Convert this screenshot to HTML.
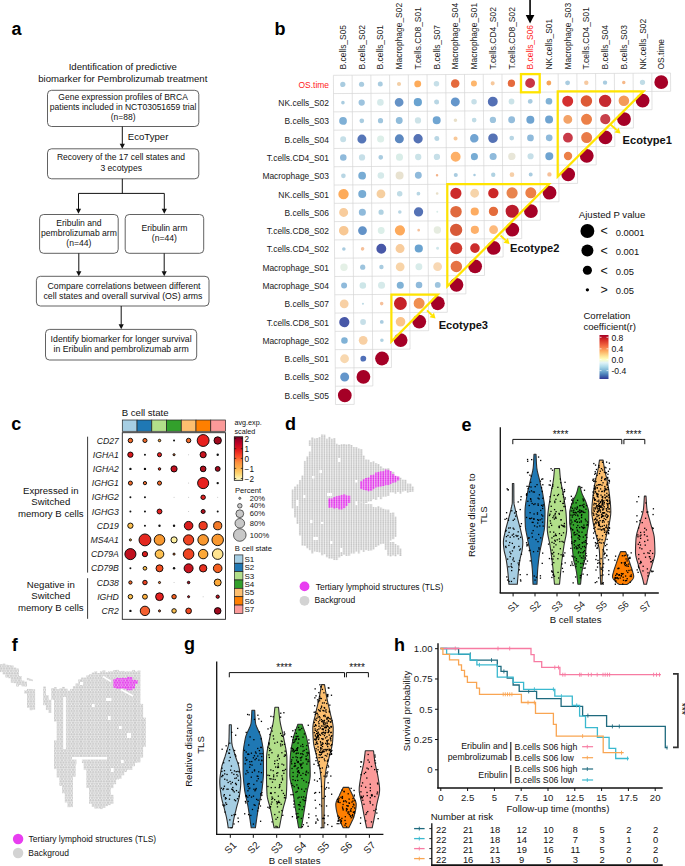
<!DOCTYPE html><html><head><meta charset="utf-8"><style>html,body{margin:0;padding:0;background:#fff;}svg{display:block;}</style></head><body><svg width="685" height="866" viewBox="0 0 685 866" style="font-family:'Liberation Sans',sans-serif"><rect width="685" height="866" fill="#fff"/><text x="11.50" y="34.50" font-size="18" text-anchor="start" font-weight="bold" font-style="normal" fill="#000" >a</text>
<text x="274.50" y="34.80" font-size="18" text-anchor="start" font-weight="bold" font-style="normal" fill="#000" >b</text>
<text x="11.30" y="429.80" font-size="18" text-anchor="start" font-weight="bold" font-style="normal" fill="#000" >c</text>
<text x="285.00" y="430.20" font-size="18" text-anchor="start" font-weight="bold" font-style="normal" fill="#000" >d</text>
<text x="461.60" y="430.70" font-size="18" text-anchor="start" font-weight="bold" font-style="normal" fill="#000" >e</text>
<text x="11.70" y="650.70" font-size="18" text-anchor="start" font-weight="bold" font-style="normal" fill="#000" >f</text>
<text x="183.90" y="650.00" font-size="18" text-anchor="start" font-weight="bold" font-style="normal" fill="#000" >g</text>
<text x="394.00" y="650.80" font-size="18" text-anchor="start" font-weight="bold" font-style="normal" fill="#000" >h</text>
<text x="122.80" y="70.40" font-size="9.6" text-anchor="middle" font-weight="normal" font-style="normal" fill="#111" >Identification of predictive</text>
<text x="122.80" y="81.50" font-size="9.6" text-anchor="middle" font-weight="normal" font-style="normal" fill="#111" >biomarker for Pembrolizumab treatment</text>
<rect x="47.50" y="90.30" width="151.30" height="36.20" rx="4" ry="4" fill="none" stroke="#3a3a3a" stroke-width="0.8"/>
<text x="123.10" y="100.20" font-size="8.5" text-anchor="middle" font-weight="normal" font-style="normal" fill="#111" >Gene expression profiles of BRCA</text>
<text x="123.10" y="109.90" font-size="8.5" text-anchor="middle" font-weight="normal" font-style="normal" fill="#111" >patients included in NCT03051659 trial</text>
<text x="123.10" y="120.00" font-size="8.5" text-anchor="middle" font-weight="normal" font-style="normal" fill="#111" >(n=88)</text>
<line x1="122.3" y1="126.5" x2="122.3" y2="144.3" stroke="#111" stroke-width="1"/>
<path d="M119.7,143.8 L124.89999999999999,143.8 L122.3,148.8 Z" fill="#111"/>
<text x="127.80" y="140.00" font-size="9.6" text-anchor="start" font-weight="normal" font-style="normal" fill="#111" >EcoTyper</text>
<rect x="47.50" y="148.80" width="151.30" height="30.00" rx="4" ry="4" fill="none" stroke="#3a3a3a" stroke-width="0.8"/>
<text x="121.00" y="160.40" font-size="8.5" text-anchor="middle" font-weight="normal" font-style="normal" fill="#111" >Recovery of the 17 cell states and</text>
<text x="121.20" y="171.00" font-size="8.6" text-anchor="middle" font-weight="normal" font-style="normal" fill="#111" >3 ecotypes</text>
<polyline points="122.3,178.8 122.3,193.4" fill="none" stroke="#111" stroke-width="1"/>
<polyline points="78.5,193.4 164.3,193.4" fill="none" stroke="#111" stroke-width="1"/>
<line x1="78.5" y1="193.4" x2="78.5" y2="209.3" stroke="#111" stroke-width="1"/>
<path d="M75.9,208.8 L81.1,208.8 L78.5,213.8 Z" fill="#111"/>
<line x1="164.3" y1="193.4" x2="164.3" y2="209.3" stroke="#111" stroke-width="1"/>
<path d="M161.70000000000002,208.8 L166.9,208.8 L164.3,213.8 Z" fill="#111"/>
<rect x="39.60" y="214.50" width="78.60" height="38.80" rx="4" ry="4" fill="none" stroke="#3a3a3a" stroke-width="0.8"/>
<text x="78.90" y="226.00" font-size="8.6" text-anchor="middle" font-weight="normal" font-style="normal" fill="#111" >Eribulin and</text>
<text x="78.90" y="236.40" font-size="8.6" text-anchor="middle" font-weight="normal" font-style="normal" fill="#111" >pembrolizumab arm</text>
<text x="78.90" y="246.20" font-size="8.6" text-anchor="middle" font-weight="normal" font-style="normal" fill="#111" >(n=44)</text>
<rect x="125.20" y="214.50" width="78.50" height="38.80" rx="4" ry="4" fill="none" stroke="#3a3a3a" stroke-width="0.8"/>
<text x="164.40" y="230.50" font-size="8.6" text-anchor="middle" font-weight="normal" font-style="normal" fill="#111" >Eribulin arm</text>
<text x="164.40" y="240.80" font-size="8.6" text-anchor="middle" font-weight="normal" font-style="normal" fill="#111" >(n=44)</text>
<line x1="78.8" y1="253.3" x2="78.8" y2="271.7" stroke="#111" stroke-width="1"/>
<path d="M76.2,271.2 L81.39999999999999,271.2 L78.8,276.2 Z" fill="#111"/>
<line x1="164.2" y1="253.3" x2="164.2" y2="271.7" stroke="#111" stroke-width="1"/>
<path d="M161.6,271.2 L166.79999999999998,271.2 L164.2,276.2 Z" fill="#111"/>
<rect x="36.40" y="276.30" width="172.60" height="29.70" rx="4" ry="4" fill="none" stroke="#3a3a3a" stroke-width="0.8"/>
<text x="124.00" y="288.50" font-size="8.75" text-anchor="middle" font-weight="normal" font-style="normal" fill="#111" >Compare correlations between different</text>
<text x="123.00" y="298.60" font-size="8.75" text-anchor="middle" font-weight="normal" font-style="normal" fill="#111" >cell states and overall survival (OS) arms</text>
<line x1="121.2" y1="306" x2="121.2" y2="324.8" stroke="#111" stroke-width="1"/>
<path d="M118.60000000000001,324.3 L123.8,324.3 L121.2,329.3 Z" fill="#111"/>
<rect x="45.50" y="329.40" width="151.20" height="30.60" rx="4" ry="4" fill="none" stroke="#3a3a3a" stroke-width="0.8"/>
<text x="121.10" y="342.00" font-size="8.75" text-anchor="middle" font-weight="normal" font-style="normal" fill="#111" >Identify biomarker for longer survival</text>
<text x="121.10" y="352.20" font-size="8.75" text-anchor="middle" font-weight="normal" font-style="normal" fill="#111" >in Eribulin and pembrolizumab arm</text>
<g transform="matrix(1,-0.006834,0.006342,1,-0.4776,2.2784)">
<line x1="333.40" y1="75.30" x2="670.54" y2="75.30" stroke="#d6d6d6" stroke-width="0.7"/>
<line x1="333.40" y1="93.59" x2="670.54" y2="93.59" stroke="#d6d6d6" stroke-width="0.7"/>
<line x1="333.40" y1="111.88" x2="651.81" y2="111.88" stroke="#d6d6d6" stroke-width="0.7"/>
<line x1="333.40" y1="130.17" x2="633.08" y2="130.17" stroke="#d6d6d6" stroke-width="0.7"/>
<line x1="333.40" y1="148.46" x2="614.35" y2="148.46" stroke="#d6d6d6" stroke-width="0.7"/>
<line x1="333.40" y1="166.75" x2="595.62" y2="166.75" stroke="#d6d6d6" stroke-width="0.7"/>
<line x1="333.40" y1="185.04" x2="576.89" y2="185.04" stroke="#d6d6d6" stroke-width="0.7"/>
<line x1="333.40" y1="203.33" x2="558.16" y2="203.33" stroke="#d6d6d6" stroke-width="0.7"/>
<line x1="333.40" y1="221.62" x2="539.43" y2="221.62" stroke="#d6d6d6" stroke-width="0.7"/>
<line x1="333.40" y1="239.91" x2="520.70" y2="239.91" stroke="#d6d6d6" stroke-width="0.7"/>
<line x1="333.40" y1="258.20" x2="501.97" y2="258.20" stroke="#d6d6d6" stroke-width="0.7"/>
<line x1="333.40" y1="276.49" x2="483.24" y2="276.49" stroke="#d6d6d6" stroke-width="0.7"/>
<line x1="333.40" y1="294.78" x2="464.51" y2="294.78" stroke="#d6d6d6" stroke-width="0.7"/>
<line x1="333.40" y1="313.07" x2="445.78" y2="313.07" stroke="#d6d6d6" stroke-width="0.7"/>
<line x1="333.40" y1="331.36" x2="427.05" y2="331.36" stroke="#d6d6d6" stroke-width="0.7"/>
<line x1="333.40" y1="349.65" x2="408.32" y2="349.65" stroke="#d6d6d6" stroke-width="0.7"/>
<line x1="333.40" y1="367.94" x2="389.59" y2="367.94" stroke="#d6d6d6" stroke-width="0.7"/>
<line x1="333.40" y1="386.23" x2="370.86" y2="386.23" stroke="#d6d6d6" stroke-width="0.7"/>
<line x1="333.40" y1="404.52" x2="352.13" y2="404.52" stroke="#d6d6d6" stroke-width="0.7"/>
<line x1="333.40" y1="75.30" x2="333.40" y2="404.52" stroke="#d6d6d6" stroke-width="0.7"/>
<line x1="352.13" y1="75.30" x2="352.13" y2="404.52" stroke="#d6d6d6" stroke-width="0.7"/>
<line x1="370.86" y1="75.30" x2="370.86" y2="386.23" stroke="#d6d6d6" stroke-width="0.7"/>
<line x1="389.59" y1="75.30" x2="389.59" y2="367.94" stroke="#d6d6d6" stroke-width="0.7"/>
<line x1="408.32" y1="75.30" x2="408.32" y2="349.65" stroke="#d6d6d6" stroke-width="0.7"/>
<line x1="427.05" y1="75.30" x2="427.05" y2="331.36" stroke="#d6d6d6" stroke-width="0.7"/>
<line x1="445.78" y1="75.30" x2="445.78" y2="313.07" stroke="#d6d6d6" stroke-width="0.7"/>
<line x1="464.51" y1="75.30" x2="464.51" y2="294.78" stroke="#d6d6d6" stroke-width="0.7"/>
<line x1="483.24" y1="75.30" x2="483.24" y2="276.49" stroke="#d6d6d6" stroke-width="0.7"/>
<line x1="501.97" y1="75.30" x2="501.97" y2="258.20" stroke="#d6d6d6" stroke-width="0.7"/>
<line x1="520.70" y1="75.30" x2="520.70" y2="239.91" stroke="#d6d6d6" stroke-width="0.7"/>
<line x1="539.43" y1="75.30" x2="539.43" y2="221.62" stroke="#d6d6d6" stroke-width="0.7"/>
<line x1="558.16" y1="75.30" x2="558.16" y2="203.33" stroke="#d6d6d6" stroke-width="0.7"/>
<line x1="576.89" y1="75.30" x2="576.89" y2="185.04" stroke="#d6d6d6" stroke-width="0.7"/>
<line x1="595.62" y1="75.30" x2="595.62" y2="166.75" stroke="#d6d6d6" stroke-width="0.7"/>
<line x1="614.35" y1="75.30" x2="614.35" y2="148.46" stroke="#d6d6d6" stroke-width="0.7"/>
<line x1="633.08" y1="75.30" x2="633.08" y2="130.17" stroke="#d6d6d6" stroke-width="0.7"/>
<line x1="651.81" y1="75.30" x2="651.81" y2="111.88" stroke="#d6d6d6" stroke-width="0.7"/>
<line x1="670.54" y1="75.30" x2="670.54" y2="93.59" stroke="#d6d6d6" stroke-width="0.7"/>
<circle cx="342.76" cy="84.44" r="2.60" fill="#a9cce0"/>
<circle cx="361.50" cy="84.44" r="2.60" fill="#a9cce0"/>
<circle cx="380.22" cy="84.44" r="2.50" fill="#a9cce0"/>
<circle cx="398.95" cy="84.44" r="2.05" fill="#f3cfa6"/>
<circle cx="417.68" cy="84.44" r="3.45" fill="#fdab5a"/>
<circle cx="436.41" cy="84.44" r="2.75" fill="#c6dfe8"/>
<circle cx="455.14" cy="84.44" r="4.25" fill="#e56a3c"/>
<circle cx="473.88" cy="84.44" r="3.00" fill="#fdb66d"/>
<circle cx="492.61" cy="84.44" r="2.05" fill="#f6c89c"/>
<circle cx="511.33" cy="84.44" r="3.70" fill="#e56a3c"/>
<circle cx="530.06" cy="84.44" r="4.90" fill="#c93545"/>
<circle cx="548.79" cy="84.44" r="2.45" fill="#f6a55c"/>
<circle cx="567.52" cy="84.44" r="2.45" fill="#a9cce0"/>
<circle cx="586.25" cy="84.44" r="2.20" fill="#f6c9a0"/>
<circle cx="604.98" cy="84.44" r="2.20" fill="#a9cce0"/>
<circle cx="623.71" cy="84.44" r="1.75" fill="#f6b888"/>
<circle cx="642.44" cy="84.44" r="2.65" fill="#c0dce6"/>
<circle cx="661.17" cy="84.44" r="6.90" fill="#a50026"/>
<circle cx="342.76" cy="102.73" r="1.80" fill="#a9cce0"/>
<circle cx="361.50" cy="102.73" r="3.15" fill="#9dc3de"/>
<circle cx="380.22" cy="102.73" r="3.30" fill="#d6eaea"/>
<circle cx="398.95" cy="102.73" r="4.40" fill="#6592c6"/>
<circle cx="417.68" cy="102.73" r="4.10" fill="#6aa3d0"/>
<circle cx="436.41" cy="102.73" r="2.50" fill="#b8d6e4"/>
<circle cx="455.14" cy="102.73" r="4.50" fill="#6496cb"/>
<circle cx="473.88" cy="102.73" r="2.75" fill="#c6dfe8"/>
<circle cx="492.61" cy="102.73" r="4.95" fill="#5470b5"/>
<circle cx="511.33" cy="102.73" r="2.90" fill="#cbe3e8"/>
<circle cx="530.06" cy="102.73" r="2.45" fill="#a9cce0"/>
<circle cx="548.79" cy="102.73" r="3.35" fill="#80b2d6"/>
<circle cx="567.52" cy="102.73" r="5.50" fill="#d42f2f"/>
<circle cx="586.25" cy="102.73" r="5.75" fill="#dd5a36"/>
<circle cx="604.98" cy="102.73" r="6.20" fill="#c62a30"/>
<circle cx="623.71" cy="102.73" r="5.30" fill="#f39a5a"/>
<circle cx="642.44" cy="102.73" r="6.90" fill="#a50026"/>
<circle cx="342.76" cy="121.02" r="3.85" fill="#7fb0d6"/>
<circle cx="361.50" cy="121.02" r="2.35" fill="#a9cce0"/>
<circle cx="380.22" cy="121.02" r="2.60" fill="#a0c6de"/>
<circle cx="398.95" cy="121.02" r="3.45" fill="#90bcdb"/>
<circle cx="417.68" cy="121.02" r="3.15" fill="#cde3e8"/>
<circle cx="436.41" cy="121.02" r="4.00" fill="#70a5d2"/>
<circle cx="455.14" cy="121.02" r="1.80" fill="#e8dfc8"/>
<circle cx="473.88" cy="121.02" r="2.35" fill="#c0dce6"/>
<circle cx="492.61" cy="121.02" r="3.15" fill="#9dc4de"/>
<circle cx="511.33" cy="121.02" r="3.45" fill="#94bddc"/>
<circle cx="530.06" cy="121.02" r="4.00" fill="#6fa4d1"/>
<circle cx="548.79" cy="121.02" r="4.00" fill="#6fa4d1"/>
<circle cx="567.52" cy="121.02" r="4.45" fill="#f3a368"/>
<circle cx="586.25" cy="121.02" r="5.50" fill="#ec8048"/>
<circle cx="604.98" cy="121.02" r="5.10" fill="#c8404a"/>
<circle cx="623.71" cy="121.02" r="6.90" fill="#a50026"/>
<circle cx="342.76" cy="139.31" r="3.00" fill="#c5dfe8"/>
<circle cx="361.50" cy="139.31" r="4.50" fill="#5676b8"/>
<circle cx="380.22" cy="139.31" r="3.55" fill="#ddefe9"/>
<circle cx="398.95" cy="139.31" r="4.50" fill="#5c88c0"/>
<circle cx="417.68" cy="139.31" r="4.65" fill="#5572b5"/>
<circle cx="436.41" cy="139.31" r="2.50" fill="#b8d6e4"/>
<circle cx="455.14" cy="139.31" r="2.05" fill="#f8c898"/>
<circle cx="473.88" cy="139.31" r="4.25" fill="#72a4d2"/>
<circle cx="492.61" cy="139.31" r="4.80" fill="#5572b5"/>
<circle cx="511.33" cy="139.31" r="2.35" fill="#b8d6e4"/>
<circle cx="530.06" cy="139.31" r="3.35" fill="#8fbadb"/>
<circle cx="548.79" cy="139.31" r="3.35" fill="#8fbadb"/>
<circle cx="567.52" cy="139.31" r="4.90" fill="#c83a48"/>
<circle cx="586.25" cy="139.31" r="5.50" fill="#e97a48"/>
<circle cx="604.98" cy="139.31" r="6.90" fill="#a50026"/>
<circle cx="342.76" cy="157.60" r="3.30" fill="#8fbadb"/>
<circle cx="361.50" cy="157.60" r="3.15" fill="#c6dfe8"/>
<circle cx="380.22" cy="157.60" r="2.35" fill="#a9cce0"/>
<circle cx="398.95" cy="157.60" r="3.55" fill="#d9ede8"/>
<circle cx="417.68" cy="157.60" r="3.15" fill="#cbe3e8"/>
<circle cx="436.41" cy="157.60" r="3.15" fill="#c6dfe8"/>
<circle cx="455.14" cy="157.60" r="4.95" fill="#fdb068"/>
<circle cx="473.88" cy="157.60" r="3.55" fill="#78acd4"/>
<circle cx="492.61" cy="157.60" r="3.55" fill="#8fbadb"/>
<circle cx="511.33" cy="157.60" r="3.70" fill="#e8e6d8"/>
<circle cx="530.06" cy="157.60" r="3.10" fill="#c6dfe8"/>
<circle cx="548.79" cy="157.60" r="4.00" fill="#6fa4d1"/>
<circle cx="567.52" cy="157.60" r="4.20" fill="#ec8048"/>
<circle cx="586.25" cy="157.60" r="6.90" fill="#a50026"/>
<circle cx="342.76" cy="175.89" r="2.35" fill="#b8d6e4"/>
<circle cx="361.50" cy="175.89" r="3.85" fill="#78acd4"/>
<circle cx="380.22" cy="175.89" r="3.30" fill="#d6eaea"/>
<circle cx="398.95" cy="175.89" r="4.00" fill="#e8e2d0"/>
<circle cx="417.68" cy="175.89" r="3.45" fill="#8fbadb"/>
<circle cx="436.41" cy="175.89" r="1.25" fill="#f3b38a"/>
<circle cx="455.14" cy="175.89" r="2.05" fill="#a9cce0"/>
<circle cx="473.88" cy="175.89" r="1.25" fill="#a9cce0"/>
<circle cx="492.61" cy="175.89" r="2.20" fill="#b0d2e2"/>
<circle cx="511.33" cy="175.89" r="2.35" fill="#f6cfa8"/>
<circle cx="530.06" cy="175.89" r="2.00" fill="#a9cce0"/>
<circle cx="548.79" cy="175.89" r="2.20" fill="#f6c09a"/>
<circle cx="567.52" cy="175.89" r="6.90" fill="#a50026"/>
<circle cx="342.76" cy="194.19" r="5.20" fill="#fdab5a"/>
<circle cx="361.50" cy="194.19" r="4.00" fill="#78acd4"/>
<circle cx="380.22" cy="194.19" r="4.40" fill="#f6cfa0"/>
<circle cx="398.95" cy="194.19" r="2.75" fill="#c0dce6"/>
<circle cx="417.68" cy="194.19" r="1.90" fill="#b8d6e4"/>
<circle cx="436.41" cy="194.19" r="1.35" fill="#e8dfc8"/>
<circle cx="455.14" cy="194.19" r="5.60" fill="#cc2a2a"/>
<circle cx="473.88" cy="194.19" r="4.40" fill="#f6d4aa"/>
<circle cx="492.61" cy="194.19" r="5.20" fill="#cc2828"/>
<circle cx="511.33" cy="194.19" r="5.60" fill="#e8844e"/>
<circle cx="530.06" cy="194.19" r="5.50" fill="#ec8048"/>
<circle cx="548.79" cy="194.19" r="6.90" fill="#a50026"/>
<circle cx="342.76" cy="212.47" r="4.50" fill="#f8cc9c"/>
<circle cx="361.50" cy="212.47" r="3.55" fill="#8fbadb"/>
<circle cx="380.22" cy="212.47" r="2.60" fill="#b0d2e2"/>
<circle cx="398.95" cy="212.47" r="1.80" fill="#b8d6e4"/>
<circle cx="417.68" cy="212.47" r="4.65" fill="#5572b5"/>
<circle cx="436.41" cy="212.47" r="0.95" fill="#d8ece8"/>
<circle cx="455.14" cy="212.47" r="5.75" fill="#e06a3e"/>
<circle cx="473.88" cy="212.47" r="4.10" fill="#fdac62"/>
<circle cx="492.61" cy="212.47" r="4.65" fill="#e46c3c"/>
<circle cx="511.33" cy="212.47" r="6.60" fill="#bb1b2c"/>
<circle cx="530.06" cy="212.47" r="6.90" fill="#a50026"/>
<circle cx="342.76" cy="230.76" r="4.80" fill="#f8c894"/>
<circle cx="361.50" cy="230.76" r="4.40" fill="#6393c8"/>
<circle cx="380.22" cy="230.76" r="3.45" fill="#dcefe9"/>
<circle cx="398.95" cy="230.76" r="5.10" fill="#fdaa5c"/>
<circle cx="417.68" cy="230.76" r="1.35" fill="#f6c09a"/>
<circle cx="436.41" cy="230.76" r="3.70" fill="#e6ece0"/>
<circle cx="455.14" cy="230.76" r="6.15" fill="#d85a38"/>
<circle cx="473.88" cy="230.76" r="4.10" fill="#fdb06a"/>
<circle cx="492.61" cy="230.76" r="4.40" fill="#fdba7c"/>
<circle cx="511.33" cy="230.76" r="6.90" fill="#a50026"/>
<circle cx="342.76" cy="249.06" r="1.80" fill="#a9cce0"/>
<circle cx="361.50" cy="249.06" r="1.80" fill="#f6c09a"/>
<circle cx="380.22" cy="249.06" r="4.95" fill="#4858a8"/>
<circle cx="398.95" cy="249.06" r="4.50" fill="#f8cc9c"/>
<circle cx="417.68" cy="249.06" r="4.10" fill="#6aa3d0"/>
<circle cx="436.41" cy="249.06" r="1.50" fill="#cfe6ea"/>
<circle cx="455.14" cy="249.06" r="6.00" fill="#d03a2e"/>
<circle cx="473.88" cy="249.06" r="4.80" fill="#cc2c2c"/>
<circle cx="492.61" cy="249.06" r="6.90" fill="#a50026"/>
<circle cx="342.76" cy="267.34" r="3.70" fill="#e4f0e6"/>
<circle cx="361.50" cy="267.34" r="2.60" fill="#9dc4de"/>
<circle cx="380.22" cy="267.34" r="2.20" fill="#a9cce0"/>
<circle cx="398.95" cy="267.34" r="4.40" fill="#f8d4a8"/>
<circle cx="417.68" cy="267.34" r="3.45" fill="#d8ecea"/>
<circle cx="436.41" cy="267.34" r="4.40" fill="#f8d8b4"/>
<circle cx="455.14" cy="267.34" r="5.75" fill="#e67245"/>
<circle cx="473.88" cy="267.34" r="6.90" fill="#a50026"/>
<circle cx="342.76" cy="285.63" r="3.00" fill="#8fbadb"/>
<circle cx="361.50" cy="285.63" r="3.30" fill="#cde6e8"/>
<circle cx="380.22" cy="285.63" r="3.55" fill="#d6eaea"/>
<circle cx="398.95" cy="285.63" r="3.55" fill="#80b2d6"/>
<circle cx="417.68" cy="285.63" r="3.30" fill="#8fbadb"/>
<circle cx="436.41" cy="285.63" r="2.90" fill="#9dc4de"/>
<circle cx="455.14" cy="285.63" r="6.90" fill="#a50026"/>
<circle cx="342.76" cy="303.93" r="4.40" fill="#f8d0a4"/>
<circle cx="361.50" cy="303.93" r="1.10" fill="#c0dce6"/>
<circle cx="380.22" cy="303.93" r="1.80" fill="#f6c09a"/>
<circle cx="398.95" cy="303.93" r="6.45" fill="#c62228"/>
<circle cx="417.68" cy="303.93" r="5.50" fill="#f08f50"/>
<circle cx="436.41" cy="303.93" r="6.90" fill="#a50026"/>
<circle cx="342.76" cy="322.21" r="5.10" fill="#4858a8"/>
<circle cx="361.50" cy="322.21" r="2.90" fill="#c6dfe8"/>
<circle cx="380.22" cy="322.21" r="1.90" fill="#a9cce0"/>
<circle cx="398.95" cy="322.21" r="4.80" fill="#fbc48a"/>
<circle cx="417.68" cy="322.21" r="6.90" fill="#a50026"/>
<circle cx="342.76" cy="340.50" r="3.30" fill="#80b2d6"/>
<circle cx="361.50" cy="340.50" r="4.40" fill="#f8d0a4"/>
<circle cx="380.22" cy="340.50" r="1.80" fill="#b0d2e2"/>
<circle cx="398.95" cy="340.50" r="6.90" fill="#a50026"/>
<circle cx="342.76" cy="358.80" r="4.40" fill="#f8d8b0"/>
<circle cx="361.50" cy="358.80" r="2.90" fill="#5070b8"/>
<circle cx="380.22" cy="358.80" r="6.90" fill="#a50026"/>
<circle cx="342.76" cy="377.08" r="4.50" fill="#6496cb"/>
<circle cx="361.50" cy="377.08" r="6.90" fill="#a50026"/>
<circle cx="342.76" cy="395.38" r="6.90" fill="#a50026"/>
</g>
<text x="329.00" y="87.84" font-size="8.45" text-anchor="end" font-weight="normal" font-style="normal" fill="#ff1a1a" >OS.time</text>
<text x="329.00" y="106.14" font-size="8.45" text-anchor="end" font-weight="normal" font-style="normal" fill="#1a1a1a" >NK.cells_S02</text>
<text x="329.00" y="124.42" font-size="8.45" text-anchor="end" font-weight="normal" font-style="normal" fill="#1a1a1a" >B.cells_S03</text>
<text x="329.00" y="142.72" font-size="8.45" text-anchor="end" font-weight="normal" font-style="normal" fill="#1a1a1a" >B.cells_S04</text>
<text x="329.00" y="161.00" font-size="8.45" text-anchor="end" font-weight="normal" font-style="normal" fill="#1a1a1a" >T.cells.CD4_S01</text>
<text x="329.00" y="179.29" font-size="8.45" text-anchor="end" font-weight="normal" font-style="normal" fill="#1a1a1a" >Macrophage_S03</text>
<text x="329.00" y="197.59" font-size="8.45" text-anchor="end" font-weight="normal" font-style="normal" fill="#1a1a1a" >NK.cells_S01</text>
<text x="329.00" y="215.87" font-size="8.45" text-anchor="end" font-weight="normal" font-style="normal" fill="#1a1a1a" >B.cells_S06</text>
<text x="329.00" y="234.16" font-size="8.45" text-anchor="end" font-weight="normal" font-style="normal" fill="#1a1a1a" >T.cells.CD8_S02</text>
<text x="329.00" y="252.46" font-size="8.45" text-anchor="end" font-weight="normal" font-style="normal" fill="#1a1a1a" >T.cells.CD4_S02</text>
<text x="329.00" y="270.74" font-size="8.45" text-anchor="end" font-weight="normal" font-style="normal" fill="#1a1a1a" >Macrophage_S01</text>
<text x="329.00" y="289.03" font-size="8.45" text-anchor="end" font-weight="normal" font-style="normal" fill="#1a1a1a" >Macrophage_S04</text>
<text x="329.00" y="307.32" font-size="8.45" text-anchor="end" font-weight="normal" font-style="normal" fill="#1a1a1a" >B.cells_S07</text>
<text x="329.00" y="325.61" font-size="8.45" text-anchor="end" font-weight="normal" font-style="normal" fill="#1a1a1a" >T.cells.CD8_S01</text>
<text x="329.00" y="343.90" font-size="8.45" text-anchor="end" font-weight="normal" font-style="normal" fill="#1a1a1a" >Macrophage_S02</text>
<text x="329.00" y="362.19" font-size="8.45" text-anchor="end" font-weight="normal" font-style="normal" fill="#1a1a1a" >B.cells_S01</text>
<text x="329.00" y="380.48" font-size="8.45" text-anchor="end" font-weight="normal" font-style="normal" fill="#1a1a1a" >B.cells_S02</text>
<text x="329.00" y="398.77" font-size="8.45" text-anchor="end" font-weight="normal" font-style="normal" fill="#1a1a1a" >B.cells_S05</text>
<text x="0.00" y="0.00" font-size="8.45" text-anchor="start" font-weight="normal" font-style="normal" fill="#1a1a1a" transform="translate(345.96,69.5) rotate(-90)">B.cells_S05</text>
<text x="0.00" y="0.00" font-size="8.45" text-anchor="start" font-weight="normal" font-style="normal" fill="#1a1a1a" transform="translate(364.69,69.5) rotate(-90)">B.cells_S02</text>
<text x="0.00" y="0.00" font-size="8.45" text-anchor="start" font-weight="normal" font-style="normal" fill="#1a1a1a" transform="translate(383.42,69.5) rotate(-90)">B.cells_S01</text>
<text x="0.00" y="0.00" font-size="8.45" text-anchor="start" font-weight="normal" font-style="normal" fill="#1a1a1a" transform="translate(402.15,69.5) rotate(-90)">Macrophage_S02</text>
<text x="0.00" y="0.00" font-size="8.45" text-anchor="start" font-weight="normal" font-style="normal" fill="#1a1a1a" transform="translate(420.88,69.5) rotate(-90)">T.cells.CD8_S01</text>
<text x="0.00" y="0.00" font-size="8.45" text-anchor="start" font-weight="normal" font-style="normal" fill="#1a1a1a" transform="translate(439.61,69.5) rotate(-90)">B.cells_S07</text>
<text x="0.00" y="0.00" font-size="8.45" text-anchor="start" font-weight="normal" font-style="normal" fill="#1a1a1a" transform="translate(458.34,69.5) rotate(-90)">Macrophage_S04</text>
<text x="0.00" y="0.00" font-size="8.45" text-anchor="start" font-weight="normal" font-style="normal" fill="#1a1a1a" transform="translate(477.07,69.5) rotate(-90)">Macrophage_S01</text>
<text x="0.00" y="0.00" font-size="8.45" text-anchor="start" font-weight="normal" font-style="normal" fill="#1a1a1a" transform="translate(495.81,69.5) rotate(-90)">T.cells.CD4_S02</text>
<text x="0.00" y="0.00" font-size="8.45" text-anchor="start" font-weight="normal" font-style="normal" fill="#1a1a1a" transform="translate(514.53,69.5) rotate(-90)">T.cells.CD8_S02</text>
<text x="0.00" y="0.00" font-size="8.45" text-anchor="start" font-weight="normal" font-style="normal" fill="#ff1a1a" transform="translate(533.26,69.5) rotate(-90)">B.cells_S06</text>
<text x="0.00" y="0.00" font-size="8.45" text-anchor="start" font-weight="normal" font-style="normal" fill="#1a1a1a" transform="translate(552.00,69.5) rotate(-90)">NK.cells_S01</text>
<text x="0.00" y="0.00" font-size="8.45" text-anchor="start" font-weight="normal" font-style="normal" fill="#1a1a1a" transform="translate(570.73,69.5) rotate(-90)">Macrophage_S03</text>
<text x="0.00" y="0.00" font-size="8.45" text-anchor="start" font-weight="normal" font-style="normal" fill="#1a1a1a" transform="translate(589.46,69.5) rotate(-90)">T.cells.CD4_S01</text>
<text x="0.00" y="0.00" font-size="8.45" text-anchor="start" font-weight="normal" font-style="normal" fill="#1a1a1a" transform="translate(608.18,69.5) rotate(-90)">B.cells_S04</text>
<text x="0.00" y="0.00" font-size="8.45" text-anchor="start" font-weight="normal" font-style="normal" fill="#1a1a1a" transform="translate(626.91,69.5) rotate(-90)">B.cells_S03</text>
<text x="0.00" y="0.00" font-size="8.45" text-anchor="start" font-weight="normal" font-style="normal" fill="#1a1a1a" transform="translate(645.64,69.5) rotate(-90)">NK.cells_S02</text>
<text x="0.00" y="0.00" font-size="8.45" text-anchor="start" font-weight="normal" font-style="normal" fill="#1a1a1a" transform="translate(664.38,69.5) rotate(-90)">OS.time</text>
<line x1="530.06" y1="0" x2="530.06" y2="18" stroke="#000" stroke-width="1.6"/>
<path d="M525.76,15 L534.36,15 L530.06,23.5 Z" fill="#000"/>
<rect x="521.0" y="74.1" width="18.7" height="18.2" fill="none" stroke="#ffe400" stroke-width="2.3"/>
<path d="M557.7,176.6 L557.7,91.3 L643.5,91.3 Z" fill="none" stroke="#ffe400" stroke-width="2.2" stroke-linejoin="miter"/>
<path d="M447.3,286.3 L447.3,184.2 L549.0,184.2 Z" fill="none" stroke="#ffe400" stroke-width="2.2" stroke-linejoin="miter"/>
<path d="M391.4,341.5 L391.4,294.6 L437.8,294.6 Z" fill="none" stroke="#ffe400" stroke-width="2.2" stroke-linejoin="miter"/>
<line x1="610.5" y1="124.5" x2="616.63" y2="130.02" stroke="#ffe400" stroke-width="1.8"/>
<path d="M614.49,132.40 L618.78,127.64 L620.5,133.5 Z" fill="#ffe400"/>
<line x1="500.5" y1="235.5" x2="505.72" y2="240.43" stroke="#ffe400" stroke-width="1.8"/>
<path d="M503.52,242.76 L507.92,238.10 L509.5,244 Z" fill="#ffe400"/>
<line x1="427" y1="310.4" x2="431.76" y2="314.99" stroke="#ffe400" stroke-width="1.8"/>
<path d="M429.54,317.29 L433.98,312.69 L435.5,318.6 Z" fill="#ffe400"/>
<text x="622.60" y="144.10" font-size="11.1" text-anchor="start" font-weight="bold" font-style="normal" fill="#111" >Ecotype1</text>
<text x="510.00" y="252.20" font-size="11.1" text-anchor="start" font-weight="bold" font-style="normal" fill="#111" >Ecotype2</text>
<text x="438.70" y="328.80" font-size="11.1" text-anchor="start" font-weight="bold" font-style="normal" fill="#111" >Ecotype3</text>
<text x="578.80" y="217.90" font-size="9.6" text-anchor="start" font-weight="normal" font-style="normal" fill="#111" >Ajusted P value</text>
<circle cx="587.4" cy="231.00" r="6.95" fill="#000"/>
<text x="600.50" y="235.30" font-size="12.5" text-anchor="start" font-weight="normal" font-style="normal" fill="#111" >&lt;</text>
<text x="615.70" y="235.60" font-size="9.4" text-anchor="start" font-weight="normal" font-style="normal" fill="#111" >0.0001</text>
<circle cx="587.4" cy="250.60" r="6.00" fill="#000"/>
<text x="600.50" y="254.90" font-size="12.5" text-anchor="start" font-weight="normal" font-style="normal" fill="#111" >&lt;</text>
<text x="615.70" y="255.20" font-size="9.4" text-anchor="start" font-weight="normal" font-style="normal" fill="#111" >0.001</text>
<circle cx="587.4" cy="270.20" r="4.55" fill="#000"/>
<text x="600.50" y="274.50" font-size="12.5" text-anchor="start" font-weight="normal" font-style="normal" fill="#111" >&lt;</text>
<text x="615.70" y="274.80" font-size="9.4" text-anchor="start" font-weight="normal" font-style="normal" fill="#111" >0.05</text>
<circle cx="587.4" cy="289.80" r="1.65" fill="#000"/>
<text x="600.50" y="294.10" font-size="12.5" text-anchor="start" font-weight="normal" font-style="normal" fill="#111" >&gt;</text>
<text x="615.70" y="294.40" font-size="9.4" text-anchor="start" font-weight="normal" font-style="normal" fill="#111" >0.05</text>
<text x="583.40" y="318.70" font-size="9.6" text-anchor="start" font-weight="normal" font-style="normal" fill="#111" >Correlation</text>
<text x="583.40" y="329.90" font-size="9.6" text-anchor="start" font-weight="normal" font-style="normal" fill="#111" >coefficient(r)</text>
<defs><linearGradient id="rdylbu" x1="0" y1="0" x2="0" y2="1"><stop offset="0" stop-color="#a50026"/><stop offset="0.12" stop-color="#d73027"/><stop offset="0.25" stop-color="#f46d43"/><stop offset="0.37" stop-color="#fdae61"/><stop offset="0.47" stop-color="#fee090"/><stop offset="0.55" stop-color="#ffffbf"/><stop offset="0.63" stop-color="#e0f3f8"/><stop offset="0.72" stop-color="#abd9e9"/><stop offset="0.82" stop-color="#74add1"/><stop offset="0.91" stop-color="#4575b4"/><stop offset="1" stop-color="#313695"/></linearGradient></defs>
<rect x="599.5" y="335" width="9" height="44" fill="url(#rdylbu)"/>
<line x1="599.5" y1="337.3" x2="601.5" y2="337.3" stroke="#fff" stroke-width="0.7"/>
<line x1="606.5" y1="337.3" x2="608.5" y2="337.3" stroke="#fff" stroke-width="0.7"/>
<text x="611.40" y="340.50" font-size="8.6" text-anchor="start" font-weight="normal" font-style="normal" fill="#111" >0.8</text>
<line x1="599.5" y1="348.8" x2="601.5" y2="348.8" stroke="#fff" stroke-width="0.7"/>
<line x1="606.5" y1="348.8" x2="608.5" y2="348.8" stroke="#fff" stroke-width="0.7"/>
<text x="611.40" y="352.00" font-size="8.6" text-anchor="start" font-weight="normal" font-style="normal" fill="#111" >0.4</text>
<line x1="599.5" y1="359.6" x2="601.5" y2="359.6" stroke="#fff" stroke-width="0.7"/>
<line x1="606.5" y1="359.6" x2="608.5" y2="359.6" stroke="#fff" stroke-width="0.7"/>
<text x="611.40" y="362.80" font-size="8.6" text-anchor="start" font-weight="normal" font-style="normal" fill="#111" >0.0</text>
<line x1="599.5" y1="370.6" x2="601.5" y2="370.6" stroke="#fff" stroke-width="0.7"/>
<line x1="606.5" y1="370.6" x2="608.5" y2="370.6" stroke="#fff" stroke-width="0.7"/>
<text x="611.40" y="373.80" font-size="8.6" text-anchor="start" font-weight="normal" font-style="normal" fill="#111" >-0.4</text>
<text x="121.70" y="416.30" font-size="9.6" text-anchor="start" font-weight="normal" font-style="normal" fill="#111" >B cell state</text>
<rect x="122.30" y="420" width="14.74" height="11.3" fill="#a6cee3" stroke="#222" stroke-width="0.7"/>
<rect x="137.04" y="420" width="14.74" height="11.3" fill="#1f78b4" stroke="#222" stroke-width="0.7"/>
<rect x="151.79" y="420" width="14.74" height="11.3" fill="#b2df8a" stroke="#222" stroke-width="0.7"/>
<rect x="166.53" y="420" width="14.74" height="11.3" fill="#33a02c" stroke="#222" stroke-width="0.7"/>
<rect x="181.27" y="420" width="14.74" height="11.3" fill="#fdbf6f" stroke="#222" stroke-width="0.7"/>
<rect x="196.01" y="420" width="14.74" height="11.3" fill="#ff7f00" stroke="#222" stroke-width="0.7"/>
<rect x="210.76" y="420" width="14.74" height="11.3" fill="#fb9a99" stroke="#222" stroke-width="0.7"/>
<rect x="122.3" y="432.7" width="103.2" height="186.6" fill="none" stroke="#222" stroke-width="0.9"/>
<text x="118.90" y="443.60" font-size="8.7" text-anchor="end" font-weight="normal" font-style="italic" fill="#1a1a1a" >CD27</text>
<circle cx="130.40" cy="440.50" r="2.25" fill="#f06a2a" stroke="#000" stroke-width="0.9"/>
<circle cx="144.95" cy="440.50" r="2.05" fill="#f06a2a" stroke="#000" stroke-width="0.9"/>
<circle cx="159.50" cy="440.50" r="1.25" fill="#f6a030" stroke="#000" stroke-width="0.9"/>
<circle cx="174.05" cy="440.50" r="1.00" fill="#111"/>
<circle cx="188.60" cy="440.50" r="2.25" fill="#f06a2a" stroke="#000" stroke-width="0.9"/>
<circle cx="203.15" cy="440.50" r="5.95" fill="#e8201e" stroke="#000" stroke-width="0.9"/>
<circle cx="217.70" cy="440.50" r="3.70" fill="#a00a1e" stroke="#000" stroke-width="0.9"/>
<text x="118.90" y="457.80" font-size="8.7" text-anchor="end" font-weight="normal" font-style="italic" fill="#1a1a1a" >IGHA1</text>
<circle cx="130.40" cy="454.70" r="2.65" fill="#d8181c" stroke="#000" stroke-width="0.9"/>
<circle cx="144.95" cy="454.70" r="1.00" fill="#111"/>
<circle cx="159.50" cy="454.70" r="2.05" fill="#e42020" stroke="#000" stroke-width="0.9"/>
<circle cx="174.05" cy="454.70" r="1.05" fill="#d86a30" stroke="#000" stroke-width="0.9"/>
<circle cx="188.60" cy="454.70" r="0.5" fill="#bbb"/>
<circle cx="203.15" cy="454.70" r="3.10" fill="#c81420" stroke="#000" stroke-width="0.9"/>
<circle cx="217.70" cy="454.70" r="1.20" fill="#111"/>
<text x="118.90" y="472.00" font-size="8.7" text-anchor="end" font-weight="normal" font-style="italic" fill="#1a1a1a" >IGHA2</text>
<circle cx="130.40" cy="468.90" r="1.20" fill="#111"/>
<circle cx="144.95" cy="468.90" r="1.20" fill="#111"/>
<circle cx="159.50" cy="468.90" r="1.25" fill="#e83a20" stroke="#000" stroke-width="0.9"/>
<circle cx="174.05" cy="468.90" r="3.10" fill="#c0101e" stroke="#000" stroke-width="0.9"/>
<circle cx="203.15" cy="468.90" r="2.85" fill="#b0101e" stroke="#000" stroke-width="0.9"/>
<circle cx="217.70" cy="468.90" r="2.45" fill="#a00a1e" stroke="#000" stroke-width="0.9"/>
<text x="118.90" y="486.20" font-size="8.7" text-anchor="end" font-weight="normal" font-style="italic" fill="#1a1a1a" >IGHG1</text>
<circle cx="130.40" cy="483.10" r="2.05" fill="#f06a2a" stroke="#000" stroke-width="0.9"/>
<circle cx="144.95" cy="483.10" r="1.65" fill="#f06a2a" stroke="#000" stroke-width="0.9"/>
<circle cx="159.50" cy="483.10" r="2.05" fill="#f06a2a" stroke="#000" stroke-width="0.9"/>
<circle cx="188.60" cy="483.10" r="0.5" fill="#bbb"/>
<circle cx="203.15" cy="483.10" r="5.55" fill="#e8201e" stroke="#000" stroke-width="0.9"/>
<circle cx="217.70" cy="483.10" r="1.20" fill="#111"/>
<text x="118.90" y="500.40" font-size="8.7" text-anchor="end" font-weight="normal" font-style="italic" fill="#1a1a1a" >IGHG2</text>
<circle cx="130.40" cy="497.30" r="1.00" fill="#111"/>
<circle cx="144.95" cy="497.30" r="1.00" fill="#111"/>
<circle cx="174.05" cy="497.30" r="0.5" fill="#bbb"/>
<circle cx="188.60" cy="497.30" r="0.5" fill="#bbb"/>
<circle cx="203.15" cy="497.30" r="2.25" fill="#e02020" stroke="#000" stroke-width="0.9"/>
<circle cx="217.70" cy="497.30" r="0.5" fill="#bbb"/>
<text x="118.90" y="514.60" font-size="8.7" text-anchor="end" font-weight="normal" font-style="italic" fill="#1a1a1a" >IGHG3</text>
<circle cx="130.40" cy="511.50" r="1.00" fill="#111"/>
<circle cx="144.95" cy="511.50" r="1.00" fill="#111"/>
<circle cx="159.50" cy="511.50" r="2.45" fill="#e42020" stroke="#000" stroke-width="0.9"/>
<circle cx="188.60" cy="511.50" r="0.5" fill="#bbb"/>
<circle cx="203.15" cy="511.50" r="2.05" fill="#b0101e" stroke="#000" stroke-width="0.9"/>
<circle cx="217.70" cy="511.50" r="1.00" fill="#111"/>
<text x="118.90" y="528.80" font-size="8.7" text-anchor="end" font-weight="normal" font-style="italic" fill="#1a1a1a" >CD19</text>
<circle cx="130.40" cy="525.70" r="2.65" fill="#fdc050" stroke="#000" stroke-width="0.9"/>
<circle cx="144.95" cy="525.70" r="1.00" fill="#111"/>
<circle cx="159.50" cy="525.70" r="1.20" fill="#111"/>
<circle cx="174.05" cy="525.70" r="1.20" fill="#111"/>
<circle cx="188.60" cy="525.70" r="4.30" fill="#d81c1c" stroke="#000" stroke-width="0.9"/>
<circle cx="203.15" cy="525.70" r="4.10" fill="#ec3a20" stroke="#000" stroke-width="0.9"/>
<circle cx="217.70" cy="525.70" r="4.10" fill="#f47a28" stroke="#000" stroke-width="0.9"/>
<text x="118.90" y="543.00" font-size="8.7" text-anchor="end" font-weight="normal" font-style="italic" fill="#1a1a1a" >MS4A1</text>
<circle cx="130.40" cy="539.90" r="1.05" fill="#f6b040" stroke="#000" stroke-width="0.9"/>
<circle cx="144.95" cy="539.90" r="5.95" fill="#e42820" stroke="#000" stroke-width="0.9"/>
<circle cx="159.50" cy="539.90" r="5.30" fill="#f89830" stroke="#000" stroke-width="0.9"/>
<circle cx="174.05" cy="539.90" r="3.10" fill="#fef0a0" stroke="#000" stroke-width="0.9"/>
<circle cx="188.60" cy="539.90" r="5.10" fill="#ee4422" stroke="#000" stroke-width="0.9"/>
<circle cx="203.15" cy="539.90" r="5.30" fill="#f89830" stroke="#000" stroke-width="0.9"/>
<circle cx="217.70" cy="539.90" r="5.75" fill="#f89830" stroke="#000" stroke-width="0.9"/>
<text x="118.90" y="557.20" font-size="8.7" text-anchor="end" font-weight="normal" font-style="italic" fill="#1a1a1a" >CD79A</text>
<circle cx="130.40" cy="554.10" r="5.55" fill="#c0101e" stroke="#000" stroke-width="0.9"/>
<circle cx="144.95" cy="554.10" r="2.65" fill="#d81c1c" stroke="#000" stroke-width="0.9"/>
<circle cx="159.50" cy="554.10" r="4.30" fill="#fdc050" stroke="#000" stroke-width="0.9"/>
<circle cx="174.05" cy="554.10" r="1.05" fill="#f07020" stroke="#000" stroke-width="0.9"/>
<circle cx="188.60" cy="554.10" r="5.30" fill="#ee4422" stroke="#000" stroke-width="0.9"/>
<circle cx="203.15" cy="554.10" r="4.70" fill="#fca838" stroke="#000" stroke-width="0.9"/>
<circle cx="217.70" cy="554.10" r="5.30" fill="#fee490" stroke="#000" stroke-width="0.9"/>
<text x="118.90" y="571.40" font-size="8.7" text-anchor="end" font-weight="normal" font-style="italic" fill="#1a1a1a" >CD79B</text>
<circle cx="130.40" cy="568.30" r="1.00" fill="#111"/>
<circle cx="144.95" cy="568.30" r="1.85" fill="#fdc050" stroke="#000" stroke-width="0.9"/>
<circle cx="159.50" cy="568.30" r="3.50" fill="#f45020" stroke="#000" stroke-width="0.9"/>
<circle cx="174.05" cy="568.30" r="1.20" fill="#111"/>
<circle cx="188.60" cy="568.30" r="4.50" fill="#c81420" stroke="#000" stroke-width="0.9"/>
<circle cx="203.15" cy="568.30" r="3.70" fill="#e83020" stroke="#000" stroke-width="0.9"/>
<circle cx="217.70" cy="568.30" r="4.30" fill="#f46020" stroke="#000" stroke-width="0.9"/>
<text x="118.90" y="585.60" font-size="8.7" text-anchor="end" font-weight="normal" font-style="italic" fill="#1a1a1a" >CD38</text>
<circle cx="130.40" cy="582.50" r="1.65" fill="#f06a2a" stroke="#000" stroke-width="0.9"/>
<circle cx="144.95" cy="582.50" r="2.25" fill="#e84020" stroke="#000" stroke-width="0.9"/>
<circle cx="159.50" cy="582.50" r="1.05" fill="#f07020" stroke="#000" stroke-width="0.9"/>
<circle cx="174.05" cy="582.50" r="0.5" fill="#bbb"/>
<circle cx="188.60" cy="582.50" r="1.25" fill="#a80a1e" stroke="#000" stroke-width="0.9"/>
<circle cx="217.70" cy="582.50" r="3.50" fill="#fca838" stroke="#000" stroke-width="0.9"/>
<text x="118.90" y="599.80" font-size="8.7" text-anchor="end" font-weight="normal" font-style="italic" fill="#1a1a1a" >IGHD</text>
<circle cx="130.40" cy="596.70" r="2.25" fill="#fdc050" stroke="#000" stroke-width="0.9"/>
<circle cx="144.95" cy="596.70" r="2.45" fill="#fdb040" stroke="#000" stroke-width="0.9"/>
<circle cx="159.50" cy="596.70" r="3.90" fill="#e42020" stroke="#000" stroke-width="0.9"/>
<circle cx="174.05" cy="596.70" r="2.25" fill="#f46020" stroke="#000" stroke-width="0.9"/>
<circle cx="188.60" cy="596.70" r="1.05" fill="#c81420" stroke="#000" stroke-width="0.9"/>
<circle cx="203.15" cy="596.70" r="0.5" fill="#bbb"/>
<circle cx="217.70" cy="596.70" r="1.65" fill="#c81420" stroke="#000" stroke-width="0.9"/>
<text x="118.90" y="614.00" font-size="8.7" text-anchor="end" font-weight="normal" font-style="italic" fill="#1a1a1a" >CR2</text>
<circle cx="130.40" cy="610.90" r="1.20" fill="#111"/>
<circle cx="144.95" cy="610.90" r="4.70" fill="#f46030" stroke="#000" stroke-width="0.9"/>
<circle cx="159.50" cy="610.90" r="1.05" fill="#f06a2a" stroke="#000" stroke-width="0.9"/>
<circle cx="174.05" cy="610.90" r="2.25" fill="#fdc050" stroke="#000" stroke-width="0.9"/>
<circle cx="188.60" cy="610.90" r="2.85" fill="#f04a22" stroke="#000" stroke-width="0.9"/>
<circle cx="217.70" cy="610.90" r="3.30" fill="#a00a1e" stroke="#000" stroke-width="0.9"/>
<line x1="87.6" y1="436.7" x2="87.6" y2="572.6" stroke="#222" stroke-width="0.9"/>
<line x1="87.6" y1="578.2" x2="87.6" y2="618.8" stroke="#222" stroke-width="0.9"/>
<text x="50.80" y="493.80" font-size="9.6" text-anchor="middle" font-weight="normal" font-style="normal" fill="#111" >Expressed in</text>
<text x="50.80" y="505.30" font-size="9.6" text-anchor="middle" font-weight="normal" font-style="normal" fill="#111" >Switched</text>
<text x="50.80" y="516.70" font-size="9.6" text-anchor="middle" font-weight="normal" font-style="normal" fill="#111" >memory B cells</text>
<text x="50.80" y="587.80" font-size="9.6" text-anchor="middle" font-weight="normal" font-style="normal" fill="#111" >Negative in</text>
<text x="50.80" y="599.30" font-size="9.6" text-anchor="middle" font-weight="normal" font-style="normal" fill="#111" >Switched</text>
<text x="50.80" y="610.70" font-size="9.6" text-anchor="middle" font-weight="normal" font-style="normal" fill="#111" >memory B cells</text>
<text x="234.50" y="424.60" font-size="7.2" text-anchor="start" font-weight="normal" font-style="normal" fill="#111" >avg.exp.</text>
<text x="234.50" y="433.50" font-size="7.2" text-anchor="start" font-weight="normal" font-style="normal" fill="#111" >scaled</text>
<defs><linearGradient id="ylorrd" x1="0" y1="0" x2="0" y2="1"><stop offset="0" stop-color="#800026"/><stop offset="0.15" stop-color="#bd0026"/><stop offset="0.3" stop-color="#e31a1c"/><stop offset="0.45" stop-color="#fc4e2a"/><stop offset="0.58" stop-color="#fd8d3c"/><stop offset="0.72" stop-color="#feb24c"/><stop offset="0.86" stop-color="#fed976"/><stop offset="1" stop-color="#ffffcc"/></linearGradient></defs>
<rect x="234.3" y="436.8" width="8.4" height="43.5" fill="url(#ylorrd)" stroke="#111" stroke-width="0.8"/>
<line x1="234.3" y1="438.6" x2="236.2" y2="438.6" stroke="#111" stroke-width="0.7"/>
<line x1="240.8" y1="438.6" x2="242.7" y2="438.6" stroke="#111" stroke-width="0.7"/>
<text x="244.60" y="441.80" font-size="8.2" text-anchor="start" font-weight="normal" font-style="normal" fill="#111" >2</text>
<line x1="234.3" y1="448.7" x2="236.2" y2="448.7" stroke="#111" stroke-width="0.7"/>
<line x1="240.8" y1="448.7" x2="242.7" y2="448.7" stroke="#111" stroke-width="0.7"/>
<text x="244.60" y="451.90" font-size="8.2" text-anchor="start" font-weight="normal" font-style="normal" fill="#111" >1</text>
<line x1="234.3" y1="458.4" x2="236.2" y2="458.4" stroke="#111" stroke-width="0.7"/>
<line x1="240.8" y1="458.4" x2="242.7" y2="458.4" stroke="#111" stroke-width="0.7"/>
<text x="244.60" y="461.60" font-size="8.2" text-anchor="start" font-weight="normal" font-style="normal" fill="#111" >0</text>
<line x1="234.3" y1="468.4" x2="236.2" y2="468.4" stroke="#111" stroke-width="0.7"/>
<line x1="240.8" y1="468.4" x2="242.7" y2="468.4" stroke="#111" stroke-width="0.7"/>
<text x="244.60" y="471.60" font-size="8.2" text-anchor="start" font-weight="normal" font-style="normal" fill="#111" >−1</text>
<line x1="234.3" y1="478.5" x2="236.2" y2="478.5" stroke="#111" stroke-width="0.7"/>
<line x1="240.8" y1="478.5" x2="242.7" y2="478.5" stroke="#111" stroke-width="0.7"/>
<text x="244.60" y="481.70" font-size="8.2" text-anchor="start" font-weight="normal" font-style="normal" fill="#111" >−2</text>
<text x="234.90" y="493.10" font-size="7.6" text-anchor="start" font-weight="normal" font-style="normal" fill="#111" >Percent</text>
<circle cx="239.8" cy="498.3" r="1.05" fill="#c8c8c8" stroke="#222" stroke-width="0.7"/>
<text x="249.80" y="500.60" font-size="7.6" text-anchor="start" font-weight="normal" font-style="normal" fill="#111" >20%</text>
<circle cx="239.8" cy="505.8" r="2.25" fill="#c8c8c8" stroke="#222" stroke-width="0.7"/>
<text x="249.80" y="508.20" font-size="7.6" text-anchor="start" font-weight="normal" font-style="normal" fill="#111" >40%</text>
<circle cx="239.8" cy="513.7" r="3.90" fill="#c8c8c8" stroke="#222" stroke-width="0.7"/>
<text x="249.80" y="516.00" font-size="7.6" text-anchor="start" font-weight="normal" font-style="normal" fill="#111" >60%</text>
<circle cx="239.8" cy="523.3" r="4.80" fill="#c8c8c8" stroke="#222" stroke-width="0.7"/>
<text x="249.80" y="526.00" font-size="7.6" text-anchor="start" font-weight="normal" font-style="normal" fill="#111" >80%</text>
<circle cx="239.8" cy="535.0" r="6.30" fill="#c8c8c8" stroke="#222" stroke-width="0.7"/>
<text x="249.80" y="537.90" font-size="7.6" text-anchor="start" font-weight="normal" font-style="normal" fill="#111" >100%</text>
<text x="234.80" y="550.80" font-size="7.6" text-anchor="start" font-weight="normal" font-style="normal" fill="#111" >B cell state</text>
<rect x="234.4" y="554.90" width="8.5" height="8.36" fill="#a6cee3" stroke="#222" stroke-width="0.7"/>
<text x="244.50" y="561.90" font-size="8.0" text-anchor="start" font-weight="normal" font-style="normal" fill="#111" >S1</text>
<rect x="234.4" y="563.26" width="8.5" height="8.36" fill="#1f78b4" stroke="#222" stroke-width="0.7"/>
<text x="244.50" y="570.26" font-size="8.0" text-anchor="start" font-weight="normal" font-style="normal" fill="#111" >S2</text>
<rect x="234.4" y="571.62" width="8.5" height="8.36" fill="#b2df8a" stroke="#222" stroke-width="0.7"/>
<text x="244.50" y="578.62" font-size="8.0" text-anchor="start" font-weight="normal" font-style="normal" fill="#111" >S3</text>
<rect x="234.4" y="579.98" width="8.5" height="8.36" fill="#33a02c" stroke="#222" stroke-width="0.7"/>
<text x="244.50" y="586.98" font-size="8.0" text-anchor="start" font-weight="normal" font-style="normal" fill="#111" >S4</text>
<rect x="234.4" y="588.34" width="8.5" height="8.36" fill="#fdbf6f" stroke="#222" stroke-width="0.7"/>
<text x="244.50" y="595.34" font-size="8.0" text-anchor="start" font-weight="normal" font-style="normal" fill="#111" >S5</text>
<rect x="234.4" y="596.70" width="8.5" height="8.36" fill="#ff7f00" stroke="#222" stroke-width="0.7"/>
<text x="244.50" y="603.70" font-size="8.0" text-anchor="start" font-weight="normal" font-style="normal" fill="#111" >S6</text>
<rect x="234.4" y="605.06" width="8.5" height="8.36" fill="#fb9a99" stroke="#222" stroke-width="0.7"/>
<text x="244.50" y="612.06" font-size="8.0" text-anchor="start" font-weight="normal" font-style="normal" fill="#111" >S7</text>
<defs><pattern id="pd" x="0" y="0" width="2.45" height="2.2" patternUnits="userSpaceOnUse"><rect x="0" y="0" width="2.45" height="2.2" fill="#f8f8f8"/><rect x="0.25" y="0" width="1.6" height="2.2" fill="#d6d6d6"/><circle cx="1.05" cy="1.1" r="0.8" fill="#c4c4c4"/></pattern><pattern id="pdm" x="0" y="0" width="2.45" height="2.2" patternUnits="userSpaceOnUse"><rect x="0" y="0" width="2.45" height="2.2" fill="#f8d0fa"/><rect x="0.25" y="0" width="1.6" height="2.2" fill="#ea58f0"/><circle cx="1.05" cy="1.1" r="0.8" fill="#dd2ee6"/></pattern><pattern id="pf" x="0" y="0" width="2.7" height="4.7" patternUnits="userSpaceOnUse"><rect x="0" y="0" width="2.7" height="4.7" fill="#f2f2f2"/><circle cx="1.35" cy="1.17" r="1.1" fill="#c9c9c9"/><circle cx="0" cy="3.52" r="1.1" fill="#c9c9c9"/><circle cx="2.7" cy="3.52" r="1.1" fill="#c9c9c9"/></pattern><pattern id="pfm" x="0" y="0" width="2.7" height="4.7" patternUnits="userSpaceOnUse"><rect x="0" y="0" width="2.7" height="4.7" fill="#f4b8f8"/><circle cx="1.35" cy="1.17" r="1.1" fill="#e436ec"/><circle cx="0" cy="3.52" r="1.1" fill="#e436ec"/><circle cx="2.7" cy="3.52" r="1.1" fill="#e436ec"/></pattern></defs>
<g fill="url(#pd)"><rect x="291.55" y="489.49" width="2.45" height="18.88"/><rect x="294.00" y="486.54" width="2.45" height="30.97"/><rect x="296.45" y="484.37" width="2.45" height="39.58"/><rect x="298.90" y="480.09" width="2.45" height="55.40"/><rect x="301.35" y="475.52" width="2.45" height="70.06"/><rect x="303.80" y="460.88" width="2.45" height="84.98"/><rect x="306.25" y="456.50" width="2.45" height="91.79"/><rect x="308.70" y="440.24" width="2.45" height="5.60"/><rect x="308.70" y="451.54" width="2.45" height="98.65"/><rect x="311.15" y="437.39" width="2.45" height="116.04"/><rect x="313.60" y="438.45" width="2.45" height="113.06"/><rect x="316.05" y="438.05" width="2.45" height="113.89"/><rect x="318.50" y="436.98" width="2.45" height="115.43"/><rect x="320.95" y="434.51" width="2.45" height="120.78"/><rect x="323.40" y="434.67" width="2.45" height="119.52"/><rect x="325.85" y="438.64" width="2.45" height="118.65"/><rect x="328.30" y="436.93" width="2.45" height="121.65"/><rect x="330.75" y="438.73" width="2.45" height="119.94"/><rect x="333.20" y="438.16" width="2.45" height="121.86"/><rect x="335.65" y="443.71" width="2.45" height="116.38"/><rect x="338.10" y="444.86" width="2.45" height="112.60"/><rect x="340.55" y="444.16" width="2.45" height="111.88"/><rect x="343.00" y="443.97" width="2.45" height="110.74"/><rect x="345.45" y="444.46" width="2.45" height="111.47"/><rect x="347.90" y="444.01" width="2.45" height="111.66"/><rect x="350.35" y="445.08" width="2.45" height="108.41"/><rect x="352.80" y="447.12" width="2.45" height="55.92"/><rect x="352.80" y="503.01" width="2.45" height="50.53"/><rect x="355.25" y="447.25" width="2.45" height="53.93"/><rect x="355.25" y="505.12" width="2.45" height="46.45"/><rect x="357.70" y="448.40" width="2.45" height="55.30"/><rect x="357.70" y="502.06" width="2.45" height="51.46"/><rect x="360.15" y="449.17" width="2.45" height="53.18"/><rect x="360.15" y="502.53" width="2.45" height="47.62"/><rect x="362.60" y="455.58" width="2.45" height="47.48"/><rect x="362.60" y="503.13" width="2.45" height="48.79"/><rect x="365.05" y="459.47" width="2.45" height="43.54"/><rect x="365.05" y="504.10" width="2.45" height="46.03"/><rect x="367.50" y="459.68" width="2.45" height="41.80"/><rect x="367.50" y="503.85" width="2.45" height="47.05"/><rect x="369.95" y="462.05" width="2.45" height="39.20"/><rect x="369.95" y="504.12" width="2.45" height="46.41"/><rect x="372.40" y="461.29" width="2.45" height="37.80"/><rect x="372.40" y="506.95" width="2.45" height="42.48"/><rect x="374.85" y="463.09" width="2.45" height="37.37"/><rect x="374.85" y="507.24" width="2.45" height="39.76"/><rect x="377.30" y="464.01" width="2.45" height="33.05"/><rect x="377.30" y="506.25" width="2.45" height="39.23"/><rect x="379.75" y="466.21" width="2.45" height="32.98"/><rect x="379.75" y="507.52" width="2.45" height="36.64"/><rect x="382.20" y="468.16" width="2.45" height="28.55"/><rect x="382.20" y="508.80" width="2.45" height="34.96"/><rect x="384.65" y="468.40" width="2.45" height="28.24"/><rect x="384.65" y="509.46" width="2.45" height="40.39"/><rect x="387.10" y="468.18" width="2.45" height="27.75"/><rect x="387.10" y="509.60" width="2.45" height="45.97"/><rect x="389.55" y="472.68" width="2.45" height="19.73"/><rect x="389.55" y="512.84" width="2.45" height="27.70"/><rect x="389.55" y="542.02" width="2.45" height="14.50"/><rect x="392.00" y="471.84" width="2.45" height="20.55"/><rect x="392.00" y="512.48" width="2.45" height="26.73"/><rect x="392.00" y="541.94" width="2.45" height="13.51"/><rect x="394.45" y="476.70" width="2.45" height="17.03"/><rect x="394.45" y="516.62" width="2.45" height="20.33"/><rect x="394.45" y="544.06" width="2.45" height="12.27"/><rect x="396.90" y="477.03" width="2.45" height="14.90"/><rect x="396.90" y="545.29" width="2.45" height="9.18"/><rect x="399.35" y="477.71" width="2.45" height="15.96"/><rect x="399.35" y="548.57" width="2.45" height="7.43"/><rect x="401.80" y="479.60" width="2.45" height="11.99"/><rect x="404.25" y="479.79" width="2.45" height="11.09"/><rect x="406.70" y="483.50" width="2.45" height="9.27"/><rect x="409.15" y="483.66" width="2.45" height="8.36"/><rect x="411.60" y="486.48" width="2.45" height="5.24"/></g>
<rect x="312" y="476" width="2.45" height="2.5" fill="#fff"/>
<rect x="319.5" y="470" width="2.45" height="3" fill="#fff"/>
<rect x="327" y="493" width="4.9" height="3" fill="#fff"/>
<rect x="303" y="495" width="2.45" height="3" fill="#fff"/>
<rect x="310" y="520" width="2.45" height="3" fill="#fff"/>
<rect x="321" y="522" width="2.45" height="2" fill="#fff"/>
<rect x="355" y="480" width="2.45" height="2.5" fill="#fff"/>
<rect x="330" y="541" width="2.45" height="3" fill="#fff"/>
<rect x="313" y="537" width="4.9" height="3" fill="#fff"/>
<rect x="338" y="458" width="2.45" height="4" fill="#fff"/>
<rect x="296" y="500" width="2.45" height="6" fill="#fff"/>
<rect x="372" y="500" width="7" height="2" fill="#fff"/>
<rect x="340" y="548" width="2.45" height="4" fill="#fff"/>
<g fill="url(#pdm)"><rect x="360.15" y="481.23" width="2.45" height="7.69"/><rect x="362.60" y="479.13" width="2.45" height="10.68"/><rect x="365.05" y="477.96" width="2.45" height="12.41"/><rect x="367.50" y="477.44" width="2.45" height="13.84"/><rect x="369.95" y="474.99" width="2.45" height="15.80"/><rect x="372.40" y="474.70" width="2.45" height="14.36"/><rect x="374.85" y="472.42" width="2.45" height="15.07"/><rect x="377.30" y="471.90" width="2.45" height="14.84"/><rect x="379.75" y="471.33" width="2.45" height="15.21"/><rect x="382.20" y="471.19" width="2.45" height="14.80"/><rect x="384.65" y="469.60" width="2.45" height="15.59"/><rect x="387.10" y="469.88" width="2.45" height="15.18"/><rect x="389.55" y="471.10" width="2.45" height="12.99"/><rect x="392.00" y="474.14" width="2.45" height="8.64"/><rect x="394.45" y="475.85" width="2.45" height="6.46"/><rect x="396.90" y="476.44" width="2.45" height="4.02"/></g>
<g fill="url(#pdm)"><rect x="328.30" y="498.43" width="2.45" height="9.34"/><rect x="330.75" y="498.47" width="2.45" height="9.08"/><rect x="333.20" y="496.98" width="2.45" height="11.56"/><rect x="335.65" y="496.06" width="2.45" height="11.88"/><rect x="338.10" y="495.66" width="2.45" height="13.60"/><rect x="340.55" y="494.93" width="2.45" height="14.51"/><rect x="343.00" y="494.35" width="2.45" height="13.80"/><rect x="345.45" y="495.37" width="2.45" height="10.67"/><rect x="347.90" y="495.66" width="2.45" height="7.26"/></g>
<circle cx="304.5" cy="586.4" r="4.9" fill="#e83ef0"/>
<circle cx="304.5" cy="600.8" r="4.9" fill="#d3d3d3"/>
<text x="315.70" y="589.90" font-size="8.5" text-anchor="start" font-weight="normal" font-style="normal" fill="#111" >Tertiary lymphoid structures (TLS)</text>
<text x="314.50" y="602.70" font-size="8.5" text-anchor="start" font-weight="normal" font-style="normal" fill="#111" >Backgroud</text>
<g fill="url(#pf)"><rect x="51.30" y="688.00" width="2.70" height="11.77"/><rect x="54.00" y="687.16" width="2.70" height="34.39"/><rect x="54.00" y="740.32" width="2.70" height="28.79"/><rect x="56.70" y="689.14" width="2.70" height="88.37"/><rect x="59.40" y="688.24" width="2.70" height="97.66"/><rect x="62.10" y="686.91" width="2.70" height="106.38"/><rect x="64.80" y="688.63" width="2.70" height="113.85"/><rect x="67.50" y="690.69" width="2.70" height="116.52"/><rect x="70.20" y="688.92" width="2.70" height="118.17"/><rect x="72.90" y="686.12" width="2.70" height="90.59"/><rect x="75.60" y="683.34" width="2.70" height="80.98"/><rect x="78.30" y="679.30" width="2.70" height="84.94"/><rect x="81.00" y="677.56" width="2.70" height="85.49"/><rect x="83.70" y="677.55" width="2.70" height="92.13"/><rect x="86.40" y="675.40" width="2.70" height="112.63"/><rect x="89.10" y="673.99" width="2.70" height="129.85"/><rect x="91.80" y="672.53" width="2.70" height="134.37"/><rect x="94.50" y="671.32" width="2.70" height="137.29"/><rect x="97.20" y="673.09" width="2.70" height="135.36"/><rect x="99.90" y="671.28" width="2.70" height="137.79"/><rect x="102.60" y="670.36" width="2.70" height="137.54"/><rect x="105.30" y="672.16" width="2.70" height="133.93"/><rect x="108.00" y="671.35" width="2.70" height="133.76"/><rect x="110.70" y="671.30" width="2.70" height="116.82"/><rect x="110.70" y="794.83" width="2.70" height="8.99"/><rect x="113.40" y="670.02" width="2.70" height="114.19"/><rect x="116.10" y="669.85" width="2.70" height="109.68"/><rect x="118.80" y="671.09" width="2.70" height="107.60"/><rect x="121.50" y="670.89" width="2.70" height="104.44"/><rect x="124.20" y="671.46" width="2.70" height="100.58"/><rect x="126.90" y="671.31" width="2.70" height="98.44"/><rect x="129.60" y="671.38" width="2.70" height="98.41"/><rect x="132.30" y="669.94" width="2.70" height="96.30"/><rect x="135.00" y="671.38" width="2.70" height="91.31"/><rect x="137.70" y="670.50" width="2.70" height="91.89"/><rect x="140.40" y="703.89" width="2.70" height="53.72"/><rect x="143.10" y="717.63" width="2.70" height="29.14"/></g>
<g fill="url(#pf)"><rect x="0.00" y="664.12" width="2.70" height="7.97"/><rect x="2.70" y="663.61" width="2.70" height="10.84"/><rect x="5.40" y="664.75" width="2.70" height="12.78"/><rect x="8.10" y="665.01" width="2.70" height="13.21"/><rect x="10.80" y="665.40" width="2.70" height="17.34"/><rect x="13.50" y="667.52" width="2.70" height="15.65"/><rect x="16.20" y="668.55" width="2.70" height="18.02"/><rect x="18.90" y="675.99" width="2.70" height="9.05"/><rect x="21.60" y="680.58" width="2.70" height="5.78"/><rect x="24.30" y="681.63" width="2.70" height="4.93"/></g>
<g fill="url(#pf)"><rect x="24.30" y="690.35" width="2.70" height="3.19"/><rect x="27.00" y="688.93" width="2.70" height="18.91"/><rect x="29.70" y="688.97" width="2.70" height="21.27"/><rect x="32.40" y="689.27" width="2.70" height="20.46"/></g>
<g fill="url(#pf)"><rect x="43.20" y="686.50" width="2.70" height="18.69"/><rect x="45.90" y="695.24" width="2.70" height="14.80"/><rect x="48.60" y="699.82" width="2.70" height="13.19"/></g>
<polygon points="26.9,677.8 32.7,679.5 32.7,681.3 26.9,680" fill="url(#pf)"/>
<rect x="63.2" y="697" width="2.7" height="52" fill="#fff"/>
<rect x="72" y="757" width="35" height="2.5" fill="#fff"/>
<rect x="76.5" y="757" width="5.4" height="52" fill="#fff"/>
<rect x="92" y="704" width="2.7" height="3" fill="#fff"/>
<rect x="106" y="698" width="5.4" height="3" fill="#fff"/>
<rect x="108" y="716" width="2.7" height="4" fill="#fff"/>
<rect x="119" y="726" width="2.7" height="3" fill="#fff"/>
<rect x="127" y="733" width="4" height="5" fill="#fff"/>
<rect x="121" y="760" width="2.7" height="3" fill="#fff"/>
<rect x="111" y="768" width="2.7" height="4" fill="#fff"/>
<rect x="80" y="682" width="3" height="3" fill="#fff"/>
<path d="M103,676.5 L111,681.5" stroke="#fff" stroke-width="1.6"/>
<path d="M121,689.5 L133,696" stroke="#fff" stroke-width="1.6"/>
<g fill="url(#pfm)"><rect x="113.40" y="679.07" width="2.70" height="8.67"/><rect x="116.10" y="677.84" width="2.70" height="10.96"/><rect x="118.80" y="678.08" width="2.70" height="10.72"/><rect x="121.50" y="677.77" width="2.70" height="10.71"/><rect x="124.20" y="678.05" width="2.70" height="11.07"/><rect x="126.90" y="676.78" width="2.70" height="13.48"/><rect x="129.60" y="676.98" width="2.70" height="13.24"/><rect x="132.30" y="679.78" width="2.70" height="8.89"/><rect x="135.00" y="680.22" width="2.70" height="3.58"/></g>
<circle cx="18.1" cy="839" r="5.2" fill="#e83ef0"/>
<circle cx="18.1" cy="853" r="5.2" fill="#d3d3d3"/>
<text x="28.60" y="841.90" font-size="8.5" text-anchor="start" font-weight="normal" font-style="normal" fill="#111" >Tertiary lymphoid structures (TLS)</text>
<text x="28.30" y="855.90" font-size="8.5" text-anchor="start" font-weight="normal" font-style="normal" fill="#111" >Backgroud</text>
<path d="M513.80,483.50 L513.81,484.76 L513.81,486.02 L513.82,487.28 L513.82,488.54 L513.82,489.80 L513.83,491.06 L513.83,492.32 L513.84,493.58 L513.84,494.84 L513.85,496.10 L513.86,497.36 L513.87,498.62 L513.88,499.88 L513.89,501.14 L513.91,502.40 L514.03,503.66 L514.25,504.92 L514.52,506.18 L514.82,507.44 L515.10,508.70 L515.37,509.96 L515.67,511.22 L515.98,512.48 L516.31,513.74 L516.65,515.00 L516.99,516.26 L517.34,517.52 L517.68,518.78 L518.01,520.04 L518.33,521.30 L518.67,522.56 L519.02,523.82 L519.36,525.08 L519.70,526.34 L520.04,527.60 L520.36,528.86 L520.67,530.12 L520.95,531.38 L521.21,532.64 L521.49,533.90 L521.77,535.16 L522.05,536.42 L522.31,537.68 L522.53,538.94 L522.69,540.20 L522.78,541.46 L522.80,542.72 L522.75,543.98 L522.67,545.24 L522.55,546.50 L522.42,547.76 L522.29,549.02 L522.10,550.28 L521.85,551.54 L521.56,552.80 L521.24,554.06 L520.91,555.32 L520.59,556.58 L520.30,557.84 L520.07,559.10 L519.86,560.36 L519.66,561.62 L519.47,562.88 L519.29,564.14 L519.12,565.40 L518.96,566.66 L518.80,567.92 L518.66,569.18 L518.52,570.44 L518.39,571.70 L518.26,572.96 L518.14,574.22 L518.03,575.48 L517.93,576.74 L517.82,578.00 L517.72,579.26 L517.62,580.52 L517.51,581.78 L517.41,583.04 L517.30,584.30 L508.90,584.30 L508.79,583.04 L508.69,581.78 L508.58,580.52 L508.48,579.26 L508.38,578.00 L508.27,576.74 L508.17,575.48 L508.06,574.22 L507.94,572.96 L507.81,571.70 L507.68,570.44 L507.54,569.18 L507.40,567.92 L507.24,566.66 L507.08,565.40 L506.91,564.14 L506.73,562.88 L506.54,561.62 L506.34,560.36 L506.13,559.10 L505.90,557.84 L505.61,556.58 L505.29,555.32 L504.96,554.06 L504.64,552.80 L504.35,551.54 L504.10,550.28 L503.91,549.02 L503.78,547.76 L503.65,546.50 L503.53,545.24 L503.45,543.98 L503.40,542.72 L503.42,541.46 L503.51,540.20 L503.67,538.94 L503.89,537.68 L504.15,536.42 L504.43,535.16 L504.71,533.90 L504.99,532.64 L505.25,531.38 L505.53,530.12 L505.84,528.86 L506.16,527.60 L506.50,526.34 L506.84,525.08 L507.18,523.82 L507.53,522.56 L507.87,521.30 L508.19,520.04 L508.52,518.78 L508.86,517.52 L509.21,516.26 L509.55,515.00 L509.89,513.74 L510.22,512.48 L510.53,511.22 L510.83,509.96 L511.10,508.70 L511.38,507.44 L511.68,506.18 L511.95,504.92 L512.17,503.66 L512.29,502.40 L512.31,501.14 L512.32,499.88 L512.33,498.62 L512.34,497.36 L512.35,496.10 L512.36,494.84 L512.36,493.58 L512.37,492.32 L512.37,491.06 L512.38,489.80 L512.38,488.54 L512.38,487.28 L512.39,486.02 L512.39,484.76 L512.40,483.50 Z" fill="#a6cee3" stroke="#2e2e2e" stroke-width="1.1" stroke-linejoin="round"/>
<g fill="#000"><rect x="515.02" y="515.49" width="1.3" height="1.3"/><rect x="512.58" y="519.71" width="1.3" height="1.3"/><rect x="513.76" y="546.10" width="1.3" height="1.3"/><rect x="505.95" y="512.04" width="1.3" height="1.3"/><rect x="513.26" y="547.25" width="1.3" height="1.3"/><rect x="507.45" y="489.18" width="1.3" height="1.3"/><rect x="509.29" y="551.43" width="1.3" height="1.3"/><rect x="509.05" y="541.87" width="1.3" height="1.3"/><rect x="516.35" y="535.79" width="1.3" height="1.3"/><rect x="512.26" y="559.17" width="1.3" height="1.3"/><rect x="518.83" y="559.92" width="1.3" height="1.3"/><rect x="511.71" y="542.76" width="1.3" height="1.3"/><rect x="504.98" y="530.64" width="1.3" height="1.3"/><rect x="520.83" y="553.56" width="1.3" height="1.3"/><rect x="510.51" y="565.70" width="1.3" height="1.3"/><rect x="511.80" y="550.25" width="1.3" height="1.3"/><rect x="517.88" y="538.23" width="1.3" height="1.3"/><rect x="511.01" y="569.94" width="1.3" height="1.3"/><rect x="506.95" y="579.39" width="1.3" height="1.3"/><rect x="508.42" y="531.73" width="1.3" height="1.3"/><rect x="515.45" y="534.81" width="1.3" height="1.3"/><rect x="510.73" y="563.28" width="1.3" height="1.3"/><rect x="507.50" y="489.12" width="1.3" height="1.3"/><rect x="506.52" y="488.15" width="1.3" height="1.3"/><rect x="508.24" y="544.75" width="1.3" height="1.3"/><rect x="506.04" y="517.87" width="1.3" height="1.3"/><rect x="505.41" y="529.82" width="1.3" height="1.3"/><rect x="520.12" y="499.12" width="1.3" height="1.3"/><rect x="513.18" y="536.10" width="1.3" height="1.3"/><rect x="510.18" y="553.03" width="1.3" height="1.3"/><rect x="509.55" y="536.54" width="1.3" height="1.3"/><rect x="512.75" y="557.43" width="1.3" height="1.3"/><rect x="504.42" y="518.69" width="1.3" height="1.3"/><rect x="515.72" y="511.02" width="1.3" height="1.3"/><rect x="519.88" y="579.27" width="1.3" height="1.3"/><rect x="507.81" y="519.61" width="1.3" height="1.3"/><rect x="518.24" y="545.76" width="1.3" height="1.3"/><rect x="517.54" y="531.18" width="1.3" height="1.3"/><rect x="506.98" y="558.46" width="1.3" height="1.3"/><rect x="517.56" y="562.39" width="1.3" height="1.3"/><rect x="510.77" y="580.79" width="1.3" height="1.3"/><rect x="518.00" y="564.15" width="1.3" height="1.3"/><rect x="520.46" y="496.05" width="1.3" height="1.3"/><rect x="519.82" y="548.34" width="1.3" height="1.3"/><rect x="508.23" y="566.13" width="1.3" height="1.3"/><rect x="513.92" y="512.38" width="1.3" height="1.3"/><rect x="513.87" y="518.51" width="1.3" height="1.3"/><rect x="519.55" y="574.00" width="1.3" height="1.3"/><rect x="512.85" y="533.42" width="1.3" height="1.3"/><rect x="517.54" y="501.31" width="1.3" height="1.3"/><rect x="509.49" y="555.95" width="1.3" height="1.3"/><rect x="517.28" y="535.10" width="1.3" height="1.3"/><rect x="513.50" y="560.69" width="1.3" height="1.3"/><rect x="512.54" y="527.53" width="1.3" height="1.3"/><rect x="511.64" y="534.48" width="1.3" height="1.3"/><rect x="519.96" y="536.61" width="1.3" height="1.3"/><rect x="513.46" y="577.82" width="1.3" height="1.3"/><rect x="508.04" y="527.42" width="1.3" height="1.3"/><rect x="518.96" y="549.40" width="1.3" height="1.3"/><rect x="520.14" y="580.38" width="1.3" height="1.3"/><rect x="520.78" y="522.99" width="1.3" height="1.3"/><rect x="511.29" y="566.76" width="1.3" height="1.3"/><rect x="507.28" y="534.82" width="1.3" height="1.3"/><rect x="509.59" y="527.25" width="1.3" height="1.3"/><rect x="505.04" y="545.74" width="1.3" height="1.3"/><rect x="508.46" y="580.80" width="1.3" height="1.3"/><rect x="511.13" y="510.11" width="1.3" height="1.3"/><rect x="519.58" y="508.92" width="1.3" height="1.3"/><rect x="505.47" y="540.37" width="1.3" height="1.3"/><rect x="519.90" y="525.72" width="1.3" height="1.3"/><rect x="505.37" y="546.80" width="1.3" height="1.3"/><rect x="518.62" y="569.16" width="1.3" height="1.3"/><rect x="513.35" y="528.59" width="1.3" height="1.3"/><rect x="506.15" y="576.26" width="1.3" height="1.3"/><rect x="505.81" y="535.96" width="1.3" height="1.3"/></g>
<path d="M536.00,454.20 L536.08,455.83 L536.16,457.45 L536.23,459.08 L536.31,460.70 L536.39,462.33 L536.49,463.96 L536.60,465.58 L536.74,467.21 L536.94,468.84 L537.22,470.46 L537.56,472.09 L537.94,473.71 L538.35,475.34 L538.77,476.97 L539.20,478.59 L539.61,480.22 L539.99,481.85 L540.36,483.47 L540.75,485.10 L541.15,486.72 L541.55,488.35 L541.93,489.98 L542.30,491.60 L542.63,493.23 L542.93,494.86 L543.19,496.48 L543.46,498.11 L543.73,499.73 L543.99,501.36 L544.23,502.99 L544.46,504.61 L544.66,506.24 L544.81,507.87 L544.93,509.49 L544.99,511.12 L545.00,512.75 L544.99,514.37 L544.97,516.00 L544.94,517.62 L544.90,519.25 L544.86,520.88 L544.81,522.50 L544.75,524.13 L544.68,525.75 L544.56,527.38 L544.36,529.01 L544.10,530.63 L543.80,532.26 L543.48,533.89 L543.14,535.51 L542.81,537.14 L542.51,538.76 L542.20,540.39 L541.88,542.02 L541.53,543.64 L541.18,545.27 L540.82,546.90 L540.47,548.52 L540.14,550.15 L539.82,551.77 L539.53,553.40 L539.28,555.03 L539.06,556.65 L538.85,558.28 L538.65,559.91 L538.46,561.53 L538.28,563.16 L538.10,564.78 L537.95,566.41 L537.80,568.04 L537.67,569.66 L537.56,571.29 L537.47,572.92 L537.38,574.54 L537.31,576.17 L537.24,577.79 L537.18,579.42 L537.13,581.05 L537.06,582.67 L537.00,584.30 L533.00,584.30 L532.94,582.67 L532.87,581.05 L532.82,579.42 L532.76,577.79 L532.69,576.17 L532.62,574.54 L532.53,572.92 L532.44,571.29 L532.33,569.66 L532.20,568.04 L532.05,566.41 L531.90,564.78 L531.72,563.16 L531.54,561.53 L531.35,559.91 L531.15,558.28 L530.94,556.65 L530.72,555.03 L530.47,553.40 L530.18,551.77 L529.86,550.15 L529.53,548.52 L529.18,546.90 L528.82,545.27 L528.47,543.64 L528.12,542.02 L527.80,540.39 L527.49,538.76 L527.19,537.14 L526.86,535.51 L526.52,533.89 L526.20,532.26 L525.90,530.63 L525.64,529.01 L525.44,527.38 L525.32,525.75 L525.25,524.13 L525.19,522.50 L525.14,520.88 L525.10,519.25 L525.06,517.62 L525.03,516.00 L525.01,514.37 L525.00,512.75 L525.01,511.12 L525.07,509.49 L525.19,507.87 L525.34,506.24 L525.54,504.61 L525.77,502.99 L526.01,501.36 L526.27,499.73 L526.54,498.11 L526.81,496.48 L527.07,494.86 L527.37,493.23 L527.70,491.60 L528.07,489.98 L528.45,488.35 L528.85,486.72 L529.25,485.10 L529.64,483.47 L530.01,481.85 L530.39,480.22 L530.80,478.59 L531.23,476.97 L531.65,475.34 L532.06,473.71 L532.44,472.09 L532.78,470.46 L533.06,468.84 L533.26,467.21 L533.40,465.58 L533.51,463.96 L533.61,462.33 L533.69,460.70 L533.77,459.08 L533.84,457.45 L533.92,455.83 L534.00,454.20 Z" fill="#1f78b4" stroke="#2e2e2e" stroke-width="1.1" stroke-linejoin="round"/>
<g fill="#000"><rect x="529.28" y="474.55" width="1.3" height="1.3"/><rect x="538.76" y="494.14" width="1.3" height="1.3"/><rect x="528.87" y="491.27" width="1.3" height="1.3"/><rect x="530.11" y="498.69" width="1.3" height="1.3"/><rect x="533.92" y="525.24" width="1.3" height="1.3"/><rect x="539.77" y="575.15" width="1.3" height="1.3"/><rect x="540.04" y="509.78" width="1.3" height="1.3"/><rect x="537.54" y="504.69" width="1.3" height="1.3"/><rect x="531.76" y="536.29" width="1.3" height="1.3"/><rect x="527.05" y="460.63" width="1.3" height="1.3"/><rect x="528.63" y="549.94" width="1.3" height="1.3"/><rect x="530.83" y="490.23" width="1.3" height="1.3"/><rect x="533.43" y="513.32" width="1.3" height="1.3"/><rect x="525.87" y="493.82" width="1.3" height="1.3"/><rect x="534.40" y="503.20" width="1.3" height="1.3"/><rect x="531.02" y="458.97" width="1.3" height="1.3"/><rect x="537.03" y="522.40" width="1.3" height="1.3"/><rect x="542.59" y="504.23" width="1.3" height="1.3"/><rect x="540.05" y="537.23" width="1.3" height="1.3"/><rect x="539.53" y="519.17" width="1.3" height="1.3"/><rect x="526.38" y="543.75" width="1.3" height="1.3"/><rect x="536.50" y="526.21" width="1.3" height="1.3"/><rect x="525.91" y="542.10" width="1.3" height="1.3"/><rect x="537.06" y="518.99" width="1.3" height="1.3"/><rect x="530.36" y="486.36" width="1.3" height="1.3"/><rect x="538.43" y="548.44" width="1.3" height="1.3"/><rect x="537.47" y="503.32" width="1.3" height="1.3"/><rect x="528.36" y="537.17" width="1.3" height="1.3"/><rect x="526.06" y="493.15" width="1.3" height="1.3"/><rect x="537.34" y="540.98" width="1.3" height="1.3"/><rect x="533.75" y="491.39" width="1.3" height="1.3"/><rect x="541.04" y="514.22" width="1.3" height="1.3"/><rect x="533.65" y="575.36" width="1.3" height="1.3"/><rect x="529.42" y="512.02" width="1.3" height="1.3"/><rect x="535.74" y="576.57" width="1.3" height="1.3"/><rect x="539.79" y="577.50" width="1.3" height="1.3"/><rect x="537.81" y="519.74" width="1.3" height="1.3"/><rect x="525.91" y="516.80" width="1.3" height="1.3"/><rect x="530.98" y="517.52" width="1.3" height="1.3"/><rect x="541.60" y="562.72" width="1.3" height="1.3"/><rect x="532.53" y="491.26" width="1.3" height="1.3"/><rect x="530.53" y="500.48" width="1.3" height="1.3"/><rect x="540.04" y="459.83" width="1.3" height="1.3"/><rect x="534.54" y="485.99" width="1.3" height="1.3"/><rect x="542.10" y="478.25" width="1.3" height="1.3"/><rect x="538.30" y="547.17" width="1.3" height="1.3"/><rect x="536.81" y="512.21" width="1.3" height="1.3"/><rect x="541.61" y="490.79" width="1.3" height="1.3"/><rect x="538.41" y="498.26" width="1.3" height="1.3"/><rect x="535.32" y="538.89" width="1.3" height="1.3"/><rect x="528.60" y="504.86" width="1.3" height="1.3"/><rect x="541.26" y="518.22" width="1.3" height="1.3"/><rect x="527.39" y="471.71" width="1.3" height="1.3"/><rect x="529.92" y="498.04" width="1.3" height="1.3"/><rect x="540.93" y="487.16" width="1.3" height="1.3"/><rect x="532.89" y="551.08" width="1.3" height="1.3"/><rect x="531.60" y="521.74" width="1.3" height="1.3"/><rect x="534.41" y="579.45" width="1.3" height="1.3"/><rect x="530.07" y="481.65" width="1.3" height="1.3"/><rect x="542.07" y="505.56" width="1.3" height="1.3"/><rect x="537.91" y="456.39" width="1.3" height="1.3"/><rect x="532.51" y="529.94" width="1.3" height="1.3"/><rect x="528.47" y="485.88" width="1.3" height="1.3"/><rect x="541.86" y="521.51" width="1.3" height="1.3"/><rect x="539.15" y="525.30" width="1.3" height="1.3"/><rect x="528.03" y="537.53" width="1.3" height="1.3"/><rect x="527.05" y="544.44" width="1.3" height="1.3"/><rect x="532.45" y="521.78" width="1.3" height="1.3"/><rect x="536.81" y="513.49" width="1.3" height="1.3"/><rect x="542.18" y="484.09" width="1.3" height="1.3"/><rect x="526.22" y="545.23" width="1.3" height="1.3"/><rect x="532.99" y="518.38" width="1.3" height="1.3"/><rect x="526.43" y="573.91" width="1.3" height="1.3"/><rect x="537.45" y="497.53" width="1.3" height="1.3"/><rect x="529.34" y="549.71" width="1.3" height="1.3"/><rect x="529.61" y="560.23" width="1.3" height="1.3"/><rect x="542.03" y="552.49" width="1.3" height="1.3"/><rect x="529.65" y="518.05" width="1.3" height="1.3"/><rect x="541.98" y="507.81" width="1.3" height="1.3"/><rect x="526.87" y="472.01" width="1.3" height="1.3"/><rect x="540.87" y="504.72" width="1.3" height="1.3"/><rect x="537.15" y="550.64" width="1.3" height="1.3"/><rect x="531.49" y="502.81" width="1.3" height="1.3"/><rect x="530.61" y="475.57" width="1.3" height="1.3"/><rect x="539.82" y="480.53" width="1.3" height="1.3"/><rect x="541.10" y="478.66" width="1.3" height="1.3"/><rect x="526.91" y="458.84" width="1.3" height="1.3"/><rect x="542.13" y="497.66" width="1.3" height="1.3"/><rect x="538.03" y="533.82" width="1.3" height="1.3"/><rect x="525.91" y="494.72" width="1.3" height="1.3"/><rect x="542.07" y="515.37" width="1.3" height="1.3"/><rect x="533.16" y="503.84" width="1.3" height="1.3"/><rect x="528.96" y="517.75" width="1.3" height="1.3"/><rect x="531.28" y="532.55" width="1.3" height="1.3"/><rect x="527.19" y="500.63" width="1.3" height="1.3"/><rect x="526.43" y="485.72" width="1.3" height="1.3"/><rect x="542.51" y="525.44" width="1.3" height="1.3"/><rect x="527.49" y="488.01" width="1.3" height="1.3"/><rect x="533.45" y="518.40" width="1.3" height="1.3"/><rect x="536.40" y="484.02" width="1.3" height="1.3"/></g>
<path d="M559.50,468.50 L559.63,469.95 L559.74,471.39 L559.86,472.84 L559.98,474.29 L560.11,475.74 L560.26,477.19 L560.42,478.63 L560.60,480.08 L560.82,481.53 L561.07,482.98 L561.33,484.42 L561.61,485.87 L561.90,487.32 L562.19,488.76 L562.48,490.21 L562.76,491.66 L563.03,493.11 L563.28,494.56 L563.51,496.00 L563.75,497.45 L563.99,498.90 L564.23,500.34 L564.47,501.79 L564.71,503.24 L564.95,504.69 L565.17,506.13 L565.39,507.58 L565.58,509.03 L565.76,510.48 L565.92,511.92 L566.06,513.37 L566.16,514.82 L566.25,516.27 L566.33,517.72 L566.41,519.16 L566.48,520.61 L566.54,522.06 L566.60,523.50 L566.64,524.95 L566.68,526.40 L566.70,527.85 L566.70,529.29 L566.63,530.74 L566.49,532.19 L566.30,533.64 L566.06,535.08 L565.78,536.53 L565.49,537.98 L565.18,539.43 L564.87,540.88 L564.56,542.32 L564.29,543.77 L564.04,545.22 L563.83,546.66 L563.61,548.11 L563.40,549.56 L563.19,551.01 L562.99,552.45 L562.78,553.90 L562.58,555.35 L562.39,556.80 L562.20,558.25 L562.01,559.69 L561.84,561.14 L561.67,562.59 L561.50,564.03 L561.34,565.48 L561.19,566.93 L561.04,568.38 L560.89,569.82 L560.75,571.27 L560.61,572.72 L560.47,574.17 L560.33,575.62 L560.20,577.06 L560.06,578.51 L559.92,579.96 L559.78,581.40 L559.64,582.85 L559.50,584.30 L554.50,584.30 L554.36,582.85 L554.22,581.40 L554.08,579.96 L553.94,578.51 L553.80,577.06 L553.67,575.62 L553.53,574.17 L553.39,572.72 L553.25,571.27 L553.11,569.82 L552.96,568.38 L552.81,566.93 L552.66,565.48 L552.50,564.03 L552.33,562.59 L552.16,561.14 L551.99,559.69 L551.80,558.25 L551.61,556.80 L551.42,555.35 L551.22,553.90 L551.01,552.45 L550.81,551.01 L550.60,549.56 L550.39,548.11 L550.17,546.66 L549.96,545.22 L549.71,543.77 L549.44,542.32 L549.13,540.88 L548.82,539.43 L548.51,537.98 L548.22,536.53 L547.94,535.08 L547.70,533.64 L547.51,532.19 L547.37,530.74 L547.30,529.29 L547.30,527.85 L547.32,526.40 L547.36,524.95 L547.40,523.50 L547.46,522.06 L547.52,520.61 L547.59,519.16 L547.67,517.72 L547.75,516.27 L547.84,514.82 L547.94,513.37 L548.08,511.92 L548.24,510.48 L548.42,509.03 L548.61,507.58 L548.83,506.13 L549.05,504.69 L549.29,503.24 L549.53,501.79 L549.77,500.34 L550.01,498.90 L550.25,497.45 L550.49,496.00 L550.72,494.56 L550.97,493.11 L551.24,491.66 L551.52,490.21 L551.81,488.76 L552.10,487.32 L552.39,485.87 L552.67,484.42 L552.93,482.98 L553.18,481.53 L553.40,480.08 L553.58,478.63 L553.74,477.19 L553.89,475.74 L554.02,474.29 L554.14,472.84 L554.26,471.39 L554.37,469.95 L554.50,468.50 Z" fill="#b2df8a" stroke="#2e2e2e" stroke-width="1.1" stroke-linejoin="round"/>
<g fill="#000"><rect x="554.19" y="501.87" width="1.3" height="1.3"/><rect x="552.06" y="553.32" width="1.3" height="1.3"/><rect x="562.88" y="496.26" width="1.3" height="1.3"/><rect x="554.58" y="534.81" width="1.3" height="1.3"/><rect x="552.84" y="573.73" width="1.3" height="1.3"/><rect x="564.39" y="481.66" width="1.3" height="1.3"/><rect x="555.48" y="510.96" width="1.3" height="1.3"/><rect x="557.98" y="577.36" width="1.3" height="1.3"/><rect x="554.12" y="539.64" width="1.3" height="1.3"/><rect x="552.18" y="484.22" width="1.3" height="1.3"/><rect x="551.31" y="537.26" width="1.3" height="1.3"/><rect x="553.16" y="546.40" width="1.3" height="1.3"/><rect x="549.57" y="531.31" width="1.3" height="1.3"/><rect x="558.72" y="513.63" width="1.3" height="1.3"/><rect x="559.67" y="478.41" width="1.3" height="1.3"/><rect x="553.08" y="515.30" width="1.3" height="1.3"/><rect x="554.93" y="533.45" width="1.3" height="1.3"/><rect x="560.23" y="509.98" width="1.3" height="1.3"/><rect x="563.18" y="491.43" width="1.3" height="1.3"/><rect x="554.76" y="516.92" width="1.3" height="1.3"/><rect x="557.23" y="486.67" width="1.3" height="1.3"/><rect x="550.33" y="510.79" width="1.3" height="1.3"/><rect x="563.58" y="500.66" width="1.3" height="1.3"/><rect x="563.88" y="490.70" width="1.3" height="1.3"/><rect x="558.40" y="512.77" width="1.3" height="1.3"/><rect x="561.21" y="563.33" width="1.3" height="1.3"/><rect x="562.24" y="493.57" width="1.3" height="1.3"/><rect x="551.56" y="563.87" width="1.3" height="1.3"/><rect x="554.37" y="514.14" width="1.3" height="1.3"/><rect x="560.17" y="482.10" width="1.3" height="1.3"/><rect x="557.41" y="571.76" width="1.3" height="1.3"/><rect x="562.10" y="555.56" width="1.3" height="1.3"/><rect x="553.06" y="531.55" width="1.3" height="1.3"/><rect x="555.09" y="516.49" width="1.3" height="1.3"/><rect x="555.30" y="544.14" width="1.3" height="1.3"/><rect x="560.83" y="524.53" width="1.3" height="1.3"/><rect x="550.90" y="558.17" width="1.3" height="1.3"/><rect x="550.03" y="522.65" width="1.3" height="1.3"/><rect x="555.36" y="517.71" width="1.3" height="1.3"/><rect x="558.67" y="526.93" width="1.3" height="1.3"/><rect x="548.77" y="557.90" width="1.3" height="1.3"/><rect x="564.01" y="526.20" width="1.3" height="1.3"/><rect x="564.54" y="562.23" width="1.3" height="1.3"/><rect x="563.42" y="524.81" width="1.3" height="1.3"/><rect x="553.82" y="575.61" width="1.3" height="1.3"/><rect x="563.09" y="555.42" width="1.3" height="1.3"/><rect x="552.32" y="574.38" width="1.3" height="1.3"/><rect x="548.48" y="526.45" width="1.3" height="1.3"/><rect x="563.77" y="488.94" width="1.3" height="1.3"/><rect x="562.69" y="541.54" width="1.3" height="1.3"/><rect x="562.85" y="532.14" width="1.3" height="1.3"/><rect x="561.41" y="540.78" width="1.3" height="1.3"/><rect x="560.85" y="534.71" width="1.3" height="1.3"/><rect x="560.49" y="519.07" width="1.3" height="1.3"/><rect x="564.58" y="497.22" width="1.3" height="1.3"/><rect x="553.17" y="535.69" width="1.3" height="1.3"/><rect x="550.39" y="468.06" width="1.3" height="1.3"/><rect x="556.57" y="539.19" width="1.3" height="1.3"/><rect x="551.71" y="571.55" width="1.3" height="1.3"/><rect x="547.89" y="543.48" width="1.3" height="1.3"/><rect x="553.92" y="508.95" width="1.3" height="1.3"/><rect x="557.86" y="493.82" width="1.3" height="1.3"/><rect x="563.77" y="522.84" width="1.3" height="1.3"/><rect x="549.48" y="496.06" width="1.3" height="1.3"/><rect x="552.34" y="558.42" width="1.3" height="1.3"/><rect x="558.83" y="532.97" width="1.3" height="1.3"/><rect x="560.32" y="519.24" width="1.3" height="1.3"/><rect x="548.84" y="514.86" width="1.3" height="1.3"/><rect x="557.22" y="558.04" width="1.3" height="1.3"/><rect x="551.24" y="576.81" width="1.3" height="1.3"/><rect x="558.76" y="538.27" width="1.3" height="1.3"/><rect x="553.11" y="562.04" width="1.3" height="1.3"/><rect x="562.97" y="502.62" width="1.3" height="1.3"/><rect x="560.46" y="554.14" width="1.3" height="1.3"/><rect x="549.64" y="520.25" width="1.3" height="1.3"/><rect x="553.55" y="494.75" width="1.3" height="1.3"/><rect x="555.26" y="498.65" width="1.3" height="1.3"/><rect x="564.26" y="498.57" width="1.3" height="1.3"/><rect x="551.86" y="469.61" width="1.3" height="1.3"/><rect x="562.81" y="554.25" width="1.3" height="1.3"/><rect x="563.28" y="505.90" width="1.3" height="1.3"/><rect x="559.16" y="540.88" width="1.3" height="1.3"/><rect x="553.08" y="551.76" width="1.3" height="1.3"/><rect x="549.66" y="484.59" width="1.3" height="1.3"/><rect x="548.56" y="484.28" width="1.3" height="1.3"/><rect x="559.70" y="548.06" width="1.3" height="1.3"/><rect x="557.89" y="553.17" width="1.3" height="1.3"/><rect x="561.78" y="509.93" width="1.3" height="1.3"/><rect x="562.60" y="571.06" width="1.3" height="1.3"/><rect x="549.75" y="480.25" width="1.3" height="1.3"/><rect x="549.51" y="501.13" width="1.3" height="1.3"/><rect x="553.28" y="555.55" width="1.3" height="1.3"/><rect x="552.21" y="516.92" width="1.3" height="1.3"/><rect x="554.11" y="500.57" width="1.3" height="1.3"/><rect x="558.36" y="526.18" width="1.3" height="1.3"/><rect x="553.75" y="518.39" width="1.3" height="1.3"/><rect x="551.53" y="549.45" width="1.3" height="1.3"/><rect x="561.79" y="567.70" width="1.3" height="1.3"/><rect x="551.28" y="487.58" width="1.3" height="1.3"/><rect x="550.99" y="524.76" width="1.3" height="1.3"/><rect x="561.99" y="525.12" width="1.3" height="1.3"/><rect x="559.74" y="500.71" width="1.3" height="1.3"/><rect x="558.67" y="525.55" width="1.3" height="1.3"/><rect x="554.67" y="540.56" width="1.3" height="1.3"/><rect x="549.31" y="513.54" width="1.3" height="1.3"/><rect x="551.35" y="570.73" width="1.3" height="1.3"/><rect x="562.88" y="525.89" width="1.3" height="1.3"/><rect x="556.89" y="494.90" width="1.3" height="1.3"/><rect x="553.40" y="542.69" width="1.3" height="1.3"/><rect x="561.00" y="487.48" width="1.3" height="1.3"/><rect x="555.70" y="534.92" width="1.3" height="1.3"/><rect x="551.11" y="570.35" width="1.3" height="1.3"/><rect x="562.19" y="502.76" width="1.3" height="1.3"/><rect x="552.06" y="485.75" width="1.3" height="1.3"/><rect x="550.59" y="505.67" width="1.3" height="1.3"/><rect x="564.43" y="505.84" width="1.3" height="1.3"/><rect x="564.21" y="552.24" width="1.3" height="1.3"/><rect x="551.19" y="552.77" width="1.3" height="1.3"/><rect x="551.36" y="541.73" width="1.3" height="1.3"/><rect x="554.63" y="512.82" width="1.3" height="1.3"/></g>
<path d="M580.00,486.40 L580.32,487.62 L580.63,488.85 L580.94,490.07 L581.27,491.29 L581.64,492.52 L582.08,493.74 L582.59,494.97 L583.17,496.19 L583.77,497.41 L584.38,498.64 L584.97,499.86 L585.52,501.08 L586.00,502.31 L586.40,503.53 L586.81,504.76 L587.23,505.98 L587.62,507.20 L587.99,508.43 L588.29,509.65 L588.53,510.88 L588.67,512.10 L588.70,513.32 L588.70,514.55 L588.70,515.77 L588.70,516.99 L588.70,518.22 L588.70,519.44 L588.70,520.66 L588.70,521.89 L588.66,523.11 L588.55,524.34 L588.39,525.56 L588.19,526.78 L587.97,528.01 L587.74,529.23 L587.51,530.45 L587.31,531.68 L587.15,532.90 L587.03,534.13 L586.93,535.35 L586.84,536.57 L586.76,537.80 L586.68,539.02 L586.60,540.25 L586.53,541.47 L586.45,542.69 L586.37,543.92 L586.28,545.14 L586.18,546.36 L586.08,547.59 L585.97,548.81 L585.86,550.03 L585.75,551.26 L585.64,552.48 L585.52,553.71 L585.38,554.93 L585.24,556.15 L585.09,557.38 L584.93,558.60 L584.74,559.82 L584.49,561.05 L584.22,562.27 L583.91,563.50 L583.59,564.72 L583.26,565.94 L582.94,567.17 L582.63,568.39 L582.35,569.62 L582.11,570.84 L581.91,572.06 L581.74,573.29 L581.58,574.51 L581.43,575.73 L581.29,576.96 L581.16,578.18 L581.03,579.40 L580.90,580.63 L580.77,581.85 L580.64,583.08 L580.50,584.30 L577.90,584.30 L577.76,583.08 L577.63,581.85 L577.50,580.63 L577.37,579.40 L577.24,578.18 L577.11,576.96 L576.97,575.73 L576.82,574.51 L576.66,573.29 L576.49,572.06 L576.29,570.84 L576.05,569.62 L575.77,568.39 L575.46,567.17 L575.14,565.94 L574.81,564.72 L574.49,563.50 L574.18,562.27 L573.91,561.05 L573.66,559.82 L573.47,558.60 L573.31,557.38 L573.16,556.15 L573.02,554.93 L572.88,553.71 L572.76,552.48 L572.65,551.26 L572.54,550.03 L572.43,548.81 L572.32,547.59 L572.22,546.36 L572.12,545.14 L572.03,543.92 L571.95,542.69 L571.87,541.47 L571.80,540.25 L571.72,539.02 L571.64,537.80 L571.56,536.57 L571.47,535.35 L571.37,534.13 L571.25,532.90 L571.09,531.68 L570.89,530.45 L570.66,529.23 L570.43,528.01 L570.21,526.78 L570.01,525.56 L569.85,524.34 L569.74,523.11 L569.70,521.89 L569.70,520.66 L569.70,519.44 L569.70,518.22 L569.70,516.99 L569.70,515.77 L569.70,514.55 L569.70,513.32 L569.73,512.10 L569.87,510.88 L570.11,509.65 L570.41,508.43 L570.78,507.20 L571.17,505.98 L571.59,504.76 L572.00,503.53 L572.40,502.31 L572.88,501.08 L573.43,499.86 L574.02,498.64 L574.63,497.41 L575.23,496.19 L575.81,494.97 L576.32,493.74 L576.76,492.52 L577.13,491.29 L577.46,490.07 L577.77,488.85 L578.08,487.62 L578.40,486.40 Z" fill="#33a02c" stroke="#2e2e2e" stroke-width="1.1" stroke-linejoin="round"/>
<g fill="#000"><rect x="577.93" y="534.75" width="1.3" height="1.3"/><rect x="576.93" y="499.63" width="1.3" height="1.3"/><rect x="582.78" y="527.85" width="1.3" height="1.3"/><rect x="582.33" y="526.98" width="1.3" height="1.3"/><rect x="577.77" y="552.28" width="1.3" height="1.3"/><rect x="571.71" y="516.39" width="1.3" height="1.3"/><rect x="582.17" y="526.83" width="1.3" height="1.3"/><rect x="577.25" y="547.39" width="1.3" height="1.3"/><rect x="577.01" y="530.31" width="1.3" height="1.3"/><rect x="583.28" y="503.67" width="1.3" height="1.3"/><rect x="586.62" y="523.80" width="1.3" height="1.3"/><rect x="578.76" y="538.72" width="1.3" height="1.3"/><rect x="586.17" y="536.82" width="1.3" height="1.3"/><rect x="576.72" y="506.32" width="1.3" height="1.3"/><rect x="586.79" y="560.42" width="1.3" height="1.3"/><rect x="574.71" y="520.55" width="1.3" height="1.3"/><rect x="577.17" y="524.88" width="1.3" height="1.3"/><rect x="576.04" y="526.92" width="1.3" height="1.3"/><rect x="582.66" y="511.71" width="1.3" height="1.3"/><rect x="576.71" y="507.18" width="1.3" height="1.3"/><rect x="583.25" y="506.51" width="1.3" height="1.3"/><rect x="573.89" y="531.68" width="1.3" height="1.3"/><rect x="572.18" y="514.57" width="1.3" height="1.3"/><rect x="584.51" y="567.37" width="1.3" height="1.3"/><rect x="574.36" y="511.93" width="1.3" height="1.3"/><rect x="570.10" y="527.47" width="1.3" height="1.3"/><rect x="574.21" y="556.41" width="1.3" height="1.3"/><rect x="577.33" y="515.30" width="1.3" height="1.3"/><rect x="576.21" y="548.14" width="1.3" height="1.3"/><rect x="570.25" y="547.74" width="1.3" height="1.3"/><rect x="572.48" y="510.23" width="1.3" height="1.3"/><rect x="575.94" y="508.62" width="1.3" height="1.3"/><rect x="585.20" y="563.25" width="1.3" height="1.3"/><rect x="579.07" y="505.07" width="1.3" height="1.3"/><rect x="585.06" y="558.38" width="1.3" height="1.3"/><rect x="574.03" y="540.09" width="1.3" height="1.3"/><rect x="571.04" y="499.39" width="1.3" height="1.3"/><rect x="578.40" y="531.48" width="1.3" height="1.3"/><rect x="584.72" y="534.52" width="1.3" height="1.3"/><rect x="581.36" y="531.56" width="1.3" height="1.3"/><rect x="580.41" y="548.03" width="1.3" height="1.3"/><rect x="578.73" y="518.10" width="1.3" height="1.3"/><rect x="584.70" y="546.96" width="1.3" height="1.3"/><rect x="578.98" y="521.60" width="1.3" height="1.3"/><rect x="577.45" y="561.19" width="1.3" height="1.3"/><rect x="584.10" y="527.10" width="1.3" height="1.3"/><rect x="576.91" y="514.42" width="1.3" height="1.3"/><rect x="578.66" y="535.07" width="1.3" height="1.3"/><rect x="575.44" y="563.28" width="1.3" height="1.3"/><rect x="580.84" y="515.04" width="1.3" height="1.3"/><rect x="582.34" y="562.52" width="1.3" height="1.3"/><rect x="581.89" y="546.12" width="1.3" height="1.3"/><rect x="573.66" y="544.13" width="1.3" height="1.3"/><rect x="583.02" y="551.05" width="1.3" height="1.3"/><rect x="570.68" y="495.67" width="1.3" height="1.3"/><rect x="584.03" y="549.94" width="1.3" height="1.3"/><rect x="577.22" y="511.01" width="1.3" height="1.3"/><rect x="580.96" y="516.93" width="1.3" height="1.3"/><rect x="579.70" y="577.17" width="1.3" height="1.3"/><rect x="583.83" y="489.61" width="1.3" height="1.3"/><rect x="576.63" y="529.46" width="1.3" height="1.3"/><rect x="581.01" y="526.13" width="1.3" height="1.3"/><rect x="570.31" y="506.53" width="1.3" height="1.3"/><rect x="582.28" y="498.38" width="1.3" height="1.3"/><rect x="573.24" y="509.47" width="1.3" height="1.3"/><rect x="580.74" y="557.19" width="1.3" height="1.3"/><rect x="585.90" y="555.18" width="1.3" height="1.3"/><rect x="582.24" y="510.62" width="1.3" height="1.3"/><rect x="581.11" y="486.87" width="1.3" height="1.3"/><rect x="575.34" y="565.77" width="1.3" height="1.3"/><rect x="584.69" y="557.16" width="1.3" height="1.3"/><rect x="576.30" y="533.36" width="1.3" height="1.3"/><rect x="581.56" y="542.04" width="1.3" height="1.3"/><rect x="580.76" y="521.31" width="1.3" height="1.3"/><rect x="583.42" y="526.67" width="1.3" height="1.3"/><rect x="571.08" y="541.24" width="1.3" height="1.3"/><rect x="580.35" y="566.75" width="1.3" height="1.3"/><rect x="577.34" y="544.60" width="1.3" height="1.3"/><rect x="585.28" y="552.79" width="1.3" height="1.3"/><rect x="570.08" y="564.80" width="1.3" height="1.3"/><rect x="580.02" y="511.50" width="1.3" height="1.3"/><rect x="584.52" y="541.74" width="1.3" height="1.3"/><rect x="582.80" y="563.81" width="1.3" height="1.3"/><rect x="577.96" y="545.17" width="1.3" height="1.3"/><rect x="582.82" y="505.97" width="1.3" height="1.3"/><rect x="571.54" y="563.25" width="1.3" height="1.3"/><rect x="585.30" y="508.55" width="1.3" height="1.3"/><rect x="573.27" y="532.41" width="1.3" height="1.3"/><rect x="581.97" y="504.58" width="1.3" height="1.3"/><rect x="576.89" y="521.27" width="1.3" height="1.3"/><rect x="570.81" y="536.39" width="1.3" height="1.3"/><rect x="580.20" y="562.83" width="1.3" height="1.3"/><rect x="570.40" y="519.52" width="1.3" height="1.3"/><rect x="583.30" y="541.28" width="1.3" height="1.3"/><rect x="570.92" y="503.44" width="1.3" height="1.3"/><rect x="580.22" y="574.83" width="1.3" height="1.3"/><rect x="586.36" y="524.66" width="1.3" height="1.3"/><rect x="580.94" y="510.93" width="1.3" height="1.3"/><rect x="572.77" y="524.24" width="1.3" height="1.3"/><rect x="574.40" y="507.46" width="1.3" height="1.3"/><rect x="585.43" y="520.21" width="1.3" height="1.3"/><rect x="583.42" y="567.71" width="1.3" height="1.3"/><rect x="572.51" y="582.22" width="1.3" height="1.3"/><rect x="580.10" y="552.02" width="1.3" height="1.3"/><rect x="575.56" y="559.95" width="1.3" height="1.3"/><rect x="578.23" y="510.91" width="1.3" height="1.3"/><rect x="572.48" y="502.25" width="1.3" height="1.3"/><rect x="582.24" y="552.09" width="1.3" height="1.3"/><rect x="585.82" y="504.85" width="1.3" height="1.3"/><rect x="571.70" y="499.43" width="1.3" height="1.3"/><rect x="575.83" y="547.27" width="1.3" height="1.3"/><rect x="573.82" y="547.25" width="1.3" height="1.3"/><rect x="584.85" y="539.93" width="1.3" height="1.3"/><rect x="572.70" y="511.83" width="1.3" height="1.3"/><rect x="575.74" y="512.29" width="1.3" height="1.3"/><rect x="575.46" y="502.18" width="1.3" height="1.3"/><rect x="586.69" y="574.17" width="1.3" height="1.3"/><rect x="578.17" y="551.17" width="1.3" height="1.3"/><rect x="573.48" y="513.77" width="1.3" height="1.3"/><rect x="587.02" y="521.41" width="1.3" height="1.3"/><rect x="574.97" y="576.32" width="1.3" height="1.3"/><rect x="582.40" y="573.49" width="1.3" height="1.3"/><rect x="570.32" y="514.49" width="1.3" height="1.3"/><rect x="572.43" y="564.76" width="1.3" height="1.3"/><rect x="577.45" y="537.30" width="1.3" height="1.3"/><rect x="579.76" y="575.03" width="1.3" height="1.3"/><rect x="583.15" y="499.27" width="1.3" height="1.3"/><rect x="571.40" y="555.42" width="1.3" height="1.3"/><rect x="573.55" y="534.26" width="1.3" height="1.3"/><rect x="583.85" y="545.71" width="1.3" height="1.3"/><rect x="571.17" y="542.82" width="1.3" height="1.3"/><rect x="582.32" y="557.48" width="1.3" height="1.3"/><rect x="584.75" y="518.57" width="1.3" height="1.3"/><rect x="585.52" y="534.02" width="1.3" height="1.3"/><rect x="584.19" y="511.82" width="1.3" height="1.3"/><rect x="576.36" y="521.69" width="1.3" height="1.3"/><rect x="578.89" y="543.99" width="1.3" height="1.3"/><rect x="572.10" y="529.39" width="1.3" height="1.3"/><rect x="582.82" y="555.38" width="1.3" height="1.3"/><rect x="579.18" y="536.00" width="1.3" height="1.3"/><rect x="571.80" y="507.65" width="1.3" height="1.3"/><rect x="570.56" y="510.27" width="1.3" height="1.3"/><rect x="580.24" y="504.85" width="1.3" height="1.3"/><rect x="581.99" y="542.19" width="1.3" height="1.3"/><rect x="572.14" y="555.95" width="1.3" height="1.3"/><rect x="574.80" y="534.07" width="1.3" height="1.3"/><rect x="572.38" y="497.70" width="1.3" height="1.3"/><rect x="582.74" y="500.16" width="1.3" height="1.3"/><rect x="578.99" y="526.92" width="1.3" height="1.3"/><rect x="583.26" y="524.48" width="1.3" height="1.3"/><rect x="575.75" y="518.89" width="1.3" height="1.3"/><rect x="580.81" y="510.15" width="1.3" height="1.3"/><rect x="571.23" y="521.43" width="1.3" height="1.3"/><rect x="570.40" y="528.14" width="1.3" height="1.3"/><rect x="574.70" y="511.77" width="1.3" height="1.3"/><rect x="578.90" y="546.57" width="1.3" height="1.3"/><rect x="581.06" y="513.90" width="1.3" height="1.3"/><rect x="579.13" y="512.03" width="1.3" height="1.3"/><rect x="572.28" y="500.28" width="1.3" height="1.3"/><rect x="574.95" y="514.49" width="1.3" height="1.3"/><rect x="579.34" y="509.58" width="1.3" height="1.3"/><rect x="573.47" y="541.57" width="1.3" height="1.3"/><rect x="579.37" y="555.29" width="1.3" height="1.3"/><rect x="575.33" y="545.74" width="1.3" height="1.3"/><rect x="578.76" y="509.47" width="1.3" height="1.3"/><rect x="570.25" y="523.26" width="1.3" height="1.3"/><rect x="574.11" y="520.27" width="1.3" height="1.3"/><rect x="574.89" y="540.25" width="1.3" height="1.3"/><rect x="571.19" y="561.34" width="1.3" height="1.3"/><rect x="571.91" y="528.82" width="1.3" height="1.3"/><rect x="575.78" y="558.06" width="1.3" height="1.3"/><rect x="580.53" y="520.26" width="1.3" height="1.3"/><rect x="582.69" y="536.44" width="1.3" height="1.3"/><rect x="583.39" y="560.12" width="1.3" height="1.3"/><rect x="586.42" y="543.10" width="1.3" height="1.3"/></g>
<path d="M603.10,460.10 L603.34,461.65 L603.58,463.21 L603.81,464.76 L604.05,466.31 L604.30,467.86 L604.57,469.42 L604.87,470.97 L605.22,472.52 L605.59,474.07 L605.98,475.62 L606.37,477.18 L606.73,478.73 L607.06,480.28 L607.37,481.84 L607.67,483.39 L607.97,484.94 L608.26,486.49 L608.53,488.05 L608.78,489.60 L609.00,491.15 L609.20,492.70 L609.38,494.25 L609.57,495.81 L609.75,497.36 L609.92,498.91 L610.09,500.46 L610.25,502.02 L610.40,503.57 L610.53,505.12 L610.63,506.68 L610.72,508.23 L610.77,509.78 L610.80,511.33 L610.78,512.88 L610.68,514.44 L610.51,515.99 L610.30,517.54 L610.05,519.10 L609.80,520.65 L609.55,522.20 L609.28,523.75 L608.96,525.30 L608.61,526.86 L608.23,528.41 L607.85,529.96 L607.46,531.51 L607.08,533.07 L606.70,534.62 L606.30,536.17 L605.89,537.73 L605.49,539.28 L605.10,540.83 L604.73,542.38 L604.41,543.93 L604.09,545.49 L603.78,547.04 L603.50,548.59 L603.29,550.14 L603.17,551.70 L603.09,553.25 L603.02,554.80 L602.96,556.36 L602.91,557.91 L602.87,559.46 L602.83,561.01 L602.79,562.56 L602.75,564.12 L602.71,565.67 L602.66,567.22 L602.61,568.77 L602.55,570.33 L602.48,571.88 L602.41,573.43 L602.34,574.99 L602.27,576.54 L602.19,578.09 L602.12,579.64 L602.05,581.19 L601.97,582.75 L601.90,584.30 L600.70,584.30 L600.63,582.75 L600.55,581.19 L600.48,579.64 L600.41,578.09 L600.33,576.54 L600.26,574.99 L600.19,573.43 L600.12,571.88 L600.05,570.33 L599.99,568.77 L599.94,567.22 L599.89,565.67 L599.85,564.12 L599.81,562.56 L599.77,561.01 L599.73,559.46 L599.69,557.91 L599.64,556.36 L599.58,554.80 L599.51,553.25 L599.43,551.70 L599.31,550.14 L599.10,548.59 L598.82,547.04 L598.51,545.49 L598.19,543.93 L597.87,542.38 L597.50,540.83 L597.11,539.28 L596.71,537.73 L596.30,536.17 L595.90,534.62 L595.52,533.07 L595.14,531.51 L594.75,529.96 L594.37,528.41 L593.99,526.86 L593.64,525.30 L593.32,523.75 L593.05,522.20 L592.80,520.65 L592.55,519.10 L592.30,517.54 L592.09,515.99 L591.92,514.44 L591.82,512.88 L591.80,511.33 L591.83,509.78 L591.88,508.23 L591.97,506.68 L592.07,505.12 L592.20,503.57 L592.35,502.02 L592.51,500.46 L592.68,498.91 L592.85,497.36 L593.03,495.81 L593.22,494.25 L593.40,492.70 L593.60,491.15 L593.82,489.60 L594.07,488.05 L594.34,486.49 L594.63,484.94 L594.93,483.39 L595.23,481.84 L595.54,480.28 L595.87,478.73 L596.23,477.18 L596.62,475.62 L597.01,474.07 L597.38,472.52 L597.73,470.97 L598.03,469.42 L598.30,467.86 L598.55,466.31 L598.79,464.76 L599.02,463.21 L599.26,461.65 L599.50,460.10 Z" fill="#fdbf6f" stroke="#2e2e2e" stroke-width="1.1" stroke-linejoin="round"/>
<g fill="#000"><rect x="605.47" y="530.49" width="1.3" height="1.3"/><rect x="599.93" y="506.59" width="1.3" height="1.3"/><rect x="598.69" y="507.97" width="1.3" height="1.3"/><rect x="606.59" y="499.44" width="1.3" height="1.3"/><rect x="595.28" y="521.49" width="1.3" height="1.3"/><rect x="601.93" y="497.21" width="1.3" height="1.3"/><rect x="607.79" y="531.68" width="1.3" height="1.3"/><rect x="606.40" y="499.67" width="1.3" height="1.3"/><rect x="592.33" y="512.41" width="1.3" height="1.3"/><rect x="598.77" y="523.69" width="1.3" height="1.3"/><rect x="598.12" y="503.88" width="1.3" height="1.3"/><rect x="598.52" y="524.69" width="1.3" height="1.3"/><rect x="601.91" y="509.24" width="1.3" height="1.3"/><rect x="602.77" y="519.90" width="1.3" height="1.3"/><rect x="608.78" y="480.65" width="1.3" height="1.3"/><rect x="597.08" y="511.72" width="1.3" height="1.3"/><rect x="595.35" y="522.99" width="1.3" height="1.3"/><rect x="602.40" y="482.11" width="1.3" height="1.3"/><rect x="599.14" y="538.50" width="1.3" height="1.3"/><rect x="597.33" y="545.23" width="1.3" height="1.3"/><rect x="600.61" y="542.43" width="1.3" height="1.3"/><rect x="603.15" y="528.16" width="1.3" height="1.3"/><rect x="594.22" y="530.80" width="1.3" height="1.3"/><rect x="595.05" y="472.70" width="1.3" height="1.3"/><rect x="605.25" y="467.16" width="1.3" height="1.3"/><rect x="598.17" y="499.54" width="1.3" height="1.3"/><rect x="593.84" y="480.49" width="1.3" height="1.3"/><rect x="598.71" y="502.78" width="1.3" height="1.3"/><rect x="596.39" y="514.05" width="1.3" height="1.3"/><rect x="608.47" y="497.17" width="1.3" height="1.3"/><rect x="604.36" y="489.62" width="1.3" height="1.3"/><rect x="607.03" y="486.95" width="1.3" height="1.3"/><rect x="596.29" y="519.61" width="1.3" height="1.3"/><rect x="595.32" y="480.99" width="1.3" height="1.3"/><rect x="601.22" y="529.19" width="1.3" height="1.3"/><rect x="593.26" y="507.34" width="1.3" height="1.3"/><rect x="595.40" y="503.07" width="1.3" height="1.3"/><rect x="592.74" y="494.67" width="1.3" height="1.3"/><rect x="594.80" y="541.95" width="1.3" height="1.3"/><rect x="596.73" y="547.12" width="1.3" height="1.3"/><rect x="599.69" y="563.16" width="1.3" height="1.3"/><rect x="604.43" y="479.23" width="1.3" height="1.3"/><rect x="595.69" y="506.26" width="1.3" height="1.3"/><rect x="594.38" y="487.68" width="1.3" height="1.3"/><rect x="602.49" y="505.16" width="1.3" height="1.3"/><rect x="605.27" y="526.84" width="1.3" height="1.3"/><rect x="601.80" y="507.24" width="1.3" height="1.3"/><rect x="593.61" y="498.05" width="1.3" height="1.3"/><rect x="594.00" y="499.32" width="1.3" height="1.3"/><rect x="600.66" y="529.25" width="1.3" height="1.3"/><rect x="597.44" y="496.33" width="1.3" height="1.3"/><rect x="604.33" y="487.57" width="1.3" height="1.3"/><rect x="607.60" y="494.52" width="1.3" height="1.3"/><rect x="596.85" y="566.42" width="1.3" height="1.3"/><rect x="599.16" y="541.87" width="1.3" height="1.3"/><rect x="595.24" y="503.18" width="1.3" height="1.3"/><rect x="594.90" y="464.47" width="1.3" height="1.3"/><rect x="598.62" y="484.05" width="1.3" height="1.3"/><rect x="606.42" y="538.73" width="1.3" height="1.3"/><rect x="603.78" y="491.08" width="1.3" height="1.3"/><rect x="606.33" y="502.80" width="1.3" height="1.3"/><rect x="596.31" y="534.89" width="1.3" height="1.3"/><rect x="603.96" y="552.54" width="1.3" height="1.3"/><rect x="606.24" y="508.34" width="1.3" height="1.3"/><rect x="608.24" y="494.37" width="1.3" height="1.3"/><rect x="603.91" y="512.11" width="1.3" height="1.3"/><rect x="593.07" y="537.46" width="1.3" height="1.3"/><rect x="598.23" y="490.46" width="1.3" height="1.3"/><rect x="597.43" y="510.58" width="1.3" height="1.3"/><rect x="596.26" y="542.71" width="1.3" height="1.3"/><rect x="608.06" y="523.46" width="1.3" height="1.3"/><rect x="607.19" y="503.10" width="1.3" height="1.3"/><rect x="601.47" y="500.88" width="1.3" height="1.3"/><rect x="603.48" y="553.91" width="1.3" height="1.3"/><rect x="605.17" y="533.81" width="1.3" height="1.3"/><rect x="597.07" y="562.68" width="1.3" height="1.3"/><rect x="593.18" y="504.22" width="1.3" height="1.3"/><rect x="604.08" y="494.34" width="1.3" height="1.3"/><rect x="597.67" y="515.09" width="1.3" height="1.3"/><rect x="595.01" y="517.66" width="1.3" height="1.3"/><rect x="609.02" y="468.37" width="1.3" height="1.3"/><rect x="604.34" y="552.66" width="1.3" height="1.3"/><rect x="601.38" y="513.38" width="1.3" height="1.3"/><rect x="594.51" y="490.68" width="1.3" height="1.3"/><rect x="606.53" y="482.52" width="1.3" height="1.3"/><rect x="601.52" y="499.21" width="1.3" height="1.3"/><rect x="596.22" y="505.31" width="1.3" height="1.3"/><rect x="597.24" y="521.49" width="1.3" height="1.3"/><rect x="603.85" y="531.62" width="1.3" height="1.3"/><rect x="608.64" y="479.77" width="1.3" height="1.3"/><rect x="599.62" y="470.59" width="1.3" height="1.3"/><rect x="603.40" y="512.29" width="1.3" height="1.3"/><rect x="597.91" y="523.37" width="1.3" height="1.3"/><rect x="606.19" y="513.94" width="1.3" height="1.3"/><rect x="601.73" y="496.18" width="1.3" height="1.3"/><rect x="593.60" y="502.68" width="1.3" height="1.3"/><rect x="608.66" y="499.65" width="1.3" height="1.3"/><rect x="601.86" y="535.11" width="1.3" height="1.3"/><rect x="597.99" y="539.85" width="1.3" height="1.3"/><rect x="595.36" y="569.38" width="1.3" height="1.3"/><rect x="599.23" y="505.65" width="1.3" height="1.3"/><rect x="598.89" y="525.27" width="1.3" height="1.3"/><rect x="607.28" y="473.64" width="1.3" height="1.3"/><rect x="606.81" y="527.53" width="1.3" height="1.3"/><rect x="601.17" y="490.93" width="1.3" height="1.3"/><rect x="601.57" y="490.69" width="1.3" height="1.3"/><rect x="594.07" y="487.59" width="1.3" height="1.3"/><rect x="593.51" y="523.19" width="1.3" height="1.3"/><rect x="599.62" y="510.13" width="1.3" height="1.3"/><rect x="606.26" y="549.07" width="1.3" height="1.3"/><rect x="608.47" y="508.13" width="1.3" height="1.3"/><rect x="598.48" y="466.60" width="1.3" height="1.3"/><rect x="604.18" y="485.92" width="1.3" height="1.3"/><rect x="602.71" y="512.36" width="1.3" height="1.3"/><rect x="603.72" y="501.85" width="1.3" height="1.3"/><rect x="598.49" y="561.99" width="1.3" height="1.3"/><rect x="602.41" y="549.09" width="1.3" height="1.3"/><rect x="607.88" y="559.19" width="1.3" height="1.3"/><rect x="595.43" y="543.31" width="1.3" height="1.3"/><rect x="602.03" y="514.94" width="1.3" height="1.3"/><rect x="594.03" y="473.56" width="1.3" height="1.3"/><rect x="603.83" y="528.29" width="1.3" height="1.3"/><rect x="607.03" y="506.75" width="1.3" height="1.3"/><rect x="605.89" y="526.32" width="1.3" height="1.3"/><rect x="597.97" y="577.29" width="1.3" height="1.3"/><rect x="606.99" y="478.20" width="1.3" height="1.3"/><rect x="595.25" y="558.87" width="1.3" height="1.3"/><rect x="594.84" y="508.21" width="1.3" height="1.3"/><rect x="595.83" y="468.87" width="1.3" height="1.3"/><rect x="598.29" y="464.87" width="1.3" height="1.3"/><rect x="598.74" y="517.55" width="1.3" height="1.3"/><rect x="602.00" y="503.38" width="1.3" height="1.3"/><rect x="599.96" y="500.91" width="1.3" height="1.3"/><rect x="594.63" y="581.96" width="1.3" height="1.3"/><rect x="596.80" y="542.78" width="1.3" height="1.3"/><rect x="601.82" y="521.55" width="1.3" height="1.3"/><rect x="601.68" y="582.68" width="1.3" height="1.3"/><rect x="596.94" y="538.27" width="1.3" height="1.3"/><rect x="604.72" y="497.21" width="1.3" height="1.3"/><rect x="598.11" y="522.66" width="1.3" height="1.3"/><rect x="593.18" y="527.85" width="1.3" height="1.3"/><rect x="608.95" y="501.33" width="1.3" height="1.3"/><rect x="596.29" y="519.25" width="1.3" height="1.3"/><rect x="594.46" y="488.61" width="1.3" height="1.3"/><rect x="601.82" y="515.73" width="1.3" height="1.3"/><rect x="593.28" y="497.01" width="1.3" height="1.3"/><rect x="604.50" y="496.89" width="1.3" height="1.3"/><rect x="602.07" y="501.74" width="1.3" height="1.3"/><rect x="602.02" y="469.39" width="1.3" height="1.3"/><rect x="600.39" y="567.29" width="1.3" height="1.3"/><rect x="594.95" y="491.44" width="1.3" height="1.3"/><rect x="595.86" y="492.74" width="1.3" height="1.3"/><rect x="602.40" y="509.08" width="1.3" height="1.3"/><rect x="601.28" y="476.42" width="1.3" height="1.3"/><rect x="603.18" y="500.03" width="1.3" height="1.3"/><rect x="597.89" y="509.79" width="1.3" height="1.3"/><rect x="602.31" y="501.00" width="1.3" height="1.3"/><rect x="592.38" y="491.37" width="1.3" height="1.3"/><rect x="602.59" y="582.10" width="1.3" height="1.3"/><rect x="594.58" y="471.06" width="1.3" height="1.3"/><rect x="605.99" y="554.73" width="1.3" height="1.3"/><rect x="602.15" y="512.02" width="1.3" height="1.3"/><rect x="602.38" y="528.38" width="1.3" height="1.3"/><rect x="596.53" y="500.54" width="1.3" height="1.3"/><rect x="601.05" y="515.73" width="1.3" height="1.3"/><rect x="593.68" y="487.79" width="1.3" height="1.3"/><rect x="593.17" y="462.92" width="1.3" height="1.3"/><rect x="595.24" y="521.78" width="1.3" height="1.3"/><rect x="604.69" y="477.99" width="1.3" height="1.3"/><rect x="598.00" y="521.42" width="1.3" height="1.3"/><rect x="593.98" y="499.67" width="1.3" height="1.3"/><rect x="603.12" y="550.54" width="1.3" height="1.3"/><rect x="593.17" y="509.36" width="1.3" height="1.3"/><rect x="607.78" y="529.52" width="1.3" height="1.3"/><rect x="596.61" y="487.28" width="1.3" height="1.3"/><rect x="595.60" y="513.33" width="1.3" height="1.3"/><rect x="594.81" y="486.35" width="1.3" height="1.3"/><rect x="606.14" y="492.65" width="1.3" height="1.3"/><rect x="600.40" y="494.54" width="1.3" height="1.3"/><rect x="607.16" y="515.72" width="1.3" height="1.3"/><rect x="606.83" y="504.21" width="1.3" height="1.3"/><rect x="608.71" y="462.48" width="1.3" height="1.3"/><rect x="603.76" y="471.57" width="1.3" height="1.3"/><rect x="607.76" y="470.66" width="1.3" height="1.3"/><rect x="596.14" y="581.12" width="1.3" height="1.3"/><rect x="593.93" y="488.22" width="1.3" height="1.3"/><rect x="594.20" y="498.76" width="1.3" height="1.3"/><rect x="599.43" y="519.98" width="1.3" height="1.3"/><rect x="598.16" y="521.64" width="1.3" height="1.3"/><rect x="608.60" y="502.85" width="1.3" height="1.3"/><rect x="596.65" y="493.35" width="1.3" height="1.3"/><rect x="600.80" y="468.01" width="1.3" height="1.3"/><rect x="598.31" y="510.14" width="1.3" height="1.3"/><rect x="608.85" y="527.61" width="1.3" height="1.3"/><rect x="599.28" y="509.04" width="1.3" height="1.3"/><rect x="594.58" y="507.32" width="1.3" height="1.3"/><rect x="602.48" y="583.45" width="1.3" height="1.3"/><rect x="596.24" y="535.32" width="1.3" height="1.3"/><rect x="606.48" y="484.09" width="1.3" height="1.3"/><rect x="601.48" y="499.74" width="1.3" height="1.3"/><rect x="604.79" y="488.57" width="1.3" height="1.3"/><rect x="598.84" y="506.50" width="1.3" height="1.3"/><rect x="603.66" y="524.81" width="1.3" height="1.3"/><rect x="601.38" y="499.46" width="1.3" height="1.3"/><rect x="596.65" y="487.18" width="1.3" height="1.3"/><rect x="594.57" y="518.65" width="1.3" height="1.3"/><rect x="605.98" y="524.52" width="1.3" height="1.3"/><rect x="606.12" y="489.09" width="1.3" height="1.3"/><rect x="606.22" y="516.62" width="1.3" height="1.3"/><rect x="596.43" y="474.73" width="1.3" height="1.3"/><rect x="605.80" y="472.22" width="1.3" height="1.3"/><rect x="593.65" y="524.20" width="1.3" height="1.3"/><rect x="605.05" y="518.86" width="1.3" height="1.3"/><rect x="596.19" y="505.02" width="1.3" height="1.3"/><rect x="598.63" y="505.50" width="1.3" height="1.3"/><rect x="601.85" y="461.66" width="1.3" height="1.3"/><rect x="604.36" y="466.62" width="1.3" height="1.3"/><rect x="596.26" y="493.55" width="1.3" height="1.3"/><rect x="602.96" y="563.05" width="1.3" height="1.3"/><rect x="602.65" y="512.00" width="1.3" height="1.3"/><rect x="599.67" y="505.61" width="1.3" height="1.3"/><rect x="597.17" y="505.05" width="1.3" height="1.3"/><rect x="605.93" y="510.11" width="1.3" height="1.3"/><rect x="601.99" y="503.21" width="1.3" height="1.3"/><rect x="597.75" y="505.70" width="1.3" height="1.3"/><rect x="600.59" y="506.57" width="1.3" height="1.3"/><rect x="606.42" y="516.90" width="1.3" height="1.3"/><rect x="607.29" y="510.98" width="1.3" height="1.3"/><rect x="600.85" y="514.08" width="1.3" height="1.3"/><rect x="595.90" y="555.07" width="1.3" height="1.3"/><rect x="604.96" y="472.08" width="1.3" height="1.3"/><rect x="603.73" y="529.55" width="1.3" height="1.3"/><rect x="609.12" y="511.36" width="1.3" height="1.3"/><rect x="600.96" y="477.52" width="1.3" height="1.3"/><rect x="597.47" y="493.56" width="1.3" height="1.3"/><rect x="599.29" y="528.47" width="1.3" height="1.3"/><rect x="601.28" y="484.54" width="1.3" height="1.3"/><rect x="600.46" y="505.88" width="1.3" height="1.3"/><rect x="605.77" y="531.95" width="1.3" height="1.3"/><rect x="597.49" y="528.52" width="1.3" height="1.3"/><rect x="601.75" y="525.66" width="1.3" height="1.3"/><rect x="605.68" y="499.64" width="1.3" height="1.3"/><rect x="605.79" y="495.66" width="1.3" height="1.3"/><rect x="608.04" y="532.99" width="1.3" height="1.3"/><rect x="593.13" y="514.70" width="1.3" height="1.3"/><rect x="592.98" y="513.32" width="1.3" height="1.3"/><rect x="602.29" y="566.59" width="1.3" height="1.3"/><rect x="603.62" y="521.33" width="1.3" height="1.3"/><rect x="606.40" y="496.08" width="1.3" height="1.3"/><rect x="593.77" y="485.15" width="1.3" height="1.3"/><rect x="596.53" y="510.95" width="1.3" height="1.3"/><rect x="603.98" y="478.68" width="1.3" height="1.3"/><rect x="602.04" y="495.92" width="1.3" height="1.3"/><rect x="594.77" y="499.04" width="1.3" height="1.3"/><rect x="598.61" y="508.07" width="1.3" height="1.3"/><rect x="601.43" y="539.04" width="1.3" height="1.3"/><rect x="606.23" y="543.77" width="1.3" height="1.3"/><rect x="598.07" y="524.82" width="1.3" height="1.3"/><rect x="600.39" y="574.93" width="1.3" height="1.3"/><rect x="594.53" y="526.61" width="1.3" height="1.3"/><rect x="602.33" y="574.29" width="1.3" height="1.3"/><rect x="604.77" y="515.29" width="1.3" height="1.3"/><rect x="601.66" y="496.49" width="1.3" height="1.3"/><rect x="600.88" y="516.76" width="1.3" height="1.3"/><rect x="603.42" y="503.28" width="1.3" height="1.3"/><rect x="608.16" y="479.80" width="1.3" height="1.3"/><rect x="607.00" y="500.64" width="1.3" height="1.3"/><rect x="593.75" y="519.10" width="1.3" height="1.3"/><rect x="600.58" y="568.63" width="1.3" height="1.3"/><rect x="600.10" y="526.02" width="1.3" height="1.3"/><rect x="600.77" y="479.82" width="1.3" height="1.3"/><rect x="599.01" y="505.02" width="1.3" height="1.3"/><rect x="596.23" y="484.72" width="1.3" height="1.3"/><rect x="608.19" y="570.06" width="1.3" height="1.3"/><rect x="601.85" y="520.11" width="1.3" height="1.3"/><rect x="604.90" y="545.02" width="1.3" height="1.3"/><rect x="592.68" y="478.53" width="1.3" height="1.3"/><rect x="597.11" y="508.29" width="1.3" height="1.3"/><rect x="601.98" y="570.05" width="1.3" height="1.3"/><rect x="605.48" y="488.50" width="1.3" height="1.3"/><rect x="596.33" y="547.73" width="1.3" height="1.3"/><rect x="600.00" y="501.94" width="1.3" height="1.3"/><rect x="608.14" y="573.82" width="1.3" height="1.3"/><rect x="593.65" y="510.62" width="1.3" height="1.3"/><rect x="603.69" y="489.86" width="1.3" height="1.3"/><rect x="594.54" y="478.23" width="1.3" height="1.3"/><rect x="597.78" y="484.07" width="1.3" height="1.3"/><rect x="607.59" y="521.22" width="1.3" height="1.3"/><rect x="606.53" y="484.17" width="1.3" height="1.3"/><rect x="604.35" y="557.15" width="1.3" height="1.3"/><rect x="608.57" y="502.82" width="1.3" height="1.3"/><rect x="605.49" y="513.52" width="1.3" height="1.3"/><rect x="599.93" y="488.28" width="1.3" height="1.3"/><rect x="607.59" y="488.84" width="1.3" height="1.3"/><rect x="605.64" y="508.14" width="1.3" height="1.3"/><rect x="600.46" y="557.93" width="1.3" height="1.3"/><rect x="605.96" y="461.48" width="1.3" height="1.3"/><rect x="599.93" y="511.45" width="1.3" height="1.3"/><rect x="598.16" y="501.11" width="1.3" height="1.3"/><rect x="596.76" y="495.73" width="1.3" height="1.3"/><rect x="608.43" y="482.32" width="1.3" height="1.3"/><rect x="607.28" y="504.46" width="1.3" height="1.3"/><rect x="608.40" y="508.43" width="1.3" height="1.3"/><rect x="592.16" y="479.60" width="1.3" height="1.3"/><rect x="596.41" y="515.91" width="1.3" height="1.3"/><rect x="601.55" y="503.21" width="1.3" height="1.3"/><rect x="607.34" y="506.23" width="1.3" height="1.3"/><rect x="602.76" y="542.21" width="1.3" height="1.3"/><rect x="598.30" y="514.61" width="1.3" height="1.3"/><rect x="603.65" y="506.13" width="1.3" height="1.3"/><rect x="607.30" y="515.06" width="1.3" height="1.3"/><rect x="592.94" y="532.42" width="1.3" height="1.3"/><rect x="603.06" y="508.16" width="1.3" height="1.3"/><rect x="597.10" y="494.33" width="1.3" height="1.3"/><rect x="608.78" y="527.05" width="1.3" height="1.3"/><rect x="594.90" y="545.25" width="1.3" height="1.3"/><rect x="607.07" y="476.82" width="1.3" height="1.3"/><rect x="593.06" y="480.65" width="1.3" height="1.3"/><rect x="608.59" y="496.42" width="1.3" height="1.3"/><rect x="599.60" y="483.96" width="1.3" height="1.3"/><rect x="598.85" y="472.92" width="1.3" height="1.3"/><rect x="596.69" y="507.33" width="1.3" height="1.3"/><rect x="602.98" y="515.37" width="1.3" height="1.3"/><rect x="603.55" y="517.85" width="1.3" height="1.3"/><rect x="601.15" y="504.50" width="1.3" height="1.3"/><rect x="596.57" y="495.27" width="1.3" height="1.3"/><rect x="606.20" y="555.25" width="1.3" height="1.3"/><rect x="608.13" y="529.81" width="1.3" height="1.3"/><rect x="593.34" y="492.43" width="1.3" height="1.3"/><rect x="597.37" y="559.77" width="1.3" height="1.3"/></g>
<path d="M625.60,551.60 L625.77,552.01 L625.94,552.42 L626.12,552.83 L626.29,553.25 L626.47,553.66 L626.64,554.07 L626.81,554.48 L626.98,554.89 L627.15,555.30 L627.31,555.71 L627.47,556.12 L627.62,556.53 L627.77,556.95 L627.92,557.36 L628.07,557.77 L628.21,558.18 L628.35,558.59 L628.49,559.00 L628.63,559.41 L628.77,559.83 L628.90,560.24 L629.04,560.65 L629.17,561.06 L629.30,561.47 L629.44,561.88 L629.57,562.29 L629.71,562.70 L629.84,563.12 L629.98,563.53 L630.11,563.94 L630.25,564.35 L630.39,564.76 L630.53,565.17 L630.68,565.58 L630.82,565.99 L630.97,566.40 L631.11,566.82 L631.26,567.23 L631.40,567.64 L631.54,568.05 L631.68,568.46 L631.82,568.87 L631.95,569.28 L632.08,569.70 L632.21,570.11 L632.33,570.52 L632.45,570.93 L632.56,571.34 L632.67,571.75 L632.78,572.16 L632.90,572.57 L633.02,572.99 L633.14,573.40 L633.25,573.81 L633.36,574.22 L633.45,574.63 L633.54,575.04 L633.61,575.45 L633.66,575.86 L633.69,576.27 L633.70,576.69 L633.66,577.10 L633.55,577.51 L633.40,577.92 L633.21,578.33 L632.97,578.74 L632.70,579.15 L632.40,579.57 L632.08,579.98 L631.74,580.39 L631.38,580.80 L631.03,581.21 L630.67,581.62 L630.28,582.03 L629.80,582.44 L629.26,582.86 L628.67,583.27 L628.06,583.68 L627.47,584.09 L626.90,584.50 L619.30,584.50 L618.73,584.09 L618.14,583.68 L617.53,583.27 L616.94,582.86 L616.40,582.44 L615.92,582.03 L615.53,581.62 L615.17,581.21 L614.82,580.80 L614.46,580.39 L614.12,579.98 L613.80,579.57 L613.50,579.15 L613.23,578.74 L612.99,578.33 L612.80,577.92 L612.65,577.51 L612.54,577.10 L612.50,576.69 L612.51,576.27 L612.54,575.86 L612.59,575.45 L612.66,575.04 L612.75,574.63 L612.84,574.22 L612.95,573.81 L613.06,573.40 L613.18,572.99 L613.30,572.57 L613.42,572.16 L613.53,571.75 L613.64,571.34 L613.75,570.93 L613.87,570.52 L613.99,570.11 L614.12,569.70 L614.25,569.28 L614.38,568.87 L614.52,568.46 L614.66,568.05 L614.80,567.64 L614.94,567.23 L615.09,566.82 L615.23,566.40 L615.38,565.99 L615.52,565.58 L615.67,565.17 L615.81,564.76 L615.95,564.35 L616.09,563.94 L616.22,563.53 L616.36,563.12 L616.49,562.70 L616.63,562.29 L616.76,561.88 L616.90,561.47 L617.03,561.06 L617.16,560.65 L617.30,560.24 L617.43,559.83 L617.57,559.41 L617.71,559.00 L617.85,558.59 L617.99,558.18 L618.13,557.77 L618.28,557.36 L618.43,556.95 L618.58,556.53 L618.73,556.12 L618.89,555.71 L619.05,555.30 L619.22,554.89 L619.39,554.48 L619.56,554.07 L619.73,553.66 L619.91,553.25 L620.08,552.83 L620.26,552.42 L620.43,552.01 L620.60,551.60 Z" fill="#ff7f00" stroke="#2e2e2e" stroke-width="1.1" stroke-linejoin="round"/>
<g fill="#000"><rect x="627.12" y="571.81" width="1.3" height="1.3"/><rect x="620.62" y="575.38" width="1.3" height="1.3"/><rect x="617.11" y="577.46" width="1.3" height="1.3"/><rect x="622.81" y="579.63" width="1.3" height="1.3"/><rect x="616.22" y="572.97" width="1.3" height="1.3"/><rect x="620.97" y="562.09" width="1.3" height="1.3"/><rect x="620.81" y="572.92" width="1.3" height="1.3"/><rect x="628.31" y="569.83" width="1.3" height="1.3"/><rect x="616.52" y="576.89" width="1.3" height="1.3"/><rect x="622.46" y="573.04" width="1.3" height="1.3"/><rect x="624.98" y="575.39" width="1.3" height="1.3"/><rect x="625.92" y="579.86" width="1.3" height="1.3"/><rect x="618.63" y="574.10" width="1.3" height="1.3"/><rect x="617.57" y="578.07" width="1.3" height="1.3"/><rect x="625.44" y="558.32" width="1.3" height="1.3"/><rect x="624.65" y="561.65" width="1.3" height="1.3"/><rect x="614.95" y="555.52" width="1.3" height="1.3"/><rect x="627.68" y="565.61" width="1.3" height="1.3"/><rect x="624.65" y="554.59" width="1.3" height="1.3"/><rect x="623.61" y="562.14" width="1.3" height="1.3"/><rect x="614.47" y="577.56" width="1.3" height="1.3"/><rect x="622.53" y="576.55" width="1.3" height="1.3"/><rect x="624.66" y="564.90" width="1.3" height="1.3"/><rect x="620.75" y="574.79" width="1.3" height="1.3"/><rect x="617.80" y="567.80" width="1.3" height="1.3"/><rect x="619.55" y="577.41" width="1.3" height="1.3"/><rect x="622.07" y="583.40" width="1.3" height="1.3"/><rect x="621.68" y="573.41" width="1.3" height="1.3"/><rect x="620.80" y="562.19" width="1.3" height="1.3"/><rect x="626.46" y="560.25" width="1.3" height="1.3"/><rect x="617.31" y="567.93" width="1.3" height="1.3"/><rect x="618.47" y="574.10" width="1.3" height="1.3"/><rect x="630.49" y="569.38" width="1.3" height="1.3"/><rect x="629.59" y="575.55" width="1.3" height="1.3"/><rect x="615.02" y="574.72" width="1.3" height="1.3"/><rect x="628.63" y="557.72" width="1.3" height="1.3"/><rect x="618.43" y="574.70" width="1.3" height="1.3"/><rect x="624.70" y="562.64" width="1.3" height="1.3"/><rect x="614.70" y="583.57" width="1.3" height="1.3"/><rect x="629.23" y="556.71" width="1.3" height="1.3"/><rect x="615.69" y="577.42" width="1.3" height="1.3"/><rect x="627.17" y="554.46" width="1.3" height="1.3"/><rect x="623.53" y="555.17" width="1.3" height="1.3"/><rect x="618.23" y="567.66" width="1.3" height="1.3"/><rect x="630.62" y="574.32" width="1.3" height="1.3"/><rect x="614.17" y="578.63" width="1.3" height="1.3"/><rect x="628.07" y="563.42" width="1.3" height="1.3"/><rect x="614.69" y="576.81" width="1.3" height="1.3"/><rect x="615.16" y="580.20" width="1.3" height="1.3"/><rect x="624.82" y="580.08" width="1.3" height="1.3"/><rect x="629.35" y="557.72" width="1.3" height="1.3"/><rect x="624.00" y="563.54" width="1.3" height="1.3"/><rect x="621.71" y="555.10" width="1.3" height="1.3"/><rect x="625.97" y="570.21" width="1.3" height="1.3"/><rect x="626.27" y="565.41" width="1.3" height="1.3"/><rect x="626.08" y="564.12" width="1.3" height="1.3"/><rect x="616.36" y="573.72" width="1.3" height="1.3"/><rect x="615.02" y="580.86" width="1.3" height="1.3"/><rect x="627.35" y="558.47" width="1.3" height="1.3"/><rect x="626.56" y="578.05" width="1.3" height="1.3"/><rect x="630.54" y="552.21" width="1.3" height="1.3"/><rect x="614.78" y="577.36" width="1.3" height="1.3"/><rect x="629.58" y="581.56" width="1.3" height="1.3"/><rect x="614.26" y="559.60" width="1.3" height="1.3"/><rect x="630.49" y="575.86" width="1.3" height="1.3"/></g>
<path d="M646.00,496.10 L646.08,497.20 L646.15,498.31 L646.21,499.41 L646.28,500.51 L646.34,501.61 L646.41,502.72 L646.48,503.82 L646.56,504.92 L646.64,506.02 L646.74,507.12 L646.85,508.23 L646.98,509.33 L647.15,510.43 L647.36,511.54 L647.61,512.64 L647.88,513.74 L648.18,514.84 L648.49,515.95 L648.81,517.05 L649.13,518.15 L649.45,519.25 L649.77,520.36 L650.06,521.46 L650.34,522.56 L650.64,523.66 L650.96,524.76 L651.29,525.87 L651.63,526.97 L651.98,528.07 L652.32,529.17 L652.65,530.28 L652.98,531.38 L653.28,532.48 L653.56,533.59 L653.81,534.69 L654.03,535.79 L654.20,536.89 L654.34,538.00 L654.42,539.10 L654.49,540.20 L654.55,541.30 L654.61,542.40 L654.67,543.51 L654.72,544.61 L654.76,545.71 L654.80,546.81 L654.84,547.92 L654.87,549.02 L654.88,550.12 L654.90,551.23 L654.90,552.33 L654.86,553.43 L654.75,554.53 L654.58,555.63 L654.37,556.74 L654.11,557.84 L653.83,558.94 L653.52,560.04 L653.19,561.15 L652.86,562.25 L652.53,563.35 L652.21,564.45 L651.91,565.56 L651.61,566.66 L651.29,567.76 L650.94,568.87 L650.58,569.97 L650.21,571.07 L649.84,572.17 L649.46,573.27 L649.09,574.38 L648.73,575.48 L648.38,576.58 L648.06,577.68 L647.76,578.79 L647.48,579.89 L647.23,580.99 L646.98,582.09 L646.74,583.20 L646.50,584.30 L643.90,584.30 L643.66,583.20 L643.42,582.09 L643.17,580.99 L642.92,579.89 L642.64,578.79 L642.34,577.68 L642.02,576.58 L641.67,575.48 L641.31,574.38 L640.94,573.27 L640.56,572.17 L640.19,571.07 L639.82,569.97 L639.46,568.87 L639.11,567.76 L638.79,566.66 L638.49,565.56 L638.19,564.45 L637.87,563.35 L637.54,562.25 L637.21,561.15 L636.88,560.04 L636.57,558.94 L636.29,557.84 L636.03,556.74 L635.82,555.63 L635.65,554.53 L635.54,553.43 L635.50,552.33 L635.50,551.23 L635.52,550.12 L635.53,549.02 L635.56,547.92 L635.60,546.81 L635.64,545.71 L635.68,544.61 L635.73,543.51 L635.79,542.40 L635.85,541.30 L635.91,540.20 L635.98,539.10 L636.06,538.00 L636.20,536.89 L636.37,535.79 L636.59,534.69 L636.84,533.59 L637.12,532.48 L637.42,531.38 L637.75,530.28 L638.08,529.17 L638.42,528.07 L638.77,526.97 L639.11,525.87 L639.44,524.76 L639.76,523.66 L640.06,522.56 L640.34,521.46 L640.63,520.36 L640.95,519.25 L641.27,518.15 L641.59,517.05 L641.91,515.95 L642.22,514.84 L642.52,513.74 L642.79,512.64 L643.04,511.54 L643.25,510.43 L643.42,509.33 L643.55,508.23 L643.66,507.12 L643.76,506.02 L643.84,504.92 L643.92,503.82 L643.99,502.72 L644.06,501.61 L644.12,500.51 L644.19,499.41 L644.25,498.31 L644.32,497.20 L644.40,496.10 Z" fill="#fb9a99" stroke="#2e2e2e" stroke-width="1.1" stroke-linejoin="round"/>
<g fill="#000"><rect x="649.77" y="558.07" width="1.3" height="1.3"/><rect x="644.59" y="544.48" width="1.3" height="1.3"/><rect x="649.64" y="550.12" width="1.3" height="1.3"/><rect x="645.32" y="502.30" width="1.3" height="1.3"/><rect x="636.18" y="521.11" width="1.3" height="1.3"/><rect x="650.15" y="561.16" width="1.3" height="1.3"/><rect x="638.13" y="567.03" width="1.3" height="1.3"/><rect x="643.34" y="552.79" width="1.3" height="1.3"/><rect x="637.65" y="543.62" width="1.3" height="1.3"/><rect x="642.30" y="570.27" width="1.3" height="1.3"/><rect x="637.98" y="496.06" width="1.3" height="1.3"/><rect x="644.89" y="556.53" width="1.3" height="1.3"/><rect x="646.44" y="535.64" width="1.3" height="1.3"/><rect x="648.51" y="552.65" width="1.3" height="1.3"/><rect x="650.98" y="570.42" width="1.3" height="1.3"/><rect x="640.34" y="534.41" width="1.3" height="1.3"/><rect x="641.57" y="521.96" width="1.3" height="1.3"/><rect x="640.30" y="561.84" width="1.3" height="1.3"/><rect x="639.97" y="531.83" width="1.3" height="1.3"/><rect x="637.83" y="565.53" width="1.3" height="1.3"/><rect x="646.71" y="568.25" width="1.3" height="1.3"/><rect x="652.47" y="527.83" width="1.3" height="1.3"/><rect x="652.00" y="552.77" width="1.3" height="1.3"/><rect x="648.73" y="556.03" width="1.3" height="1.3"/><rect x="640.42" y="561.88" width="1.3" height="1.3"/><rect x="652.44" y="513.90" width="1.3" height="1.3"/><rect x="647.20" y="552.19" width="1.3" height="1.3"/><rect x="641.22" y="548.18" width="1.3" height="1.3"/><rect x="636.30" y="501.09" width="1.3" height="1.3"/><rect x="637.97" y="527.33" width="1.3" height="1.3"/><rect x="649.13" y="556.09" width="1.3" height="1.3"/><rect x="641.20" y="511.14" width="1.3" height="1.3"/><rect x="643.61" y="531.52" width="1.3" height="1.3"/><rect x="651.90" y="559.69" width="1.3" height="1.3"/><rect x="639.28" y="519.94" width="1.3" height="1.3"/><rect x="647.26" y="575.26" width="1.3" height="1.3"/><rect x="639.12" y="547.22" width="1.3" height="1.3"/><rect x="652.76" y="508.12" width="1.3" height="1.3"/><rect x="645.73" y="529.23" width="1.3" height="1.3"/><rect x="636.30" y="515.14" width="1.3" height="1.3"/><rect x="652.42" y="570.64" width="1.3" height="1.3"/><rect x="644.94" y="517.65" width="1.3" height="1.3"/><rect x="642.52" y="565.65" width="1.3" height="1.3"/><rect x="639.35" y="562.90" width="1.3" height="1.3"/><rect x="644.07" y="527.67" width="1.3" height="1.3"/><rect x="647.33" y="572.15" width="1.3" height="1.3"/><rect x="636.55" y="569.22" width="1.3" height="1.3"/><rect x="643.87" y="534.11" width="1.3" height="1.3"/><rect x="638.05" y="558.21" width="1.3" height="1.3"/><rect x="639.97" y="537.74" width="1.3" height="1.3"/><rect x="637.20" y="534.28" width="1.3" height="1.3"/><rect x="651.97" y="527.30" width="1.3" height="1.3"/><rect x="639.83" y="544.38" width="1.3" height="1.3"/><rect x="650.84" y="561.09" width="1.3" height="1.3"/><rect x="638.95" y="541.74" width="1.3" height="1.3"/><rect x="637.46" y="571.71" width="1.3" height="1.3"/><rect x="637.32" y="536.10" width="1.3" height="1.3"/><rect x="639.54" y="535.41" width="1.3" height="1.3"/><rect x="638.09" y="553.92" width="1.3" height="1.3"/><rect x="647.15" y="511.32" width="1.3" height="1.3"/><rect x="644.05" y="540.84" width="1.3" height="1.3"/><rect x="640.03" y="560.76" width="1.3" height="1.3"/><rect x="647.12" y="539.46" width="1.3" height="1.3"/><rect x="651.40" y="571.07" width="1.3" height="1.3"/><rect x="646.22" y="511.48" width="1.3" height="1.3"/></g>
<line x1="500.3" y1="427.3" x2="500.3" y2="593.0" stroke="#111" stroke-width="1.3"/>
<line x1="499.65000000000003" y1="593.0" x2="658.8" y2="593.0" stroke="#111" stroke-width="1.3"/>
<line x1="513.1" y1="593.0" x2="513.1" y2="596.4" stroke="#111" stroke-width="1"/>
<text x="0.00" y="0.00" font-size="9.3" text-anchor="middle" font-weight="normal" font-style="normal" fill="#1a1a1a" transform="translate(515.43,608.83) rotate(-45)">S1</text>
<line x1="535.0" y1="593.0" x2="535.0" y2="596.4" stroke="#111" stroke-width="1"/>
<text x="0.00" y="0.00" font-size="9.3" text-anchor="middle" font-weight="normal" font-style="normal" fill="#1a1a1a" transform="translate(537.33,608.83) rotate(-45)">S2</text>
<line x1="557.0" y1="593.0" x2="557.0" y2="596.4" stroke="#111" stroke-width="1"/>
<text x="0.00" y="0.00" font-size="9.3" text-anchor="middle" font-weight="normal" font-style="normal" fill="#1a1a1a" transform="translate(559.33,608.83) rotate(-45)">S3</text>
<line x1="579.2" y1="593.0" x2="579.2" y2="596.4" stroke="#111" stroke-width="1"/>
<text x="0.00" y="0.00" font-size="9.3" text-anchor="middle" font-weight="normal" font-style="normal" fill="#1a1a1a" transform="translate(581.53,608.83) rotate(-45)">S4</text>
<line x1="601.3" y1="593.0" x2="601.3" y2="596.4" stroke="#111" stroke-width="1"/>
<text x="0.00" y="0.00" font-size="9.3" text-anchor="middle" font-weight="normal" font-style="normal" fill="#1a1a1a" transform="translate(603.62,608.83) rotate(-45)">S5</text>
<line x1="623.1" y1="593.0" x2="623.1" y2="596.4" stroke="#111" stroke-width="1"/>
<text x="0.00" y="0.00" font-size="9.3" text-anchor="middle" font-weight="normal" font-style="normal" fill="#1a1a1a" transform="translate(625.43,608.83) rotate(-45)">S6</text>
<line x1="645.2" y1="593.0" x2="645.2" y2="596.4" stroke="#111" stroke-width="1"/>
<text x="0.00" y="0.00" font-size="9.3" text-anchor="middle" font-weight="normal" font-style="normal" fill="#1a1a1a" transform="translate(647.53,608.83) rotate(-45)">S7</text>
<path d="M512.8,444.2 V439.4 H621.8 V444.2" fill="none" stroke="#111" stroke-width="1"/>
<path d="M623.9,444.2 V439.4 H644.8 V444.2" fill="none" stroke="#111" stroke-width="1"/>
<text x="560.50" y="437.60" font-size="10" text-anchor="middle" font-weight="normal" font-style="normal" fill="#111" >****</text>
<text x="633.50" y="437.60" font-size="10" text-anchor="middle" font-weight="normal" font-style="normal" fill="#111" >****</text>
<text x="575.60" y="622.90" font-size="9.6" text-anchor="middle" font-weight="normal" font-style="normal" fill="#111" >B cell states</text>
<text x="0.00" y="0.00" font-size="9.6" text-anchor="middle" font-weight="normal" font-style="normal" fill="#111" transform="translate(475.3,515.2) rotate(-90)">Relative distance to</text>
<text x="0.00" y="0.00" font-size="9.6" text-anchor="middle" font-weight="normal" font-style="normal" fill="#111" transform="translate(486.9,515.2) rotate(-90)">TLS</text>
<path d="M231.30,724.80 L231.33,726.09 L231.35,727.38 L231.38,728.66 L231.40,729.95 L231.42,731.24 L231.44,732.52 L231.47,733.81 L231.50,735.10 L231.53,736.39 L231.56,737.67 L231.60,738.96 L231.65,740.25 L231.70,741.54 L231.80,742.82 L231.99,744.11 L232.23,745.40 L232.54,746.69 L232.89,747.97 L233.27,749.26 L233.67,750.55 L234.08,751.84 L234.49,753.12 L234.88,754.41 L235.26,755.70 L235.65,756.99 L236.09,758.27 L236.55,759.56 L237.02,760.85 L237.48,762.14 L237.93,763.42 L238.34,764.71 L238.70,766.00 L239.00,767.29 L239.24,768.57 L239.47,769.86 L239.69,771.15 L239.90,772.44 L240.11,773.72 L240.29,775.01 L240.45,776.30 L240.59,777.59 L240.69,778.88 L240.77,780.16 L240.80,781.45 L240.79,782.74 L240.75,784.02 L240.68,785.31 L240.58,786.60 L240.46,787.89 L240.31,789.17 L240.16,790.46 L239.99,791.75 L239.81,793.04 L239.63,794.32 L239.44,795.61 L239.24,796.90 L238.99,798.19 L238.71,799.47 L238.39,800.76 L238.05,802.05 L237.70,803.34 L237.34,804.62 L236.99,805.91 L236.65,807.20 L236.33,808.49 L236.01,809.77 L235.69,811.06 L235.36,812.35 L235.04,813.64 L234.72,814.92 L234.41,816.21 L234.11,817.50 L233.83,818.79 L233.58,820.07 L233.35,821.36 L233.14,822.65 L232.95,823.94 L232.77,825.22 L232.59,826.51 L232.40,827.80 L228.20,827.80 L228.01,826.51 L227.83,825.22 L227.65,823.94 L227.46,822.65 L227.25,821.36 L227.02,820.07 L226.77,818.79 L226.49,817.50 L226.19,816.21 L225.88,814.92 L225.56,813.64 L225.24,812.35 L224.91,811.06 L224.59,809.77 L224.27,808.49 L223.95,807.20 L223.61,805.91 L223.26,804.62 L222.90,803.34 L222.55,802.05 L222.21,800.76 L221.89,799.47 L221.61,798.19 L221.36,796.90 L221.16,795.61 L220.97,794.32 L220.79,793.04 L220.61,791.75 L220.44,790.46 L220.29,789.17 L220.14,787.89 L220.02,786.60 L219.92,785.31 L219.85,784.02 L219.81,782.74 L219.80,781.45 L219.83,780.16 L219.91,778.88 L220.01,777.59 L220.15,776.30 L220.31,775.01 L220.49,773.72 L220.70,772.44 L220.91,771.15 L221.13,769.86 L221.36,768.57 L221.60,767.29 L221.90,766.00 L222.26,764.71 L222.67,763.42 L223.12,762.14 L223.58,760.85 L224.05,759.56 L224.51,758.27 L224.95,756.99 L225.34,755.70 L225.72,754.41 L226.11,753.12 L226.52,751.84 L226.93,750.55 L227.33,749.26 L227.71,747.97 L228.06,746.69 L228.37,745.40 L228.61,744.11 L228.80,742.82 L228.90,741.54 L228.95,740.25 L229.00,738.96 L229.04,737.67 L229.07,736.39 L229.10,735.10 L229.13,733.81 L229.16,732.52 L229.18,731.24 L229.20,729.95 L229.22,728.66 L229.25,727.38 L229.27,726.09 L229.30,724.80 Z" fill="#a6cee3" stroke="#2e2e2e" stroke-width="1.1" stroke-linejoin="round"/>
<g fill="#000"><rect x="237.29" y="770.75" width="1.3" height="1.3"/><rect x="231.22" y="772.11" width="1.3" height="1.3"/><rect x="222.34" y="789.03" width="1.3" height="1.3"/><rect x="235.22" y="755.40" width="1.3" height="1.3"/><rect x="238.33" y="795.57" width="1.3" height="1.3"/><rect x="220.92" y="787.55" width="1.3" height="1.3"/><rect x="224.07" y="778.57" width="1.3" height="1.3"/><rect x="229.00" y="749.07" width="1.3" height="1.3"/><rect x="229.99" y="769.52" width="1.3" height="1.3"/><rect x="232.57" y="790.10" width="1.3" height="1.3"/><rect x="238.61" y="771.25" width="1.3" height="1.3"/><rect x="224.78" y="797.05" width="1.3" height="1.3"/><rect x="234.44" y="753.92" width="1.3" height="1.3"/><rect x="224.42" y="811.42" width="1.3" height="1.3"/><rect x="222.22" y="804.34" width="1.3" height="1.3"/><rect x="225.08" y="802.23" width="1.3" height="1.3"/><rect x="235.00" y="734.56" width="1.3" height="1.3"/><rect x="233.82" y="770.23" width="1.3" height="1.3"/><rect x="225.98" y="803.74" width="1.3" height="1.3"/><rect x="231.14" y="731.71" width="1.3" height="1.3"/><rect x="237.91" y="762.44" width="1.3" height="1.3"/><rect x="236.25" y="773.97" width="1.3" height="1.3"/><rect x="233.96" y="749.85" width="1.3" height="1.3"/><rect x="237.75" y="821.01" width="1.3" height="1.3"/><rect x="221.35" y="767.56" width="1.3" height="1.3"/><rect x="233.33" y="823.31" width="1.3" height="1.3"/><rect x="223.81" y="785.59" width="1.3" height="1.3"/><rect x="224.76" y="798.35" width="1.3" height="1.3"/><rect x="231.71" y="781.76" width="1.3" height="1.3"/><rect x="225.50" y="745.16" width="1.3" height="1.3"/><rect x="223.82" y="770.06" width="1.3" height="1.3"/><rect x="223.02" y="762.13" width="1.3" height="1.3"/><rect x="223.18" y="795.35" width="1.3" height="1.3"/><rect x="237.03" y="727.76" width="1.3" height="1.3"/><rect x="226.39" y="773.82" width="1.3" height="1.3"/><rect x="230.48" y="827.08" width="1.3" height="1.3"/><rect x="234.93" y="800.07" width="1.3" height="1.3"/><rect x="234.88" y="813.87" width="1.3" height="1.3"/><rect x="231.14" y="788.52" width="1.3" height="1.3"/><rect x="232.16" y="786.86" width="1.3" height="1.3"/><rect x="233.88" y="799.16" width="1.3" height="1.3"/><rect x="235.74" y="783.99" width="1.3" height="1.3"/><rect x="233.22" y="773.69" width="1.3" height="1.3"/><rect x="237.22" y="775.37" width="1.3" height="1.3"/><rect x="226.07" y="750.50" width="1.3" height="1.3"/><rect x="223.70" y="794.00" width="1.3" height="1.3"/><rect x="231.15" y="814.82" width="1.3" height="1.3"/><rect x="229.59" y="756.75" width="1.3" height="1.3"/><rect x="228.76" y="752.66" width="1.3" height="1.3"/><rect x="228.10" y="752.49" width="1.3" height="1.3"/><rect x="226.33" y="788.60" width="1.3" height="1.3"/><rect x="221.22" y="770.76" width="1.3" height="1.3"/><rect x="233.41" y="814.05" width="1.3" height="1.3"/><rect x="234.90" y="782.92" width="1.3" height="1.3"/><rect x="235.58" y="771.00" width="1.3" height="1.3"/><rect x="221.49" y="748.60" width="1.3" height="1.3"/><rect x="231.99" y="788.96" width="1.3" height="1.3"/><rect x="237.90" y="791.62" width="1.3" height="1.3"/><rect x="229.20" y="794.65" width="1.3" height="1.3"/><rect x="229.15" y="742.55" width="1.3" height="1.3"/><rect x="225.55" y="797.71" width="1.3" height="1.3"/><rect x="234.26" y="777.75" width="1.3" height="1.3"/><rect x="237.44" y="817.49" width="1.3" height="1.3"/><rect x="228.81" y="798.55" width="1.3" height="1.3"/><rect x="227.43" y="788.58" width="1.3" height="1.3"/><rect x="234.99" y="782.74" width="1.3" height="1.3"/><rect x="233.64" y="791.24" width="1.3" height="1.3"/><rect x="236.85" y="798.07" width="1.3" height="1.3"/><rect x="226.42" y="779.46" width="1.3" height="1.3"/><rect x="228.59" y="760.05" width="1.3" height="1.3"/><rect x="229.42" y="780.83" width="1.3" height="1.3"/><rect x="223.33" y="805.30" width="1.3" height="1.3"/><rect x="235.77" y="777.35" width="1.3" height="1.3"/><rect x="222.20" y="774.89" width="1.3" height="1.3"/><rect x="235.84" y="789.95" width="1.3" height="1.3"/><rect x="227.51" y="781.83" width="1.3" height="1.3"/><rect x="230.30" y="783.17" width="1.3" height="1.3"/><rect x="221.15" y="775.98" width="1.3" height="1.3"/><rect x="230.78" y="765.41" width="1.3" height="1.3"/><rect x="221.84" y="774.73" width="1.3" height="1.3"/><rect x="237.87" y="779.64" width="1.3" height="1.3"/><rect x="229.17" y="819.26" width="1.3" height="1.3"/><rect x="224.10" y="773.23" width="1.3" height="1.3"/><rect x="222.98" y="787.79" width="1.3" height="1.3"/><rect x="224.14" y="804.42" width="1.3" height="1.3"/></g>
<path d="M254.70,710.20 L254.78,711.67 L254.85,713.14 L254.92,714.61 L254.99,716.08 L255.06,717.55 L255.15,719.02 L255.26,720.49 L255.39,721.96 L255.60,723.43 L255.98,724.90 L256.49,726.37 L257.09,727.84 L257.76,729.31 L258.45,730.78 L259.15,732.25 L259.80,733.72 L260.39,735.19 L260.87,736.66 L261.23,738.13 L261.51,739.60 L261.79,741.07 L262.07,742.54 L262.33,744.01 L262.58,745.48 L262.81,746.95 L263.01,748.42 L263.18,749.89 L263.32,751.36 L263.42,752.83 L263.48,754.30 L263.50,755.77 L263.50,757.24 L263.50,758.71 L263.50,760.18 L263.50,761.65 L263.50,763.12 L263.50,764.59 L263.50,766.06 L263.50,767.53 L263.50,769.00 L263.50,770.47 L263.50,771.94 L263.47,773.41 L263.42,774.88 L263.34,776.35 L263.24,777.82 L263.12,779.29 L262.99,780.76 L262.84,782.23 L262.69,783.70 L262.53,785.17 L262.36,786.64 L262.19,788.11 L262.02,789.58 L261.81,791.05 L261.56,792.52 L261.27,793.99 L260.97,795.46 L260.64,796.93 L260.30,798.40 L259.97,799.87 L259.63,801.34 L259.30,802.81 L259.00,804.28 L258.72,805.75 L258.46,807.22 L258.22,808.69 L257.98,810.16 L257.75,811.63 L257.53,813.10 L257.31,814.57 L257.09,816.04 L256.88,817.51 L256.67,818.98 L256.46,820.45 L256.25,821.92 L256.04,823.39 L255.83,824.86 L255.62,826.33 L255.40,827.80 L251.20,827.80 L250.98,826.33 L250.77,824.86 L250.56,823.39 L250.35,821.92 L250.14,820.45 L249.93,818.98 L249.72,817.51 L249.51,816.04 L249.29,814.57 L249.07,813.10 L248.85,811.63 L248.62,810.16 L248.38,808.69 L248.14,807.22 L247.88,805.75 L247.60,804.28 L247.30,802.81 L246.97,801.34 L246.63,799.87 L246.30,798.40 L245.96,796.93 L245.63,795.46 L245.33,793.99 L245.04,792.52 L244.79,791.05 L244.58,789.58 L244.41,788.11 L244.24,786.64 L244.07,785.17 L243.91,783.70 L243.76,782.23 L243.61,780.76 L243.48,779.29 L243.36,777.82 L243.26,776.35 L243.18,774.88 L243.13,773.41 L243.10,771.94 L243.10,770.47 L243.10,769.00 L243.10,767.53 L243.10,766.06 L243.10,764.59 L243.10,763.12 L243.10,761.65 L243.10,760.18 L243.10,758.71 L243.10,757.24 L243.10,755.77 L243.12,754.30 L243.18,752.83 L243.28,751.36 L243.42,749.89 L243.59,748.42 L243.79,746.95 L244.02,745.48 L244.27,744.01 L244.53,742.54 L244.81,741.07 L245.09,739.60 L245.37,738.13 L245.73,736.66 L246.21,735.19 L246.80,733.72 L247.45,732.25 L248.15,730.78 L248.84,729.31 L249.51,727.84 L250.11,726.37 L250.62,724.90 L251.00,723.43 L251.21,721.96 L251.34,720.49 L251.45,719.02 L251.54,717.55 L251.61,716.08 L251.68,714.61 L251.75,713.14 L251.82,711.67 L251.90,710.20 Z" fill="#1f78b4" stroke="#2e2e2e" stroke-width="1.1" stroke-linejoin="round"/>
<g fill="#000"><rect x="249.45" y="736.28" width="1.3" height="1.3"/><rect x="245.54" y="751.34" width="1.3" height="1.3"/><rect x="252.84" y="795.50" width="1.3" height="1.3"/><rect x="253.20" y="739.02" width="1.3" height="1.3"/><rect x="251.09" y="760.91" width="1.3" height="1.3"/><rect x="247.33" y="771.80" width="1.3" height="1.3"/><rect x="253.18" y="783.79" width="1.3" height="1.3"/><rect x="256.98" y="810.31" width="1.3" height="1.3"/><rect x="260.26" y="746.70" width="1.3" height="1.3"/><rect x="247.96" y="813.92" width="1.3" height="1.3"/><rect x="245.40" y="795.00" width="1.3" height="1.3"/><rect x="257.87" y="807.41" width="1.3" height="1.3"/><rect x="247.27" y="790.13" width="1.3" height="1.3"/><rect x="252.75" y="823.43" width="1.3" height="1.3"/><rect x="255.99" y="798.71" width="1.3" height="1.3"/><rect x="245.56" y="731.78" width="1.3" height="1.3"/><rect x="246.29" y="770.09" width="1.3" height="1.3"/><rect x="258.77" y="731.25" width="1.3" height="1.3"/><rect x="260.78" y="720.75" width="1.3" height="1.3"/><rect x="249.53" y="763.89" width="1.3" height="1.3"/><rect x="251.39" y="764.46" width="1.3" height="1.3"/><rect x="256.27" y="780.22" width="1.3" height="1.3"/><rect x="251.82" y="808.84" width="1.3" height="1.3"/><rect x="247.16" y="796.50" width="1.3" height="1.3"/><rect x="252.73" y="757.12" width="1.3" height="1.3"/><rect x="259.79" y="805.35" width="1.3" height="1.3"/><rect x="244.92" y="757.27" width="1.3" height="1.3"/><rect x="243.84" y="749.74" width="1.3" height="1.3"/><rect x="254.88" y="751.37" width="1.3" height="1.3"/><rect x="255.53" y="787.88" width="1.3" height="1.3"/><rect x="250.66" y="776.53" width="1.3" height="1.3"/><rect x="261.29" y="792.02" width="1.3" height="1.3"/><rect x="250.88" y="796.43" width="1.3" height="1.3"/><rect x="248.17" y="753.73" width="1.3" height="1.3"/><rect x="253.87" y="769.27" width="1.3" height="1.3"/><rect x="254.41" y="804.75" width="1.3" height="1.3"/><rect x="260.39" y="798.84" width="1.3" height="1.3"/><rect x="260.66" y="781.42" width="1.3" height="1.3"/><rect x="254.41" y="759.02" width="1.3" height="1.3"/><rect x="255.44" y="752.54" width="1.3" height="1.3"/><rect x="256.55" y="775.48" width="1.3" height="1.3"/><rect x="248.06" y="744.36" width="1.3" height="1.3"/><rect x="257.23" y="714.58" width="1.3" height="1.3"/><rect x="257.12" y="755.41" width="1.3" height="1.3"/><rect x="259.95" y="820.62" width="1.3" height="1.3"/><rect x="261.17" y="760.06" width="1.3" height="1.3"/><rect x="260.52" y="738.21" width="1.3" height="1.3"/><rect x="261.27" y="794.54" width="1.3" height="1.3"/><rect x="244.59" y="763.14" width="1.3" height="1.3"/><rect x="251.62" y="771.65" width="1.3" height="1.3"/><rect x="248.37" y="788.09" width="1.3" height="1.3"/><rect x="257.65" y="778.02" width="1.3" height="1.3"/><rect x="260.80" y="771.97" width="1.3" height="1.3"/><rect x="245.70" y="795.90" width="1.3" height="1.3"/><rect x="248.54" y="783.05" width="1.3" height="1.3"/><rect x="254.30" y="790.11" width="1.3" height="1.3"/><rect x="247.07" y="784.00" width="1.3" height="1.3"/><rect x="248.53" y="714.20" width="1.3" height="1.3"/><rect x="245.49" y="759.55" width="1.3" height="1.3"/><rect x="245.21" y="773.25" width="1.3" height="1.3"/><rect x="255.01" y="789.08" width="1.3" height="1.3"/><rect x="247.44" y="753.44" width="1.3" height="1.3"/><rect x="258.74" y="749.97" width="1.3" height="1.3"/><rect x="258.22" y="718.29" width="1.3" height="1.3"/><rect x="247.49" y="782.90" width="1.3" height="1.3"/><rect x="258.23" y="759.45" width="1.3" height="1.3"/><rect x="261.46" y="752.94" width="1.3" height="1.3"/><rect x="257.08" y="747.82" width="1.3" height="1.3"/><rect x="259.40" y="752.98" width="1.3" height="1.3"/><rect x="253.81" y="718.78" width="1.3" height="1.3"/><rect x="249.03" y="766.57" width="1.3" height="1.3"/><rect x="247.49" y="800.75" width="1.3" height="1.3"/><rect x="249.12" y="787.41" width="1.3" height="1.3"/><rect x="248.74" y="794.81" width="1.3" height="1.3"/><rect x="245.76" y="794.92" width="1.3" height="1.3"/><rect x="260.18" y="792.96" width="1.3" height="1.3"/><rect x="249.14" y="761.06" width="1.3" height="1.3"/><rect x="260.47" y="746.90" width="1.3" height="1.3"/><rect x="250.16" y="814.77" width="1.3" height="1.3"/><rect x="250.77" y="752.54" width="1.3" height="1.3"/><rect x="253.80" y="755.13" width="1.3" height="1.3"/><rect x="258.70" y="803.29" width="1.3" height="1.3"/><rect x="257.31" y="775.73" width="1.3" height="1.3"/><rect x="244.05" y="813.14" width="1.3" height="1.3"/><rect x="253.86" y="770.19" width="1.3" height="1.3"/><rect x="253.49" y="804.14" width="1.3" height="1.3"/><rect x="245.12" y="802.23" width="1.3" height="1.3"/><rect x="247.62" y="785.87" width="1.3" height="1.3"/><rect x="257.41" y="799.56" width="1.3" height="1.3"/><rect x="261.08" y="755.93" width="1.3" height="1.3"/><rect x="253.32" y="788.62" width="1.3" height="1.3"/><rect x="260.12" y="794.33" width="1.3" height="1.3"/><rect x="255.65" y="757.84" width="1.3" height="1.3"/><rect x="258.09" y="771.16" width="1.3" height="1.3"/><rect x="246.28" y="759.13" width="1.3" height="1.3"/><rect x="247.33" y="753.71" width="1.3" height="1.3"/><rect x="261.11" y="759.52" width="1.3" height="1.3"/><rect x="244.77" y="800.80" width="1.3" height="1.3"/><rect x="260.02" y="763.50" width="1.3" height="1.3"/><rect x="246.97" y="713.83" width="1.3" height="1.3"/></g>
<path d="M278.50,707.20 L278.65,708.71 L278.80,710.22 L278.95,711.72 L279.09,713.23 L279.24,714.74 L279.39,716.25 L279.56,717.75 L279.75,719.26 L279.95,720.77 L280.20,722.28 L280.48,723.78 L280.80,725.29 L281.14,726.80 L281.50,728.31 L281.86,729.81 L282.23,731.32 L282.60,732.83 L282.95,734.34 L283.28,735.84 L283.58,737.35 L283.86,738.86 L284.15,740.37 L284.45,741.87 L284.76,743.38 L285.07,744.89 L285.37,746.39 L285.66,747.90 L285.93,749.41 L286.19,750.92 L286.41,752.42 L286.60,753.93 L286.75,755.44 L286.85,756.95 L286.90,758.46 L286.90,759.96 L286.90,761.47 L286.90,762.98 L286.90,764.49 L286.90,765.99 L286.90,767.50 L286.90,769.01 L286.90,770.51 L286.90,772.02 L286.90,773.53 L286.90,775.04 L286.90,776.54 L286.90,778.05 L286.88,779.56 L286.86,781.07 L286.83,782.58 L286.80,784.08 L286.76,785.59 L286.71,787.10 L286.65,788.61 L286.59,790.11 L286.52,791.62 L286.45,793.13 L286.37,794.63 L286.20,796.14 L285.96,797.65 L285.64,799.16 L285.27,800.66 L284.87,802.17 L284.44,803.68 L284.01,805.19 L283.59,806.69 L283.19,808.20 L282.84,809.71 L282.53,811.22 L282.22,812.72 L281.91,814.23 L281.62,815.74 L281.32,817.25 L281.03,818.75 L280.75,820.26 L280.46,821.77 L280.17,823.28 L279.88,824.78 L279.59,826.29 L279.30,827.80 L274.10,827.80 L273.81,826.29 L273.52,824.78 L273.23,823.28 L272.94,821.77 L272.65,820.26 L272.37,818.75 L272.08,817.25 L271.78,815.74 L271.49,814.23 L271.18,812.72 L270.87,811.22 L270.56,809.71 L270.21,808.20 L269.81,806.69 L269.39,805.19 L268.96,803.68 L268.53,802.17 L268.13,800.66 L267.76,799.16 L267.44,797.65 L267.20,796.14 L267.03,794.63 L266.95,793.13 L266.88,791.62 L266.81,790.11 L266.75,788.61 L266.69,787.10 L266.64,785.59 L266.60,784.08 L266.57,782.58 L266.54,781.07 L266.52,779.56 L266.50,778.05 L266.50,776.54 L266.50,775.04 L266.50,773.53 L266.50,772.02 L266.50,770.51 L266.50,769.01 L266.50,767.50 L266.50,765.99 L266.50,764.49 L266.50,762.98 L266.50,761.47 L266.50,759.96 L266.50,758.46 L266.55,756.95 L266.65,755.44 L266.80,753.93 L266.99,752.42 L267.21,750.92 L267.47,749.41 L267.74,747.90 L268.03,746.39 L268.33,744.89 L268.64,743.38 L268.95,741.87 L269.25,740.37 L269.54,738.86 L269.82,737.35 L270.12,735.84 L270.45,734.34 L270.80,732.83 L271.17,731.32 L271.54,729.81 L271.90,728.31 L272.26,726.80 L272.60,725.29 L272.92,723.78 L273.20,722.28 L273.45,720.77 L273.65,719.26 L273.84,717.75 L274.01,716.25 L274.16,714.74 L274.31,713.23 L274.45,711.72 L274.60,710.22 L274.75,708.71 L274.90,707.20 Z" fill="#b2df8a" stroke="#2e2e2e" stroke-width="1.1" stroke-linejoin="round"/>
<g fill="#000"><rect x="279.96" y="732.76" width="1.3" height="1.3"/><rect x="270.38" y="778.28" width="1.3" height="1.3"/><rect x="280.69" y="740.45" width="1.3" height="1.3"/><rect x="281.76" y="744.14" width="1.3" height="1.3"/><rect x="283.02" y="764.38" width="1.3" height="1.3"/><rect x="276.90" y="816.81" width="1.3" height="1.3"/><rect x="284.11" y="733.20" width="1.3" height="1.3"/><rect x="276.55" y="803.20" width="1.3" height="1.3"/><rect x="284.87" y="768.76" width="1.3" height="1.3"/><rect x="267.25" y="785.85" width="1.3" height="1.3"/><rect x="281.39" y="763.55" width="1.3" height="1.3"/><rect x="269.88" y="792.57" width="1.3" height="1.3"/><rect x="271.72" y="725.47" width="1.3" height="1.3"/><rect x="278.52" y="811.38" width="1.3" height="1.3"/><rect x="276.67" y="826.32" width="1.3" height="1.3"/><rect x="279.95" y="716.49" width="1.3" height="1.3"/><rect x="277.61" y="763.07" width="1.3" height="1.3"/><rect x="281.26" y="809.95" width="1.3" height="1.3"/><rect x="268.69" y="756.84" width="1.3" height="1.3"/><rect x="276.83" y="806.20" width="1.3" height="1.3"/><rect x="282.03" y="769.95" width="1.3" height="1.3"/><rect x="268.42" y="744.11" width="1.3" height="1.3"/><rect x="279.92" y="743.42" width="1.3" height="1.3"/><rect x="268.95" y="749.93" width="1.3" height="1.3"/><rect x="284.45" y="754.09" width="1.3" height="1.3"/><rect x="267.27" y="806.62" width="1.3" height="1.3"/><rect x="271.32" y="752.03" width="1.3" height="1.3"/><rect x="267.24" y="774.58" width="1.3" height="1.3"/><rect x="276.77" y="741.57" width="1.3" height="1.3"/><rect x="274.11" y="742.51" width="1.3" height="1.3"/><rect x="270.65" y="786.95" width="1.3" height="1.3"/><rect x="284.06" y="794.76" width="1.3" height="1.3"/><rect x="273.02" y="774.42" width="1.3" height="1.3"/><rect x="269.58" y="806.27" width="1.3" height="1.3"/><rect x="274.29" y="791.97" width="1.3" height="1.3"/><rect x="268.67" y="807.48" width="1.3" height="1.3"/><rect x="269.28" y="733.88" width="1.3" height="1.3"/><rect x="283.62" y="755.62" width="1.3" height="1.3"/><rect x="278.70" y="758.05" width="1.3" height="1.3"/><rect x="274.00" y="799.03" width="1.3" height="1.3"/><rect x="267.33" y="746.52" width="1.3" height="1.3"/><rect x="284.73" y="754.88" width="1.3" height="1.3"/><rect x="278.00" y="801.78" width="1.3" height="1.3"/><rect x="268.96" y="747.82" width="1.3" height="1.3"/><rect x="281.24" y="752.09" width="1.3" height="1.3"/><rect x="269.90" y="806.07" width="1.3" height="1.3"/><rect x="276.06" y="772.67" width="1.3" height="1.3"/><rect x="270.60" y="792.83" width="1.3" height="1.3"/><rect x="271.45" y="730.42" width="1.3" height="1.3"/><rect x="272.98" y="776.07" width="1.3" height="1.3"/><rect x="275.38" y="818.59" width="1.3" height="1.3"/><rect x="277.14" y="772.09" width="1.3" height="1.3"/><rect x="281.89" y="779.09" width="1.3" height="1.3"/><rect x="282.00" y="735.60" width="1.3" height="1.3"/><rect x="270.29" y="715.75" width="1.3" height="1.3"/><rect x="279.13" y="785.95" width="1.3" height="1.3"/><rect x="277.70" y="795.51" width="1.3" height="1.3"/><rect x="270.64" y="803.49" width="1.3" height="1.3"/><rect x="274.00" y="762.99" width="1.3" height="1.3"/><rect x="276.41" y="775.23" width="1.3" height="1.3"/><rect x="273.03" y="738.35" width="1.3" height="1.3"/><rect x="279.13" y="783.94" width="1.3" height="1.3"/><rect x="274.46" y="778.92" width="1.3" height="1.3"/><rect x="280.69" y="781.78" width="1.3" height="1.3"/><rect x="284.95" y="797.21" width="1.3" height="1.3"/><rect x="277.24" y="755.88" width="1.3" height="1.3"/><rect x="283.33" y="769.87" width="1.3" height="1.3"/><rect x="280.11" y="745.23" width="1.3" height="1.3"/><rect x="272.54" y="778.61" width="1.3" height="1.3"/><rect x="269.29" y="778.12" width="1.3" height="1.3"/><rect x="274.19" y="760.45" width="1.3" height="1.3"/><rect x="272.56" y="770.01" width="1.3" height="1.3"/><rect x="268.28" y="754.25" width="1.3" height="1.3"/><rect x="274.64" y="786.83" width="1.3" height="1.3"/><rect x="280.49" y="803.66" width="1.3" height="1.3"/><rect x="268.82" y="774.91" width="1.3" height="1.3"/><rect x="276.73" y="802.11" width="1.3" height="1.3"/><rect x="271.44" y="821.24" width="1.3" height="1.3"/><rect x="268.18" y="742.64" width="1.3" height="1.3"/><rect x="277.59" y="754.46" width="1.3" height="1.3"/><rect x="283.22" y="712.08" width="1.3" height="1.3"/><rect x="283.86" y="743.68" width="1.3" height="1.3"/><rect x="283.66" y="731.45" width="1.3" height="1.3"/><rect x="282.13" y="814.70" width="1.3" height="1.3"/><rect x="270.14" y="749.26" width="1.3" height="1.3"/><rect x="280.11" y="712.58" width="1.3" height="1.3"/><rect x="272.58" y="716.08" width="1.3" height="1.3"/><rect x="270.31" y="792.24" width="1.3" height="1.3"/><rect x="278.97" y="801.88" width="1.3" height="1.3"/><rect x="283.73" y="734.17" width="1.3" height="1.3"/><rect x="278.57" y="786.99" width="1.3" height="1.3"/><rect x="276.60" y="759.66" width="1.3" height="1.3"/><rect x="281.51" y="740.87" width="1.3" height="1.3"/><rect x="272.07" y="797.69" width="1.3" height="1.3"/><rect x="283.20" y="772.65" width="1.3" height="1.3"/><rect x="275.36" y="825.67" width="1.3" height="1.3"/><rect x="283.78" y="797.07" width="1.3" height="1.3"/><rect x="277.06" y="766.84" width="1.3" height="1.3"/><rect x="278.90" y="784.33" width="1.3" height="1.3"/><rect x="276.15" y="800.98" width="1.3" height="1.3"/><rect x="270.18" y="769.32" width="1.3" height="1.3"/><rect x="278.00" y="800.58" width="1.3" height="1.3"/><rect x="280.96" y="734.93" width="1.3" height="1.3"/><rect x="271.30" y="801.41" width="1.3" height="1.3"/><rect x="277.49" y="765.54" width="1.3" height="1.3"/><rect x="277.79" y="766.72" width="1.3" height="1.3"/><rect x="282.76" y="792.75" width="1.3" height="1.3"/><rect x="267.37" y="728.26" width="1.3" height="1.3"/><rect x="275.00" y="766.38" width="1.3" height="1.3"/><rect x="281.30" y="775.16" width="1.3" height="1.3"/><rect x="272.65" y="735.25" width="1.3" height="1.3"/><rect x="271.82" y="781.47" width="1.3" height="1.3"/><rect x="281.82" y="777.55" width="1.3" height="1.3"/><rect x="269.93" y="727.24" width="1.3" height="1.3"/><rect x="281.21" y="789.84" width="1.3" height="1.3"/><rect x="284.52" y="750.50" width="1.3" height="1.3"/><rect x="271.38" y="796.39" width="1.3" height="1.3"/><rect x="274.12" y="813.89" width="1.3" height="1.3"/><rect x="268.43" y="742.50" width="1.3" height="1.3"/><rect x="271.19" y="798.60" width="1.3" height="1.3"/></g>
<path d="M302.10,724.20 L302.54,725.50 L303.01,726.79 L303.49,728.09 L303.97,729.38 L304.45,730.68 L304.91,731.97 L305.36,733.26 L305.78,734.56 L306.16,735.86 L306.50,737.15 L306.80,738.45 L307.07,739.74 L307.35,741.04 L307.61,742.33 L307.87,743.62 L308.12,744.92 L308.36,746.22 L308.58,747.51 L308.79,748.81 L308.99,750.10 L309.16,751.39 L309.32,752.69 L309.46,753.99 L309.57,755.28 L309.66,756.58 L309.73,757.87 L309.79,759.16 L309.84,760.46 L309.90,761.75 L309.95,763.05 L310.00,764.35 L310.04,765.64 L310.08,766.94 L310.12,768.23 L310.14,769.52 L310.17,770.82 L310.18,772.12 L310.20,773.41 L310.20,774.71 L310.17,776.00 L310.08,777.29 L309.92,778.59 L309.72,779.88 L309.48,781.18 L309.21,782.48 L308.92,783.77 L308.61,785.06 L308.30,786.36 L307.99,787.65 L307.69,788.95 L307.40,790.25 L307.15,791.54 L306.93,792.84 L306.72,794.13 L306.52,795.42 L306.33,796.72 L306.14,798.01 L305.95,799.31 L305.76,800.61 L305.57,801.90 L305.38,803.19 L305.19,804.49 L305.00,805.78 L304.79,807.08 L304.59,808.38 L304.38,809.67 L304.17,810.96 L303.96,812.26 L303.75,813.55 L303.54,814.85 L303.33,816.14 L303.11,817.44 L302.90,818.74 L302.68,820.03 L302.47,821.32 L302.25,822.62 L302.04,823.91 L301.83,825.21 L301.61,826.50 L301.40,827.80 L298.60,827.80 L298.39,826.50 L298.17,825.21 L297.96,823.91 L297.75,822.62 L297.53,821.32 L297.32,820.03 L297.10,818.74 L296.89,817.44 L296.67,816.14 L296.46,814.85 L296.25,813.55 L296.04,812.26 L295.83,810.96 L295.62,809.67 L295.41,808.38 L295.21,807.08 L295.00,805.78 L294.81,804.49 L294.62,803.19 L294.43,801.90 L294.24,800.61 L294.05,799.31 L293.86,798.01 L293.67,796.72 L293.48,795.42 L293.28,794.13 L293.07,792.84 L292.85,791.54 L292.60,790.25 L292.31,788.95 L292.01,787.65 L291.70,786.36 L291.39,785.06 L291.08,783.77 L290.79,782.48 L290.52,781.18 L290.28,779.88 L290.08,778.59 L289.92,777.29 L289.83,776.00 L289.80,774.71 L289.80,773.41 L289.82,772.12 L289.83,770.82 L289.86,769.52 L289.88,768.23 L289.92,766.94 L289.96,765.64 L290.00,764.35 L290.05,763.05 L290.10,761.75 L290.16,760.46 L290.21,759.16 L290.27,757.87 L290.34,756.58 L290.43,755.28 L290.54,753.99 L290.68,752.69 L290.84,751.39 L291.01,750.10 L291.21,748.81 L291.42,747.51 L291.64,746.22 L291.88,744.92 L292.13,743.62 L292.39,742.33 L292.65,741.04 L292.93,739.74 L293.20,738.45 L293.50,737.15 L293.84,735.86 L294.22,734.56 L294.64,733.26 L295.09,731.97 L295.55,730.68 L296.03,729.38 L296.51,728.09 L296.99,726.79 L297.46,725.50 L297.90,724.20 Z" fill="#33a02c" stroke="#2e2e2e" stroke-width="1.1" stroke-linejoin="round"/>
<g fill="#000"><rect x="294.70" y="749.78" width="1.3" height="1.3"/><rect x="296.90" y="771.37" width="1.3" height="1.3"/><rect x="297.60" y="786.84" width="1.3" height="1.3"/><rect x="296.53" y="790.87" width="1.3" height="1.3"/><rect x="305.52" y="771.47" width="1.3" height="1.3"/><rect x="294.23" y="763.04" width="1.3" height="1.3"/><rect x="300.24" y="759.54" width="1.3" height="1.3"/><rect x="294.21" y="740.53" width="1.3" height="1.3"/><rect x="298.40" y="772.00" width="1.3" height="1.3"/><rect x="297.24" y="812.93" width="1.3" height="1.3"/><rect x="290.68" y="761.14" width="1.3" height="1.3"/><rect x="297.42" y="742.41" width="1.3" height="1.3"/><rect x="293.11" y="751.38" width="1.3" height="1.3"/><rect x="296.15" y="817.52" width="1.3" height="1.3"/><rect x="306.23" y="763.37" width="1.3" height="1.3"/><rect x="299.70" y="757.25" width="1.3" height="1.3"/><rect x="294.64" y="729.24" width="1.3" height="1.3"/><rect x="301.07" y="727.78" width="1.3" height="1.3"/><rect x="297.98" y="726.84" width="1.3" height="1.3"/><rect x="303.07" y="779.91" width="1.3" height="1.3"/><rect x="302.34" y="750.53" width="1.3" height="1.3"/><rect x="295.40" y="738.80" width="1.3" height="1.3"/><rect x="297.31" y="797.39" width="1.3" height="1.3"/><rect x="295.61" y="813.26" width="1.3" height="1.3"/><rect x="291.08" y="759.29" width="1.3" height="1.3"/><rect x="307.91" y="782.18" width="1.3" height="1.3"/><rect x="306.89" y="754.43" width="1.3" height="1.3"/><rect x="302.35" y="745.95" width="1.3" height="1.3"/><rect x="291.97" y="747.85" width="1.3" height="1.3"/><rect x="291.43" y="767.86" width="1.3" height="1.3"/><rect x="299.30" y="763.27" width="1.3" height="1.3"/><rect x="297.59" y="752.54" width="1.3" height="1.3"/><rect x="302.32" y="772.78" width="1.3" height="1.3"/><rect x="296.50" y="748.39" width="1.3" height="1.3"/><rect x="300.84" y="767.30" width="1.3" height="1.3"/><rect x="302.95" y="796.21" width="1.3" height="1.3"/><rect x="297.63" y="761.29" width="1.3" height="1.3"/><rect x="296.21" y="784.25" width="1.3" height="1.3"/><rect x="296.60" y="749.80" width="1.3" height="1.3"/><rect x="293.70" y="750.68" width="1.3" height="1.3"/><rect x="307.53" y="772.16" width="1.3" height="1.3"/><rect x="307.31" y="761.12" width="1.3" height="1.3"/><rect x="297.83" y="787.87" width="1.3" height="1.3"/><rect x="306.19" y="752.16" width="1.3" height="1.3"/><rect x="291.04" y="763.11" width="1.3" height="1.3"/><rect x="295.90" y="737.62" width="1.3" height="1.3"/><rect x="294.46" y="739.08" width="1.3" height="1.3"/><rect x="290.37" y="794.02" width="1.3" height="1.3"/><rect x="294.66" y="779.89" width="1.3" height="1.3"/><rect x="300.22" y="774.69" width="1.3" height="1.3"/><rect x="305.31" y="788.24" width="1.3" height="1.3"/><rect x="295.99" y="759.47" width="1.3" height="1.3"/><rect x="301.54" y="808.96" width="1.3" height="1.3"/><rect x="297.00" y="774.38" width="1.3" height="1.3"/><rect x="299.96" y="753.15" width="1.3" height="1.3"/><rect x="296.20" y="748.11" width="1.3" height="1.3"/><rect x="292.62" y="741.97" width="1.3" height="1.3"/><rect x="292.19" y="730.10" width="1.3" height="1.3"/><rect x="298.48" y="796.56" width="1.3" height="1.3"/><rect x="293.28" y="803.54" width="1.3" height="1.3"/><rect x="299.48" y="729.09" width="1.3" height="1.3"/><rect x="303.24" y="806.06" width="1.3" height="1.3"/><rect x="296.23" y="749.64" width="1.3" height="1.3"/><rect x="305.52" y="758.14" width="1.3" height="1.3"/><rect x="301.56" y="767.12" width="1.3" height="1.3"/><rect x="302.40" y="736.52" width="1.3" height="1.3"/><rect x="290.60" y="747.49" width="1.3" height="1.3"/><rect x="302.73" y="824.09" width="1.3" height="1.3"/><rect x="297.49" y="766.99" width="1.3" height="1.3"/><rect x="295.50" y="735.82" width="1.3" height="1.3"/><rect x="290.83" y="736.00" width="1.3" height="1.3"/><rect x="297.07" y="779.76" width="1.3" height="1.3"/><rect x="305.45" y="755.58" width="1.3" height="1.3"/><rect x="301.47" y="752.94" width="1.3" height="1.3"/><rect x="300.18" y="763.89" width="1.3" height="1.3"/><rect x="293.50" y="806.45" width="1.3" height="1.3"/><rect x="292.52" y="749.59" width="1.3" height="1.3"/><rect x="300.54" y="757.08" width="1.3" height="1.3"/><rect x="295.28" y="738.43" width="1.3" height="1.3"/><rect x="296.94" y="747.13" width="1.3" height="1.3"/><rect x="291.51" y="750.44" width="1.3" height="1.3"/><rect x="291.76" y="816.03" width="1.3" height="1.3"/><rect x="308.30" y="742.46" width="1.3" height="1.3"/><rect x="304.88" y="773.72" width="1.3" height="1.3"/><rect x="300.26" y="764.57" width="1.3" height="1.3"/><rect x="295.34" y="791.60" width="1.3" height="1.3"/><rect x="293.39" y="741.77" width="1.3" height="1.3"/><rect x="296.81" y="735.86" width="1.3" height="1.3"/><rect x="299.61" y="801.62" width="1.3" height="1.3"/><rect x="307.62" y="724.63" width="1.3" height="1.3"/><rect x="304.81" y="799.74" width="1.3" height="1.3"/><rect x="307.46" y="825.69" width="1.3" height="1.3"/><rect x="294.86" y="765.22" width="1.3" height="1.3"/><rect x="300.73" y="817.79" width="1.3" height="1.3"/><rect x="297.00" y="747.09" width="1.3" height="1.3"/><rect x="296.72" y="761.33" width="1.3" height="1.3"/><rect x="296.14" y="752.48" width="1.3" height="1.3"/><rect x="303.70" y="733.30" width="1.3" height="1.3"/><rect x="300.18" y="745.44" width="1.3" height="1.3"/><rect x="292.25" y="794.02" width="1.3" height="1.3"/><rect x="298.10" y="738.36" width="1.3" height="1.3"/><rect x="300.02" y="765.34" width="1.3" height="1.3"/><rect x="306.20" y="822.21" width="1.3" height="1.3"/><rect x="292.30" y="756.79" width="1.3" height="1.3"/><rect x="293.55" y="765.84" width="1.3" height="1.3"/><rect x="307.41" y="751.87" width="1.3" height="1.3"/><rect x="296.78" y="756.93" width="1.3" height="1.3"/><rect x="301.78" y="826.06" width="1.3" height="1.3"/><rect x="294.17" y="762.72" width="1.3" height="1.3"/><rect x="292.40" y="775.85" width="1.3" height="1.3"/><rect x="297.90" y="770.50" width="1.3" height="1.3"/><rect x="301.16" y="763.40" width="1.3" height="1.3"/><rect x="290.93" y="782.89" width="1.3" height="1.3"/><rect x="301.03" y="788.54" width="1.3" height="1.3"/><rect x="308.22" y="739.29" width="1.3" height="1.3"/><rect x="303.61" y="800.01" width="1.3" height="1.3"/><rect x="308.17" y="813.42" width="1.3" height="1.3"/><rect x="305.47" y="774.43" width="1.3" height="1.3"/><rect x="304.88" y="797.28" width="1.3" height="1.3"/><rect x="305.93" y="770.59" width="1.3" height="1.3"/><rect x="301.94" y="743.85" width="1.3" height="1.3"/><rect x="305.74" y="748.60" width="1.3" height="1.3"/><rect x="292.16" y="739.27" width="1.3" height="1.3"/><rect x="297.35" y="735.71" width="1.3" height="1.3"/><rect x="308.13" y="816.98" width="1.3" height="1.3"/><rect x="306.13" y="744.97" width="1.3" height="1.3"/><rect x="302.38" y="798.94" width="1.3" height="1.3"/><rect x="296.46" y="768.18" width="1.3" height="1.3"/><rect x="295.36" y="756.22" width="1.3" height="1.3"/><rect x="293.60" y="786.03" width="1.3" height="1.3"/><rect x="292.44" y="771.88" width="1.3" height="1.3"/><rect x="308.26" y="760.59" width="1.3" height="1.3"/><rect x="297.70" y="760.88" width="1.3" height="1.3"/><rect x="297.99" y="738.70" width="1.3" height="1.3"/><rect x="298.57" y="808.52" width="1.3" height="1.3"/><rect x="296.58" y="776.02" width="1.3" height="1.3"/><rect x="300.78" y="796.45" width="1.3" height="1.3"/><rect x="295.51" y="753.06" width="1.3" height="1.3"/><rect x="297.33" y="770.68" width="1.3" height="1.3"/><rect x="297.89" y="770.01" width="1.3" height="1.3"/><rect x="307.53" y="752.69" width="1.3" height="1.3"/><rect x="302.45" y="753.90" width="1.3" height="1.3"/><rect x="292.73" y="748.90" width="1.3" height="1.3"/><rect x="297.92" y="816.31" width="1.3" height="1.3"/><rect x="305.65" y="758.94" width="1.3" height="1.3"/><rect x="292.14" y="784.75" width="1.3" height="1.3"/><rect x="296.89" y="816.43" width="1.3" height="1.3"/><rect x="302.40" y="762.35" width="1.3" height="1.3"/><rect x="307.44" y="759.18" width="1.3" height="1.3"/><rect x="298.72" y="772.16" width="1.3" height="1.3"/><rect x="301.25" y="756.29" width="1.3" height="1.3"/><rect x="294.28" y="765.12" width="1.3" height="1.3"/><rect x="297.45" y="761.87" width="1.3" height="1.3"/><rect x="293.35" y="800.40" width="1.3" height="1.3"/><rect x="303.71" y="790.78" width="1.3" height="1.3"/><rect x="303.51" y="749.80" width="1.3" height="1.3"/><rect x="298.79" y="803.94" width="1.3" height="1.3"/><rect x="292.35" y="779.07" width="1.3" height="1.3"/><rect x="299.48" y="805.31" width="1.3" height="1.3"/><rect x="292.68" y="736.46" width="1.3" height="1.3"/><rect x="295.64" y="732.70" width="1.3" height="1.3"/><rect x="297.80" y="804.10" width="1.3" height="1.3"/><rect x="298.48" y="729.18" width="1.3" height="1.3"/><rect x="305.66" y="781.37" width="1.3" height="1.3"/><rect x="301.37" y="777.94" width="1.3" height="1.3"/></g>
<path d="M324.50,684.60 L324.81,686.39 L325.11,688.18 L325.41,689.97 L325.71,691.76 L326.02,693.55 L326.35,695.34 L326.69,697.13 L327.05,698.92 L327.44,700.71 L327.84,702.50 L328.26,704.29 L328.67,706.08 L329.09,707.87 L329.50,709.66 L329.88,711.45 L330.27,713.24 L330.70,715.03 L331.16,716.82 L331.61,718.61 L332.05,720.40 L332.45,722.19 L332.79,723.98 L333.04,725.77 L333.18,727.56 L333.20,729.35 L333.17,731.14 L333.11,732.93 L333.04,734.72 L332.94,736.51 L332.83,738.30 L332.70,740.09 L332.57,741.88 L332.36,743.67 L332.07,745.46 L331.70,747.25 L331.28,749.04 L330.82,750.83 L330.34,752.62 L329.86,754.41 L329.39,756.20 L328.95,757.99 L328.51,759.78 L328.04,761.57 L327.54,763.36 L327.05,765.15 L326.60,766.94 L326.20,768.73 L325.88,770.52 L325.65,772.31 L325.43,774.10 L325.22,775.89 L325.04,777.68 L324.87,779.47 L324.73,781.26 L324.62,783.05 L324.54,784.84 L324.48,786.63 L324.43,788.42 L324.39,790.21 L324.35,792.00 L324.32,793.79 L324.28,795.58 L324.25,797.37 L324.23,799.16 L324.20,800.95 L324.18,802.74 L324.16,804.53 L324.14,806.32 L324.12,808.11 L324.10,809.90 L324.08,811.69 L324.06,813.48 L324.04,815.27 L324.03,817.06 L324.01,818.85 L323.99,820.64 L323.97,822.43 L323.95,824.22 L323.92,826.01 L323.90,827.80 L322.10,827.80 L322.08,826.01 L322.05,824.22 L322.03,822.43 L322.01,820.64 L321.99,818.85 L321.97,817.06 L321.96,815.27 L321.94,813.48 L321.92,811.69 L321.90,809.90 L321.88,808.11 L321.86,806.32 L321.84,804.53 L321.82,802.74 L321.80,800.95 L321.77,799.16 L321.75,797.37 L321.72,795.58 L321.68,793.79 L321.65,792.00 L321.61,790.21 L321.57,788.42 L321.52,786.63 L321.46,784.84 L321.38,783.05 L321.27,781.26 L321.13,779.47 L320.96,777.68 L320.78,775.89 L320.57,774.10 L320.35,772.31 L320.12,770.52 L319.80,768.73 L319.40,766.94 L318.95,765.15 L318.46,763.36 L317.96,761.57 L317.49,759.78 L317.05,757.99 L316.61,756.20 L316.14,754.41 L315.66,752.62 L315.18,750.83 L314.72,749.04 L314.30,747.25 L313.93,745.46 L313.64,743.67 L313.43,741.88 L313.30,740.09 L313.17,738.30 L313.06,736.51 L312.96,734.72 L312.89,732.93 L312.83,731.14 L312.80,729.35 L312.82,727.56 L312.96,725.77 L313.21,723.98 L313.55,722.19 L313.95,720.40 L314.39,718.61 L314.84,716.82 L315.30,715.03 L315.73,713.24 L316.12,711.45 L316.50,709.66 L316.91,707.87 L317.33,706.08 L317.74,704.29 L318.16,702.50 L318.56,700.71 L318.95,698.92 L319.31,697.13 L319.65,695.34 L319.98,693.55 L320.29,691.76 L320.59,689.97 L320.89,688.18 L321.19,686.39 L321.50,684.60 Z" fill="#fdbf6f" stroke="#2e2e2e" stroke-width="1.1" stroke-linejoin="round"/>
<g fill="#000"><rect x="316.12" y="743.15" width="1.3" height="1.3"/><rect x="315.33" y="760.00" width="1.3" height="1.3"/><rect x="324.92" y="727.02" width="1.3" height="1.3"/><rect x="320.84" y="805.34" width="1.3" height="1.3"/><rect x="315.36" y="695.17" width="1.3" height="1.3"/><rect x="329.31" y="753.97" width="1.3" height="1.3"/><rect x="326.66" y="740.43" width="1.3" height="1.3"/><rect x="321.08" y="720.94" width="1.3" height="1.3"/><rect x="321.10" y="752.24" width="1.3" height="1.3"/><rect x="328.39" y="748.51" width="1.3" height="1.3"/><rect x="317.36" y="762.36" width="1.3" height="1.3"/><rect x="319.01" y="698.15" width="1.3" height="1.3"/><rect x="326.84" y="753.26" width="1.3" height="1.3"/><rect x="320.67" y="753.75" width="1.3" height="1.3"/><rect x="324.03" y="822.32" width="1.3" height="1.3"/><rect x="323.96" y="727.08" width="1.3" height="1.3"/><rect x="322.64" y="729.08" width="1.3" height="1.3"/><rect x="315.02" y="791.89" width="1.3" height="1.3"/><rect x="327.67" y="720.03" width="1.3" height="1.3"/><rect x="320.59" y="744.88" width="1.3" height="1.3"/><rect x="314.89" y="724.87" width="1.3" height="1.3"/><rect x="328.10" y="730.95" width="1.3" height="1.3"/><rect x="330.17" y="775.41" width="1.3" height="1.3"/><rect x="331.06" y="743.86" width="1.3" height="1.3"/><rect x="327.42" y="815.23" width="1.3" height="1.3"/><rect x="320.15" y="747.03" width="1.3" height="1.3"/><rect x="315.47" y="748.06" width="1.3" height="1.3"/><rect x="314.64" y="729.76" width="1.3" height="1.3"/><rect x="318.93" y="700.17" width="1.3" height="1.3"/><rect x="328.46" y="743.35" width="1.3" height="1.3"/><rect x="321.12" y="751.60" width="1.3" height="1.3"/><rect x="330.06" y="738.01" width="1.3" height="1.3"/><rect x="315.24" y="739.51" width="1.3" height="1.3"/><rect x="319.58" y="767.84" width="1.3" height="1.3"/><rect x="324.00" y="707.41" width="1.3" height="1.3"/><rect x="323.69" y="758.41" width="1.3" height="1.3"/><rect x="323.70" y="721.36" width="1.3" height="1.3"/><rect x="328.20" y="720.76" width="1.3" height="1.3"/><rect x="321.14" y="738.02" width="1.3" height="1.3"/><rect x="317.51" y="749.22" width="1.3" height="1.3"/><rect x="318.87" y="791.80" width="1.3" height="1.3"/><rect x="325.92" y="805.30" width="1.3" height="1.3"/><rect x="330.46" y="731.64" width="1.3" height="1.3"/><rect x="322.98" y="715.24" width="1.3" height="1.3"/><rect x="327.12" y="771.28" width="1.3" height="1.3"/><rect x="326.28" y="736.08" width="1.3" height="1.3"/><rect x="326.43" y="725.60" width="1.3" height="1.3"/><rect x="313.72" y="721.86" width="1.3" height="1.3"/><rect x="318.62" y="760.88" width="1.3" height="1.3"/><rect x="322.08" y="720.16" width="1.3" height="1.3"/><rect x="318.35" y="722.99" width="1.3" height="1.3"/><rect x="330.21" y="721.16" width="1.3" height="1.3"/><rect x="317.55" y="735.89" width="1.3" height="1.3"/><rect x="326.48" y="748.80" width="1.3" height="1.3"/><rect x="317.53" y="765.00" width="1.3" height="1.3"/><rect x="314.46" y="728.24" width="1.3" height="1.3"/><rect x="313.88" y="779.37" width="1.3" height="1.3"/><rect x="319.73" y="710.38" width="1.3" height="1.3"/><rect x="326.04" y="755.41" width="1.3" height="1.3"/><rect x="314.77" y="743.70" width="1.3" height="1.3"/><rect x="330.86" y="753.68" width="1.3" height="1.3"/><rect x="318.75" y="764.35" width="1.3" height="1.3"/><rect x="330.25" y="732.01" width="1.3" height="1.3"/><rect x="322.16" y="817.84" width="1.3" height="1.3"/><rect x="322.70" y="817.59" width="1.3" height="1.3"/><rect x="315.36" y="821.35" width="1.3" height="1.3"/><rect x="328.29" y="687.40" width="1.3" height="1.3"/><rect x="314.57" y="799.63" width="1.3" height="1.3"/><rect x="313.62" y="732.00" width="1.3" height="1.3"/><rect x="321.54" y="731.98" width="1.3" height="1.3"/><rect x="317.91" y="709.11" width="1.3" height="1.3"/><rect x="325.13" y="731.62" width="1.3" height="1.3"/><rect x="317.94" y="721.22" width="1.3" height="1.3"/><rect x="319.28" y="717.20" width="1.3" height="1.3"/><rect x="320.81" y="718.95" width="1.3" height="1.3"/><rect x="331.18" y="735.00" width="1.3" height="1.3"/><rect x="327.56" y="739.39" width="1.3" height="1.3"/><rect x="326.70" y="725.06" width="1.3" height="1.3"/><rect x="329.81" y="738.42" width="1.3" height="1.3"/><rect x="329.16" y="704.49" width="1.3" height="1.3"/><rect x="315.90" y="732.91" width="1.3" height="1.3"/><rect x="325.56" y="711.54" width="1.3" height="1.3"/><rect x="318.26" y="737.27" width="1.3" height="1.3"/><rect x="316.68" y="818.40" width="1.3" height="1.3"/><rect x="318.88" y="733.72" width="1.3" height="1.3"/><rect x="322.83" y="710.13" width="1.3" height="1.3"/><rect x="317.36" y="819.58" width="1.3" height="1.3"/><rect x="327.04" y="694.93" width="1.3" height="1.3"/><rect x="323.58" y="706.91" width="1.3" height="1.3"/><rect x="330.86" y="726.11" width="1.3" height="1.3"/><rect x="328.58" y="749.79" width="1.3" height="1.3"/><rect x="330.34" y="750.54" width="1.3" height="1.3"/><rect x="327.08" y="823.99" width="1.3" height="1.3"/><rect x="316.28" y="741.31" width="1.3" height="1.3"/><rect x="317.31" y="714.25" width="1.3" height="1.3"/><rect x="318.83" y="710.09" width="1.3" height="1.3"/><rect x="319.06" y="751.67" width="1.3" height="1.3"/><rect x="323.81" y="735.01" width="1.3" height="1.3"/><rect x="321.64" y="743.66" width="1.3" height="1.3"/><rect x="317.55" y="731.55" width="1.3" height="1.3"/><rect x="326.37" y="725.29" width="1.3" height="1.3"/><rect x="316.19" y="717.62" width="1.3" height="1.3"/><rect x="322.30" y="733.66" width="1.3" height="1.3"/><rect x="322.29" y="738.21" width="1.3" height="1.3"/><rect x="324.72" y="722.48" width="1.3" height="1.3"/><rect x="322.31" y="750.15" width="1.3" height="1.3"/><rect x="330.81" y="752.94" width="1.3" height="1.3"/><rect x="314.87" y="724.06" width="1.3" height="1.3"/><rect x="322.42" y="720.42" width="1.3" height="1.3"/><rect x="330.38" y="744.98" width="1.3" height="1.3"/><rect x="318.58" y="754.10" width="1.3" height="1.3"/><rect x="317.22" y="732.99" width="1.3" height="1.3"/><rect x="324.34" y="733.09" width="1.3" height="1.3"/><rect x="325.36" y="776.21" width="1.3" height="1.3"/><rect x="326.43" y="773.15" width="1.3" height="1.3"/><rect x="319.71" y="754.39" width="1.3" height="1.3"/><rect x="327.67" y="687.23" width="1.3" height="1.3"/><rect x="327.30" y="716.70" width="1.3" height="1.3"/><rect x="316.72" y="729.20" width="1.3" height="1.3"/><rect x="324.50" y="725.56" width="1.3" height="1.3"/><rect x="322.76" y="731.68" width="1.3" height="1.3"/><rect x="328.88" y="753.81" width="1.3" height="1.3"/><rect x="326.75" y="760.63" width="1.3" height="1.3"/><rect x="323.80" y="719.72" width="1.3" height="1.3"/><rect x="314.61" y="718.51" width="1.3" height="1.3"/><rect x="321.88" y="742.20" width="1.3" height="1.3"/><rect x="327.07" y="745.95" width="1.3" height="1.3"/><rect x="331.30" y="719.92" width="1.3" height="1.3"/><rect x="327.14" y="759.52" width="1.3" height="1.3"/><rect x="323.27" y="692.11" width="1.3" height="1.3"/><rect x="326.43" y="722.98" width="1.3" height="1.3"/><rect x="325.01" y="729.67" width="1.3" height="1.3"/><rect x="321.90" y="745.88" width="1.3" height="1.3"/><rect x="318.20" y="691.98" width="1.3" height="1.3"/><rect x="323.67" y="702.26" width="1.3" height="1.3"/><rect x="326.14" y="772.11" width="1.3" height="1.3"/><rect x="321.88" y="702.36" width="1.3" height="1.3"/><rect x="320.39" y="686.36" width="1.3" height="1.3"/><rect x="330.52" y="751.05" width="1.3" height="1.3"/><rect x="328.93" y="727.51" width="1.3" height="1.3"/><rect x="320.53" y="756.81" width="1.3" height="1.3"/><rect x="321.21" y="748.16" width="1.3" height="1.3"/><rect x="324.58" y="748.82" width="1.3" height="1.3"/><rect x="327.26" y="742.83" width="1.3" height="1.3"/><rect x="329.18" y="749.12" width="1.3" height="1.3"/><rect x="329.51" y="749.06" width="1.3" height="1.3"/><rect x="326.69" y="741.44" width="1.3" height="1.3"/><rect x="330.45" y="726.37" width="1.3" height="1.3"/><rect x="317.42" y="746.26" width="1.3" height="1.3"/><rect x="320.84" y="785.86" width="1.3" height="1.3"/><rect x="320.52" y="771.81" width="1.3" height="1.3"/><rect x="323.84" y="814.66" width="1.3" height="1.3"/><rect x="326.17" y="739.98" width="1.3" height="1.3"/><rect x="326.04" y="766.85" width="1.3" height="1.3"/><rect x="322.86" y="723.25" width="1.3" height="1.3"/><rect x="324.61" y="754.86" width="1.3" height="1.3"/><rect x="320.91" y="725.36" width="1.3" height="1.3"/><rect x="331.19" y="749.87" width="1.3" height="1.3"/><rect x="314.71" y="734.45" width="1.3" height="1.3"/><rect x="325.77" y="726.97" width="1.3" height="1.3"/><rect x="323.02" y="723.13" width="1.3" height="1.3"/><rect x="318.95" y="778.07" width="1.3" height="1.3"/><rect x="315.47" y="719.71" width="1.3" height="1.3"/><rect x="317.28" y="732.22" width="1.3" height="1.3"/><rect x="321.30" y="751.81" width="1.3" height="1.3"/><rect x="324.50" y="715.94" width="1.3" height="1.3"/><rect x="321.11" y="732.82" width="1.3" height="1.3"/><rect x="317.24" y="734.81" width="1.3" height="1.3"/><rect x="317.47" y="716.38" width="1.3" height="1.3"/><rect x="325.87" y="786.85" width="1.3" height="1.3"/><rect x="319.71" y="697.58" width="1.3" height="1.3"/><rect x="315.18" y="807.43" width="1.3" height="1.3"/><rect x="325.36" y="709.21" width="1.3" height="1.3"/><rect x="323.45" y="750.89" width="1.3" height="1.3"/><rect x="317.83" y="734.91" width="1.3" height="1.3"/><rect x="313.64" y="725.79" width="1.3" height="1.3"/><rect x="318.19" y="728.40" width="1.3" height="1.3"/><rect x="318.96" y="751.12" width="1.3" height="1.3"/><rect x="322.42" y="743.11" width="1.3" height="1.3"/><rect x="322.94" y="751.05" width="1.3" height="1.3"/><rect x="318.77" y="716.02" width="1.3" height="1.3"/><rect x="323.30" y="749.05" width="1.3" height="1.3"/><rect x="330.83" y="694.60" width="1.3" height="1.3"/><rect x="322.65" y="728.32" width="1.3" height="1.3"/><rect x="331.23" y="825.77" width="1.3" height="1.3"/><rect x="320.36" y="685.87" width="1.3" height="1.3"/><rect x="323.47" y="775.53" width="1.3" height="1.3"/><rect x="321.70" y="767.35" width="1.3" height="1.3"/><rect x="323.13" y="714.99" width="1.3" height="1.3"/><rect x="324.72" y="732.17" width="1.3" height="1.3"/><rect x="323.41" y="731.76" width="1.3" height="1.3"/><rect x="326.38" y="721.51" width="1.3" height="1.3"/><rect x="313.97" y="792.54" width="1.3" height="1.3"/><rect x="316.29" y="712.84" width="1.3" height="1.3"/><rect x="328.25" y="729.96" width="1.3" height="1.3"/><rect x="324.42" y="710.36" width="1.3" height="1.3"/><rect x="323.49" y="817.89" width="1.3" height="1.3"/><rect x="317.89" y="738.77" width="1.3" height="1.3"/><rect x="329.87" y="718.31" width="1.3" height="1.3"/><rect x="316.71" y="780.53" width="1.3" height="1.3"/><rect x="328.55" y="717.91" width="1.3" height="1.3"/><rect x="322.23" y="738.81" width="1.3" height="1.3"/><rect x="314.23" y="738.95" width="1.3" height="1.3"/><rect x="316.02" y="737.11" width="1.3" height="1.3"/><rect x="322.34" y="709.78" width="1.3" height="1.3"/><rect x="326.39" y="718.16" width="1.3" height="1.3"/><rect x="321.77" y="688.74" width="1.3" height="1.3"/><rect x="328.21" y="787.40" width="1.3" height="1.3"/><rect x="314.03" y="705.10" width="1.3" height="1.3"/><rect x="314.19" y="738.51" width="1.3" height="1.3"/><rect x="315.38" y="815.17" width="1.3" height="1.3"/><rect x="315.37" y="725.00" width="1.3" height="1.3"/><rect x="316.38" y="712.67" width="1.3" height="1.3"/><rect x="320.11" y="708.10" width="1.3" height="1.3"/><rect x="321.89" y="756.69" width="1.3" height="1.3"/><rect x="313.52" y="711.64" width="1.3" height="1.3"/><rect x="330.27" y="740.11" width="1.3" height="1.3"/><rect x="326.10" y="702.86" width="1.3" height="1.3"/><rect x="329.70" y="737.24" width="1.3" height="1.3"/><rect x="327.47" y="725.88" width="1.3" height="1.3"/><rect x="328.70" y="710.54" width="1.3" height="1.3"/><rect x="330.99" y="793.57" width="1.3" height="1.3"/><rect x="330.61" y="735.80" width="1.3" height="1.3"/><rect x="315.72" y="741.76" width="1.3" height="1.3"/><rect x="324.67" y="795.75" width="1.3" height="1.3"/><rect x="324.27" y="724.00" width="1.3" height="1.3"/><rect x="328.78" y="711.36" width="1.3" height="1.3"/><rect x="316.77" y="736.30" width="1.3" height="1.3"/><rect x="313.37" y="763.67" width="1.3" height="1.3"/><rect x="319.26" y="684.10" width="1.3" height="1.3"/><rect x="326.24" y="775.26" width="1.3" height="1.3"/><rect x="326.36" y="717.24" width="1.3" height="1.3"/><rect x="320.50" y="744.23" width="1.3" height="1.3"/><rect x="321.68" y="728.73" width="1.3" height="1.3"/><rect x="327.44" y="782.12" width="1.3" height="1.3"/><rect x="313.99" y="772.24" width="1.3" height="1.3"/><rect x="326.50" y="743.23" width="1.3" height="1.3"/><rect x="315.12" y="822.56" width="1.3" height="1.3"/><rect x="324.90" y="737.24" width="1.3" height="1.3"/><rect x="314.50" y="688.22" width="1.3" height="1.3"/><rect x="324.21" y="760.07" width="1.3" height="1.3"/><rect x="321.93" y="751.03" width="1.3" height="1.3"/><rect x="322.52" y="721.67" width="1.3" height="1.3"/><rect x="315.72" y="757.04" width="1.3" height="1.3"/><rect x="322.45" y="725.49" width="1.3" height="1.3"/><rect x="319.78" y="740.94" width="1.3" height="1.3"/><rect x="320.54" y="827.10" width="1.3" height="1.3"/><rect x="320.97" y="705.52" width="1.3" height="1.3"/><rect x="319.97" y="747.60" width="1.3" height="1.3"/><rect x="315.80" y="753.11" width="1.3" height="1.3"/><rect x="324.24" y="714.57" width="1.3" height="1.3"/><rect x="327.39" y="731.95" width="1.3" height="1.3"/><rect x="325.09" y="699.58" width="1.3" height="1.3"/><rect x="329.85" y="751.31" width="1.3" height="1.3"/><rect x="314.67" y="713.80" width="1.3" height="1.3"/><rect x="322.42" y="797.78" width="1.3" height="1.3"/><rect x="319.06" y="719.58" width="1.3" height="1.3"/><rect x="326.45" y="744.12" width="1.3" height="1.3"/><rect x="315.07" y="750.33" width="1.3" height="1.3"/><rect x="316.52" y="736.15" width="1.3" height="1.3"/><rect x="320.09" y="742.19" width="1.3" height="1.3"/><rect x="325.00" y="742.74" width="1.3" height="1.3"/><rect x="328.59" y="734.43" width="1.3" height="1.3"/><rect x="327.72" y="729.11" width="1.3" height="1.3"/><rect x="315.91" y="738.13" width="1.3" height="1.3"/><rect x="327.01" y="695.97" width="1.3" height="1.3"/><rect x="316.98" y="734.47" width="1.3" height="1.3"/><rect x="318.36" y="725.58" width="1.3" height="1.3"/><rect x="324.85" y="788.36" width="1.3" height="1.3"/><rect x="314.74" y="711.37" width="1.3" height="1.3"/><rect x="319.83" y="734.58" width="1.3" height="1.3"/><rect x="327.89" y="766.20" width="1.3" height="1.3"/><rect x="320.74" y="697.88" width="1.3" height="1.3"/><rect x="320.79" y="706.58" width="1.3" height="1.3"/><rect x="314.20" y="697.18" width="1.3" height="1.3"/><rect x="321.73" y="728.28" width="1.3" height="1.3"/><rect x="327.37" y="764.77" width="1.3" height="1.3"/><rect x="327.81" y="731.45" width="1.3" height="1.3"/><rect x="327.19" y="693.88" width="1.3" height="1.3"/><rect x="317.01" y="743.10" width="1.3" height="1.3"/><rect x="325.51" y="750.16" width="1.3" height="1.3"/><rect x="316.91" y="699.23" width="1.3" height="1.3"/><rect x="317.51" y="701.20" width="1.3" height="1.3"/><rect x="319.70" y="751.80" width="1.3" height="1.3"/><rect x="326.31" y="718.48" width="1.3" height="1.3"/><rect x="320.01" y="749.37" width="1.3" height="1.3"/><rect x="326.15" y="749.12" width="1.3" height="1.3"/><rect x="315.96" y="730.69" width="1.3" height="1.3"/><rect x="314.78" y="735.40" width="1.3" height="1.3"/><rect x="319.05" y="803.88" width="1.3" height="1.3"/><rect x="315.82" y="736.75" width="1.3" height="1.3"/><rect x="315.25" y="738.61" width="1.3" height="1.3"/><rect x="327.58" y="717.00" width="1.3" height="1.3"/><rect x="319.03" y="695.90" width="1.3" height="1.3"/><rect x="319.74" y="727.32" width="1.3" height="1.3"/><rect x="329.91" y="721.43" width="1.3" height="1.3"/><rect x="328.46" y="727.30" width="1.3" height="1.3"/><rect x="318.49" y="756.97" width="1.3" height="1.3"/><rect x="330.32" y="725.83" width="1.3" height="1.3"/><rect x="326.51" y="694.16" width="1.3" height="1.3"/></g>
<path d="M348.80,787.40 L349.04,787.90 L349.29,788.41 L349.54,788.91 L349.79,789.42 L350.04,789.92 L350.29,790.43 L350.54,790.93 L350.79,791.44 L351.03,791.94 L351.28,792.45 L351.52,792.95 L351.76,793.46 L351.99,793.96 L352.22,794.47 L352.45,794.98 L352.67,795.48 L352.91,795.99 L353.16,796.49 L353.42,797.00 L353.69,797.50 L353.96,798.00 L354.22,798.51 L354.49,799.01 L354.74,799.52 L354.99,800.02 L355.22,800.53 L355.44,801.03 L355.63,801.54 L355.80,802.04 L355.95,802.55 L356.06,803.05 L356.15,803.56 L356.19,804.06 L356.20,804.57 L356.19,805.07 L356.17,805.58 L356.14,806.08 L356.09,806.59 L356.04,807.09 L355.98,807.60 L355.91,808.11 L355.84,808.61 L355.75,809.12 L355.66,809.62 L355.56,810.12 L355.46,810.63 L355.35,811.13 L355.24,811.64 L355.12,812.14 L355.01,812.65 L354.88,813.15 L354.76,813.66 L354.63,814.16 L354.51,814.67 L354.38,815.17 L354.25,815.68 L354.11,816.18 L353.95,816.69 L353.77,817.19 L353.58,817.70 L353.37,818.20 L353.16,818.71 L352.93,819.21 L352.70,819.72 L352.46,820.22 L352.22,820.73 L351.98,821.23 L351.74,821.74 L351.50,822.25 L351.27,822.75 L351.04,823.25 L350.80,823.76 L350.56,824.26 L350.31,824.77 L350.06,825.27 L349.81,825.78 L349.55,826.28 L349.30,826.79 L349.05,827.29 L348.80,827.80 L343.20,827.80 L342.95,827.29 L342.70,826.79 L342.45,826.28 L342.19,825.78 L341.94,825.27 L341.69,824.77 L341.44,824.26 L341.20,823.76 L340.96,823.25 L340.73,822.75 L340.50,822.25 L340.26,821.74 L340.02,821.23 L339.78,820.73 L339.54,820.22 L339.30,819.72 L339.07,819.21 L338.84,818.71 L338.63,818.20 L338.42,817.70 L338.23,817.19 L338.05,816.69 L337.89,816.18 L337.75,815.68 L337.62,815.17 L337.49,814.67 L337.37,814.16 L337.24,813.66 L337.12,813.15 L336.99,812.65 L336.88,812.14 L336.76,811.64 L336.65,811.13 L336.54,810.63 L336.44,810.12 L336.34,809.62 L336.25,809.12 L336.16,808.61 L336.09,808.11 L336.02,807.60 L335.96,807.09 L335.91,806.59 L335.86,806.08 L335.83,805.58 L335.81,805.07 L335.80,804.57 L335.81,804.06 L335.85,803.56 L335.94,803.05 L336.05,802.55 L336.20,802.04 L336.37,801.54 L336.56,801.03 L336.78,800.53 L337.01,800.02 L337.26,799.52 L337.51,799.01 L337.78,798.51 L338.04,798.00 L338.31,797.50 L338.58,797.00 L338.84,796.49 L339.09,795.99 L339.33,795.48 L339.55,794.98 L339.78,794.47 L340.01,793.96 L340.24,793.46 L340.48,792.95 L340.72,792.45 L340.97,791.94 L341.21,791.44 L341.46,790.93 L341.71,790.43 L341.96,789.92 L342.21,789.42 L342.46,788.91 L342.71,788.41 L342.96,787.90 L343.20,787.40 Z" fill="#ff7f00" stroke="#2e2e2e" stroke-width="1.1" stroke-linejoin="round"/>
<g fill="#000"><rect x="337.48" y="800.50" width="1.3" height="1.3"/><rect x="346.52" y="808.82" width="1.3" height="1.3"/><rect x="348.49" y="798.50" width="1.3" height="1.3"/><rect x="343.15" y="800.31" width="1.3" height="1.3"/><rect x="341.69" y="797.66" width="1.3" height="1.3"/><rect x="336.88" y="798.79" width="1.3" height="1.3"/><rect x="352.17" y="806.17" width="1.3" height="1.3"/><rect x="345.81" y="801.31" width="1.3" height="1.3"/><rect x="350.49" y="787.72" width="1.3" height="1.3"/><rect x="342.54" y="809.23" width="1.3" height="1.3"/><rect x="350.61" y="817.10" width="1.3" height="1.3"/><rect x="344.66" y="816.08" width="1.3" height="1.3"/><rect x="345.80" y="808.30" width="1.3" height="1.3"/><rect x="352.70" y="811.65" width="1.3" height="1.3"/><rect x="339.31" y="801.91" width="1.3" height="1.3"/><rect x="349.92" y="809.50" width="1.3" height="1.3"/><rect x="341.88" y="806.51" width="1.3" height="1.3"/><rect x="340.39" y="822.44" width="1.3" height="1.3"/><rect x="337.81" y="818.15" width="1.3" height="1.3"/><rect x="337.44" y="815.41" width="1.3" height="1.3"/><rect x="352.29" y="800.41" width="1.3" height="1.3"/><rect x="344.37" y="824.51" width="1.3" height="1.3"/><rect x="338.33" y="797.80" width="1.3" height="1.3"/><rect x="344.86" y="800.22" width="1.3" height="1.3"/><rect x="353.27" y="804.33" width="1.3" height="1.3"/><rect x="340.75" y="820.24" width="1.3" height="1.3"/><rect x="347.26" y="805.32" width="1.3" height="1.3"/><rect x="337.98" y="799.37" width="1.3" height="1.3"/><rect x="340.62" y="820.72" width="1.3" height="1.3"/><rect x="338.19" y="823.02" width="1.3" height="1.3"/><rect x="349.79" y="815.70" width="1.3" height="1.3"/><rect x="341.23" y="817.75" width="1.3" height="1.3"/><rect x="342.19" y="807.97" width="1.3" height="1.3"/><rect x="353.83" y="812.58" width="1.3" height="1.3"/><rect x="353.64" y="795.29" width="1.3" height="1.3"/><rect x="337.69" y="819.92" width="1.3" height="1.3"/><rect x="337.45" y="820.60" width="1.3" height="1.3"/><rect x="352.44" y="816.27" width="1.3" height="1.3"/><rect x="348.84" y="814.04" width="1.3" height="1.3"/><rect x="337.57" y="801.60" width="1.3" height="1.3"/><rect x="340.04" y="819.17" width="1.3" height="1.3"/><rect x="346.22" y="804.98" width="1.3" height="1.3"/><rect x="343.51" y="791.14" width="1.3" height="1.3"/><rect x="340.34" y="796.64" width="1.3" height="1.3"/><rect x="352.78" y="803.54" width="1.3" height="1.3"/><rect x="351.97" y="814.09" width="1.3" height="1.3"/><rect x="347.40" y="811.35" width="1.3" height="1.3"/><rect x="337.63" y="801.06" width="1.3" height="1.3"/><rect x="348.61" y="813.58" width="1.3" height="1.3"/><rect x="353.62" y="811.24" width="1.3" height="1.3"/><rect x="347.41" y="805.32" width="1.3" height="1.3"/><rect x="347.37" y="812.54" width="1.3" height="1.3"/><rect x="351.30" y="801.43" width="1.3" height="1.3"/><rect x="350.25" y="810.72" width="1.3" height="1.3"/><rect x="336.55" y="823.00" width="1.3" height="1.3"/><rect x="354.21" y="799.91" width="1.3" height="1.3"/><rect x="348.78" y="802.70" width="1.3" height="1.3"/><rect x="343.46" y="790.68" width="1.3" height="1.3"/><rect x="342.46" y="803.84" width="1.3" height="1.3"/><rect x="345.90" y="826.23" width="1.3" height="1.3"/><rect x="341.78" y="795.89" width="1.3" height="1.3"/><rect x="345.14" y="822.93" width="1.3" height="1.3"/><rect x="345.98" y="807.92" width="1.3" height="1.3"/><rect x="341.47" y="789.39" width="1.3" height="1.3"/><rect x="351.95" y="815.06" width="1.3" height="1.3"/><rect x="338.70" y="816.69" width="1.3" height="1.3"/><rect x="347.59" y="793.13" width="1.3" height="1.3"/><rect x="353.78" y="811.18" width="1.3" height="1.3"/><rect x="354.01" y="807.37" width="1.3" height="1.3"/><rect x="348.39" y="802.30" width="1.3" height="1.3"/><rect x="341.80" y="797.24" width="1.3" height="1.3"/><rect x="348.31" y="811.28" width="1.3" height="1.3"/><rect x="353.43" y="789.80" width="1.3" height="1.3"/><rect x="350.63" y="808.05" width="1.3" height="1.3"/><rect x="344.38" y="819.82" width="1.3" height="1.3"/><rect x="350.24" y="815.10" width="1.3" height="1.3"/><rect x="345.81" y="810.13" width="1.3" height="1.3"/><rect x="352.35" y="797.89" width="1.3" height="1.3"/><rect x="342.95" y="800.87" width="1.3" height="1.3"/><rect x="353.69" y="794.44" width="1.3" height="1.3"/></g>
<path d="M373.50,750.80 L373.62,751.76 L373.74,752.72 L373.85,753.69 L373.96,754.65 L374.07,755.61 L374.19,756.57 L374.31,757.54 L374.43,758.50 L374.55,759.46 L374.68,760.42 L374.82,761.39 L374.97,762.35 L375.14,763.31 L375.31,764.27 L375.51,765.24 L375.71,766.20 L375.92,767.16 L376.14,768.12 L376.36,769.09 L376.58,770.05 L376.80,771.01 L377.02,771.97 L377.24,772.94 L377.45,773.90 L377.65,774.86 L377.84,775.82 L378.02,776.79 L378.18,777.75 L378.33,778.71 L378.48,779.67 L378.63,780.64 L378.78,781.60 L378.93,782.56 L379.08,783.52 L379.21,784.49 L379.33,785.45 L379.44,786.41 L379.52,787.38 L379.57,788.34 L379.60,789.30 L379.59,790.26 L379.54,791.22 L379.44,792.19 L379.32,793.15 L379.16,794.11 L378.98,795.07 L378.77,796.04 L378.55,797.00 L378.32,797.96 L378.08,798.92 L377.83,799.89 L377.59,800.85 L377.36,801.81 L377.14,802.77 L376.93,803.74 L376.74,804.70 L376.56,805.66 L376.38,806.62 L376.20,807.59 L376.02,808.55 L375.84,809.51 L375.67,810.47 L375.49,811.44 L375.31,812.40 L375.13,813.36 L374.95,814.32 L374.76,815.29 L374.58,816.25 L374.39,817.21 L374.20,818.17 L374.01,819.14 L373.82,820.10 L373.62,821.06 L373.42,822.02 L373.22,822.99 L373.02,823.95 L372.81,824.91 L372.61,825.88 L372.40,826.84 L372.20,827.80 L366.60,827.80 L366.40,826.84 L366.19,825.88 L365.99,824.91 L365.78,823.95 L365.58,822.99 L365.38,822.02 L365.18,821.06 L364.98,820.10 L364.79,819.14 L364.60,818.17 L364.41,817.21 L364.22,816.25 L364.04,815.29 L363.85,814.32 L363.67,813.36 L363.49,812.40 L363.31,811.44 L363.13,810.47 L362.96,809.51 L362.78,808.55 L362.60,807.59 L362.42,806.62 L362.24,805.66 L362.06,804.70 L361.87,803.74 L361.66,802.77 L361.44,801.81 L361.21,800.85 L360.97,799.89 L360.72,798.92 L360.48,797.96 L360.25,797.00 L360.03,796.04 L359.82,795.07 L359.64,794.11 L359.48,793.15 L359.36,792.19 L359.26,791.22 L359.21,790.26 L359.20,789.30 L359.23,788.34 L359.28,787.38 L359.36,786.41 L359.47,785.45 L359.59,784.49 L359.72,783.52 L359.87,782.56 L360.02,781.60 L360.17,780.64 L360.32,779.67 L360.47,778.71 L360.62,777.75 L360.78,776.79 L360.96,775.82 L361.15,774.86 L361.35,773.90 L361.56,772.94 L361.78,771.97 L362.00,771.01 L362.22,770.05 L362.44,769.09 L362.66,768.12 L362.88,767.16 L363.09,766.20 L363.29,765.24 L363.49,764.27 L363.66,763.31 L363.83,762.35 L363.98,761.39 L364.12,760.42 L364.25,759.46 L364.37,758.50 L364.49,757.54 L364.61,756.57 L364.73,755.61 L364.84,754.65 L364.95,753.69 L365.06,752.72 L365.18,751.76 L365.30,750.80 Z" fill="#fb9a99" stroke="#2e2e2e" stroke-width="1.1" stroke-linejoin="round"/>
<g fill="#000"><rect x="362.69" y="795.50" width="1.3" height="1.3"/><rect x="363.73" y="772.94" width="1.3" height="1.3"/><rect x="368.64" y="761.48" width="1.3" height="1.3"/><rect x="376.87" y="782.49" width="1.3" height="1.3"/><rect x="360.28" y="791.15" width="1.3" height="1.3"/><rect x="360.66" y="797.07" width="1.3" height="1.3"/><rect x="372.12" y="804.21" width="1.3" height="1.3"/><rect x="377.16" y="768.98" width="1.3" height="1.3"/><rect x="366.39" y="791.81" width="1.3" height="1.3"/><rect x="365.07" y="820.22" width="1.3" height="1.3"/><rect x="366.16" y="777.38" width="1.3" height="1.3"/><rect x="370.84" y="765.84" width="1.3" height="1.3"/><rect x="369.37" y="800.81" width="1.3" height="1.3"/><rect x="374.29" y="754.47" width="1.3" height="1.3"/><rect x="374.01" y="768.94" width="1.3" height="1.3"/><rect x="376.81" y="791.47" width="1.3" height="1.3"/><rect x="363.33" y="803.63" width="1.3" height="1.3"/><rect x="369.71" y="787.25" width="1.3" height="1.3"/><rect x="361.92" y="782.23" width="1.3" height="1.3"/><rect x="377.47" y="818.00" width="1.3" height="1.3"/><rect x="359.83" y="822.67" width="1.3" height="1.3"/><rect x="374.21" y="759.88" width="1.3" height="1.3"/><rect x="361.81" y="796.82" width="1.3" height="1.3"/><rect x="362.16" y="799.62" width="1.3" height="1.3"/><rect x="374.17" y="795.88" width="1.3" height="1.3"/><rect x="365.22" y="813.81" width="1.3" height="1.3"/><rect x="360.26" y="761.23" width="1.3" height="1.3"/><rect x="376.17" y="812.40" width="1.3" height="1.3"/><rect x="365.97" y="812.20" width="1.3" height="1.3"/><rect x="364.96" y="786.60" width="1.3" height="1.3"/><rect x="377.19" y="783.35" width="1.3" height="1.3"/><rect x="370.85" y="821.27" width="1.3" height="1.3"/><rect x="374.47" y="756.32" width="1.3" height="1.3"/><rect x="360.74" y="785.37" width="1.3" height="1.3"/><rect x="367.09" y="810.91" width="1.3" height="1.3"/><rect x="360.88" y="761.33" width="1.3" height="1.3"/><rect x="367.40" y="759.39" width="1.3" height="1.3"/><rect x="369.71" y="797.12" width="1.3" height="1.3"/><rect x="374.86" y="762.44" width="1.3" height="1.3"/><rect x="371.14" y="795.19" width="1.3" height="1.3"/><rect x="367.52" y="753.85" width="1.3" height="1.3"/><rect x="360.59" y="795.67" width="1.3" height="1.3"/><rect x="376.50" y="793.18" width="1.3" height="1.3"/><rect x="360.04" y="766.06" width="1.3" height="1.3"/><rect x="360.03" y="817.23" width="1.3" height="1.3"/><rect x="370.81" y="794.52" width="1.3" height="1.3"/><rect x="364.96" y="771.71" width="1.3" height="1.3"/><rect x="375.40" y="808.64" width="1.3" height="1.3"/><rect x="371.39" y="794.98" width="1.3" height="1.3"/><rect x="360.46" y="774.06" width="1.3" height="1.3"/><rect x="361.55" y="797.15" width="1.3" height="1.3"/><rect x="373.34" y="809.95" width="1.3" height="1.3"/><rect x="376.54" y="771.17" width="1.3" height="1.3"/><rect x="366.58" y="794.98" width="1.3" height="1.3"/><rect x="371.31" y="794.02" width="1.3" height="1.3"/><rect x="366.35" y="767.48" width="1.3" height="1.3"/><rect x="369.60" y="783.58" width="1.3" height="1.3"/><rect x="369.70" y="790.03" width="1.3" height="1.3"/><rect x="369.70" y="802.37" width="1.3" height="1.3"/><rect x="367.66" y="768.32" width="1.3" height="1.3"/></g>
<line x1="216.7" y1="661.6" x2="216.7" y2="834.4" stroke="#111" stroke-width="1.3"/>
<line x1="216.04999999999998" y1="834.4" x2="383.4" y2="834.4" stroke="#111" stroke-width="1.3"/>
<line x1="230.3" y1="834.4" x2="230.3" y2="837.8" stroke="#111" stroke-width="1"/>
<text x="0.00" y="0.00" font-size="10.0" text-anchor="middle" font-weight="normal" font-style="normal" fill="#1a1a1a" transform="translate(232.80,850.10) rotate(-45)">S1</text>
<line x1="253.3" y1="834.4" x2="253.3" y2="837.8" stroke="#111" stroke-width="1"/>
<text x="0.00" y="0.00" font-size="10.0" text-anchor="middle" font-weight="normal" font-style="normal" fill="#1a1a1a" transform="translate(255.80,850.10) rotate(-45)">S2</text>
<line x1="276.7" y1="834.4" x2="276.7" y2="837.8" stroke="#111" stroke-width="1"/>
<text x="0.00" y="0.00" font-size="10.0" text-anchor="middle" font-weight="normal" font-style="normal" fill="#1a1a1a" transform="translate(279.20,850.10) rotate(-45)">S3</text>
<line x1="300.0" y1="834.4" x2="300.0" y2="837.8" stroke="#111" stroke-width="1"/>
<text x="0.00" y="0.00" font-size="10.0" text-anchor="middle" font-weight="normal" font-style="normal" fill="#1a1a1a" transform="translate(302.50,850.10) rotate(-45)">S4</text>
<line x1="323.0" y1="834.4" x2="323.0" y2="837.8" stroke="#111" stroke-width="1"/>
<text x="0.00" y="0.00" font-size="10.0" text-anchor="middle" font-weight="normal" font-style="normal" fill="#1a1a1a" transform="translate(325.50,850.10) rotate(-45)">S5</text>
<line x1="346.0" y1="834.4" x2="346.0" y2="837.8" stroke="#111" stroke-width="1"/>
<text x="0.00" y="0.00" font-size="10.0" text-anchor="middle" font-weight="normal" font-style="normal" fill="#1a1a1a" transform="translate(348.50,850.10) rotate(-45)">S6</text>
<line x1="369.4" y1="834.4" x2="369.4" y2="837.8" stroke="#111" stroke-width="1"/>
<text x="0.00" y="0.00" font-size="10.0" text-anchor="middle" font-weight="normal" font-style="normal" fill="#1a1a1a" transform="translate(371.90,850.10) rotate(-45)">S7</text>
<path d="M229.3,677.3000000000001 V672.6 H344.5 V677.3000000000001" fill="none" stroke="#111" stroke-width="1"/>
<path d="M346.4,677.3000000000001 V672.6 H368.4 V677.3000000000001" fill="none" stroke="#111" stroke-width="1"/>
<text x="284.10" y="670.80" font-size="10" text-anchor="middle" font-weight="normal" font-style="normal" fill="#111" >****</text>
<text x="357.10" y="670.80" font-size="10" text-anchor="middle" font-weight="normal" font-style="normal" fill="#111" >****</text>
<text x="294.60" y="864.30" font-size="9.6" text-anchor="middle" font-weight="normal" font-style="normal" fill="#111" >B cell states</text>
<text x="0.00" y="0.00" font-size="9.6" text-anchor="middle" font-weight="normal" font-style="normal" fill="#111" transform="translate(191.8,745.0) rotate(-90)">Relative distance to</text>
<text x="0.00" y="0.00" font-size="9.6" text-anchor="middle" font-weight="normal" font-style="normal" fill="#111" transform="translate(203.7,745.0) rotate(-90)">TLS</text>
<line x1="438.0" y1="643.2" x2="438.0" y2="788.6" stroke="#111" stroke-width="1.4"/>
<line x1="437.3" y1="788.0" x2="662.7" y2="788.0" stroke="#111" stroke-width="1.4"/>
<line x1="435.0" y1="648.70" x2="438" y2="648.70" stroke="#111" stroke-width="1"/>
<text x="432.50" y="652.10" font-size="9.6" text-anchor="end" font-weight="normal" font-style="normal" fill="#1a1a1a" >1.00</text>
<line x1="435.0" y1="678.97" x2="438" y2="678.97" stroke="#111" stroke-width="1"/>
<text x="432.50" y="682.37" font-size="9.6" text-anchor="end" font-weight="normal" font-style="normal" fill="#1a1a1a" >0.75</text>
<line x1="435.0" y1="709.25" x2="438" y2="709.25" stroke="#111" stroke-width="1"/>
<text x="432.50" y="712.65" font-size="9.6" text-anchor="end" font-weight="normal" font-style="normal" fill="#1a1a1a" >0.5</text>
<line x1="435.0" y1="739.52" x2="438" y2="739.52" stroke="#111" stroke-width="1"/>
<text x="432.50" y="742.92" font-size="9.6" text-anchor="end" font-weight="normal" font-style="normal" fill="#1a1a1a" >0.25</text>
<line x1="435.0" y1="769.80" x2="438" y2="769.80" stroke="#111" stroke-width="1"/>
<text x="432.50" y="773.20" font-size="9.6" text-anchor="end" font-weight="normal" font-style="normal" fill="#1a1a1a" >0</text>
<line x1="440.80" y1="788" x2="440.80" y2="791" stroke="#111" stroke-width="1"/>
<text x="440.80" y="800.50" font-size="9.6" text-anchor="middle" font-weight="normal" font-style="normal" fill="#1a1a1a" >0</text>
<line x1="467.60" y1="788" x2="467.60" y2="791" stroke="#111" stroke-width="1"/>
<text x="467.60" y="800.50" font-size="9.6" text-anchor="middle" font-weight="normal" font-style="normal" fill="#1a1a1a" >2.5</text>
<line x1="494.40" y1="788" x2="494.40" y2="791" stroke="#111" stroke-width="1"/>
<text x="494.40" y="800.50" font-size="9.6" text-anchor="middle" font-weight="normal" font-style="normal" fill="#1a1a1a" >5</text>
<line x1="521.20" y1="788" x2="521.20" y2="791" stroke="#111" stroke-width="1"/>
<text x="521.20" y="800.50" font-size="9.6" text-anchor="middle" font-weight="normal" font-style="normal" fill="#1a1a1a" >7.5</text>
<line x1="548.00" y1="788" x2="548.00" y2="791" stroke="#111" stroke-width="1"/>
<text x="548.00" y="800.50" font-size="9.6" text-anchor="middle" font-weight="normal" font-style="normal" fill="#1a1a1a" >10</text>
<line x1="574.80" y1="788" x2="574.80" y2="791" stroke="#111" stroke-width="1"/>
<text x="574.80" y="800.50" font-size="9.6" text-anchor="middle" font-weight="normal" font-style="normal" fill="#1a1a1a" >12.5</text>
<line x1="601.60" y1="788" x2="601.60" y2="791" stroke="#111" stroke-width="1"/>
<text x="601.60" y="800.50" font-size="9.6" text-anchor="middle" font-weight="normal" font-style="normal" fill="#1a1a1a" >15</text>
<line x1="628.40" y1="788" x2="628.40" y2="791" stroke="#111" stroke-width="1"/>
<text x="628.40" y="800.50" font-size="9.6" text-anchor="middle" font-weight="normal" font-style="normal" fill="#1a1a1a" >17.5</text>
<line x1="655.20" y1="788" x2="655.20" y2="791" stroke="#111" stroke-width="1"/>
<text x="655.20" y="800.50" font-size="9.6" text-anchor="middle" font-weight="normal" font-style="normal" fill="#1a1a1a" >20</text>
<text x="557.90" y="811.70" font-size="9.6" text-anchor="middle" font-weight="normal" font-style="normal" fill="#111" >Follow-up time (months)</text>
<text x="0.00" y="0.00" font-size="9.6" text-anchor="middle" font-weight="normal" font-style="normal" fill="#111" transform="translate(409.7,711) rotate(-90)">Survival probability</text>
<path d="M440.4,648.5 H458.6 V654.3 H470.3 V660.2 H497.3 V666.3 H501 V671.4 H507.2 V678.2 H513.1 V685 H519.2 V691.4 H536.6 V698.7 H561.1 V706.4 H582.6 V715.6 H606.6 V726.4 H665.3 V747.6 H667.5" fill="none" stroke="#1f6a7e" stroke-width="1.3" stroke-linejoin="miter"/>
<g stroke="#1f6a7e" stroke-width="0.9"><line x1="470.30" y1="652.30" x2="470.30" y2="656.30"/><line x1="491.50" y1="658.20" x2="491.50" y2="662.20"/><line x1="503.90" y1="669.40" x2="503.90" y2="673.40"/><line x1="528.70" y1="689.40" x2="528.70" y2="693.40"/><line x1="587.90" y1="713.60" x2="587.90" y2="717.60"/><line x1="612.40" y1="724.40" x2="612.40" y2="728.40"/><line x1="619.30" y1="724.40" x2="619.30" y2="728.40"/><line x1="667.00" y1="745.60" x2="667.00" y2="749.60"/></g>
<path d="M440.4,648.5 H446.6 V654.2 H470.3 V660.2 H476.9 V664.9 H497.3 V677.2 H513.1 V682.3 H523.6 V689.3 H554.8 V696.2 H572.3 V705.4 H579.6 V716.2 H585.5 V727.6 H597.4 V737.4 H609.1 V748.3 H615.7 V758.5 H628.8" fill="none" stroke="#3ab9cf" stroke-width="1.3" stroke-linejoin="miter"/>
<g stroke="#3ab9cf" stroke-width="0.9"><line x1="479.40" y1="662.90" x2="479.40" y2="666.90"/><line x1="534.40" y1="687.30" x2="534.40" y2="691.30"/><line x1="553.40" y1="687.30" x2="553.40" y2="691.30"/><line x1="561.40" y1="694.20" x2="561.40" y2="698.20"/><line x1="576.70" y1="703.40" x2="576.70" y2="707.40"/><line x1="627.50" y1="756.50" x2="627.50" y2="760.50"/></g>
<path d="M440.4,648.5 H531 V654.6 H534.1 V661.6 H541.7 V667.4 H559.9 V674.7 H660.9" fill="none" stroke="#f77ba2" stroke-width="1.3" stroke-linejoin="miter"/>
<g stroke="#f77ba2" stroke-width="0.9"><line x1="455.30" y1="646.50" x2="455.30" y2="650.50"/><line x1="498.00" y1="646.50" x2="498.00" y2="650.50"/><line x1="509.70" y1="646.50" x2="509.70" y2="650.50"/><line x1="554.80" y1="665.40" x2="554.80" y2="669.40"/><line x1="558.50" y1="665.40" x2="558.50" y2="669.40"/><line x1="562.80" y1="672.70" x2="562.80" y2="676.70"/><line x1="565.00" y1="672.70" x2="565.00" y2="676.70"/><line x1="579.60" y1="672.70" x2="579.60" y2="676.70"/><line x1="581.10" y1="672.70" x2="581.10" y2="676.70"/><line x1="588.40" y1="672.70" x2="588.40" y2="676.70"/><line x1="591.30" y1="672.70" x2="591.30" y2="676.70"/><line x1="597.20" y1="672.70" x2="597.20" y2="676.70"/><line x1="603.00" y1="672.70" x2="603.00" y2="676.70"/><line x1="605.20" y1="672.70" x2="605.20" y2="676.70"/><line x1="607.40" y1="672.70" x2="607.40" y2="676.70"/><line x1="609.60" y1="672.70" x2="609.60" y2="676.70"/><line x1="653.60" y1="672.70" x2="653.60" y2="676.70"/><line x1="656.50" y1="672.70" x2="656.50" y2="676.70"/><line x1="659.50" y1="672.70" x2="659.50" y2="676.70"/></g>
<path d="M440.4,648.5 H442.9 V654.3 H449.5 V659.8 H458.6 V664.9 H461.5 V670.4 H464.5 V676.5 H467.4 V682.3 H476.6 V688.2 H479.5 V694.3 H521.4 V702.5 H535.5 V713.3 H553.4 V724.4 H556.3 V736.1 H603.2 V752.7 H623.7" fill="none" stroke="#f9a552" stroke-width="1.3" stroke-linejoin="miter"/>
<g stroke="#f9a552" stroke-width="0.9"><line x1="503.20" y1="692.30" x2="503.20" y2="696.30"/><line x1="505.30" y1="692.30" x2="505.30" y2="696.30"/><line x1="507.50" y1="692.30" x2="507.50" y2="696.30"/><line x1="509.70" y1="692.30" x2="509.70" y2="696.30"/><line x1="511.90" y1="692.30" x2="511.90" y2="696.30"/><line x1="528.00" y1="700.50" x2="528.00" y2="704.50"/><line x1="534.40" y1="700.50" x2="534.40" y2="704.50"/><line x1="582.60" y1="734.10" x2="582.60" y2="738.10"/><line x1="621.50" y1="750.70" x2="621.50" y2="754.70"/></g>
<path d="M673.0,673.9 H677.9 V747.3 H673.0" fill="none" stroke="#333" stroke-width="1.7"/>
<text x="0.00" y="0.00" font-size="10.5" text-anchor="middle" font-weight="normal" font-style="normal" fill="#111" transform="translate(677.9,708.8) rotate(90)">***</text>
<line x1="510.8" y1="742" x2="510.8" y2="760.7" stroke="#111" stroke-width="1.1"/>
<line x1="510.8" y1="765" x2="510.8" y2="783.6" stroke="#111" stroke-width="1.1"/>
<text x="507.50" y="749.30" font-size="8.75" text-anchor="end" font-weight="normal" font-style="normal" fill="#111" >Eribulin and</text>
<text x="507.50" y="760.20" font-size="8.75" text-anchor="end" font-weight="normal" font-style="normal" fill="#111" >pembrolizumab</text>
<text x="507.50" y="777.70" font-size="8.75" text-anchor="end" font-weight="normal" font-style="normal" fill="#111" >Eribulin</text>
<text x="514.60" y="749.70" font-size="8.75" text-anchor="start" font-weight="normal" font-style="normal" fill="#111" >B.cells S06 high</text>
<line x1="582.1" y1="746.70" x2="593.1" y2="746.70" stroke="#f77ba2" stroke-width="1.2"/>
<line x1="587.3" y1="744.80" x2="587.3" y2="748.60" stroke="#f77ba2" stroke-width="0.9"/>
<text x="514.60" y="760.70" font-size="8.75" text-anchor="start" font-weight="normal" font-style="normal" fill="#111" >B.cells S06 low</text>
<line x1="582.1" y1="757.70" x2="593.1" y2="757.70" stroke="#f9a552" stroke-width="1.2"/>
<line x1="587.3" y1="755.80" x2="587.3" y2="759.60" stroke="#f9a552" stroke-width="0.9"/>
<text x="514.60" y="772.00" font-size="8.75" text-anchor="start" font-weight="normal" font-style="normal" fill="#111" >B.cells S06 high</text>
<line x1="582.1" y1="769.00" x2="593.1" y2="769.00" stroke="#1f6a7e" stroke-width="1.2"/>
<line x1="587.3" y1="767.10" x2="587.3" y2="770.90" stroke="#1f6a7e" stroke-width="0.9"/>
<text x="514.60" y="783.00" font-size="8.75" text-anchor="start" font-weight="normal" font-style="normal" fill="#111" >B.cells S06 low</text>
<line x1="582.1" y1="780.00" x2="593.1" y2="780.00" stroke="#3ab9cf" stroke-width="1.2"/>
<line x1="587.3" y1="778.10" x2="587.3" y2="781.90" stroke="#3ab9cf" stroke-width="0.9"/>
<text x="430.70" y="820.30" font-size="9.6" text-anchor="start" font-weight="normal" font-style="normal" fill="#111" >Number at risk</text>
<line x1="431.8" y1="823.2" x2="431.8" y2="866" stroke="#111" stroke-width="1.3"/>
<line x1="431.2" y1="865.2" x2="662.7" y2="865.2" stroke="#111" stroke-width="2"/>
<line x1="429.3" y1="828.60" x2="431.8" y2="828.60" stroke="#111" stroke-width="0.9"/>
<line x1="414.1" y1="828.60" x2="424.6" y2="828.60" stroke="#1f6a7e" stroke-width="1.3"/>
<line x1="419.3" y1="826.70" x2="419.3" y2="830.50" stroke="#1f6a7e" stroke-width="0.9"/>
<text x="441.30" y="832.60" font-size="9.4" text-anchor="middle" font-weight="normal" font-style="normal" fill="#111" >22</text>
<text x="468.10" y="832.60" font-size="9.4" text-anchor="middle" font-weight="normal" font-style="normal" fill="#111" >21</text>
<text x="494.90" y="832.60" font-size="9.4" text-anchor="middle" font-weight="normal" font-style="normal" fill="#111" >18</text>
<text x="521.70" y="832.60" font-size="9.4" text-anchor="middle" font-weight="normal" font-style="normal" fill="#111" >12</text>
<text x="548.50" y="832.60" font-size="9.4" text-anchor="middle" font-weight="normal" font-style="normal" fill="#111" >10</text>
<text x="575.30" y="832.60" font-size="9.4" text-anchor="middle" font-weight="normal" font-style="normal" fill="#111" >8</text>
<text x="602.10" y="832.60" font-size="9.4" text-anchor="middle" font-weight="normal" font-style="normal" fill="#111" >5</text>
<text x="628.90" y="832.60" font-size="9.4" text-anchor="middle" font-weight="normal" font-style="normal" fill="#111" >2</text>
<text x="655.70" y="832.60" font-size="9.4" text-anchor="middle" font-weight="normal" font-style="normal" fill="#111" >2</text>
<line x1="429.3" y1="838.60" x2="431.8" y2="838.60" stroke="#111" stroke-width="0.9"/>
<line x1="414.1" y1="838.60" x2="424.6" y2="838.60" stroke="#3ab9cf" stroke-width="1.3"/>
<line x1="419.3" y1="836.70" x2="419.3" y2="840.50" stroke="#3ab9cf" stroke-width="0.9"/>
<text x="441.30" y="842.60" font-size="9.4" text-anchor="middle" font-weight="normal" font-style="normal" fill="#111" >22</text>
<text x="468.10" y="842.60" font-size="9.4" text-anchor="middle" font-weight="normal" font-style="normal" fill="#111" >21</text>
<text x="494.90" y="842.60" font-size="9.4" text-anchor="middle" font-weight="normal" font-style="normal" fill="#111" >18</text>
<text x="521.70" y="842.60" font-size="9.4" text-anchor="middle" font-weight="normal" font-style="normal" fill="#111" >14</text>
<text x="548.50" y="842.60" font-size="9.4" text-anchor="middle" font-weight="normal" font-style="normal" fill="#111" >12</text>
<text x="575.30" y="842.60" font-size="9.4" text-anchor="middle" font-weight="normal" font-style="normal" fill="#111" >7</text>
<text x="602.10" y="842.60" font-size="9.4" text-anchor="middle" font-weight="normal" font-style="normal" fill="#111" >3</text>
<text x="628.90" y="842.60" font-size="9.4" text-anchor="middle" font-weight="normal" font-style="normal" fill="#111" >1</text>
<text x="655.70" y="842.60" font-size="9.4" text-anchor="middle" font-weight="normal" font-style="normal" fill="#111" >0</text>
<line x1="429.3" y1="848.60" x2="431.8" y2="848.60" stroke="#111" stroke-width="0.9"/>
<line x1="414.1" y1="848.60" x2="424.6" y2="848.60" stroke="#f77ba2" stroke-width="1.3"/>
<line x1="419.3" y1="846.70" x2="419.3" y2="850.50" stroke="#f77ba2" stroke-width="0.9"/>
<text x="441.30" y="852.60" font-size="9.4" text-anchor="middle" font-weight="normal" font-style="normal" fill="#111" >22</text>
<text x="468.10" y="852.60" font-size="9.4" text-anchor="middle" font-weight="normal" font-style="normal" fill="#111" >21</text>
<text x="494.90" y="852.60" font-size="9.4" text-anchor="middle" font-weight="normal" font-style="normal" fill="#111" >21</text>
<text x="521.70" y="852.60" font-size="9.4" text-anchor="middle" font-weight="normal" font-style="normal" fill="#111" >19</text>
<text x="548.50" y="852.60" font-size="9.4" text-anchor="middle" font-weight="normal" font-style="normal" fill="#111" >16</text>
<text x="575.30" y="852.60" font-size="9.4" text-anchor="middle" font-weight="normal" font-style="normal" fill="#111" >11</text>
<text x="602.10" y="852.60" font-size="9.4" text-anchor="middle" font-weight="normal" font-style="normal" fill="#111" >5</text>
<text x="628.90" y="852.60" font-size="9.4" text-anchor="middle" font-weight="normal" font-style="normal" fill="#111" >2</text>
<text x="655.70" y="852.60" font-size="9.4" text-anchor="middle" font-weight="normal" font-style="normal" fill="#111" >2</text>
<line x1="429.3" y1="858.60" x2="431.8" y2="858.60" stroke="#111" stroke-width="0.9"/>
<line x1="414.1" y1="858.60" x2="424.6" y2="858.60" stroke="#f9a552" stroke-width="1.3"/>
<line x1="419.3" y1="856.70" x2="419.3" y2="860.50" stroke="#f9a552" stroke-width="0.9"/>
<text x="441.30" y="862.60" font-size="9.4" text-anchor="middle" font-weight="normal" font-style="normal" fill="#111" >22</text>
<text x="468.10" y="862.60" font-size="9.4" text-anchor="middle" font-weight="normal" font-style="normal" fill="#111" >16</text>
<text x="494.90" y="862.60" font-size="9.4" text-anchor="middle" font-weight="normal" font-style="normal" fill="#111" >13</text>
<text x="521.70" y="862.60" font-size="9.4" text-anchor="middle" font-weight="normal" font-style="normal" fill="#111" >9</text>
<text x="548.50" y="862.60" font-size="9.4" text-anchor="middle" font-weight="normal" font-style="normal" fill="#111" >5</text>
<text x="575.30" y="862.60" font-size="9.4" text-anchor="middle" font-weight="normal" font-style="normal" fill="#111" >3</text>
<text x="602.10" y="862.60" font-size="9.4" text-anchor="middle" font-weight="normal" font-style="normal" fill="#111" >2</text>
<text x="628.90" y="862.60" font-size="9.4" text-anchor="middle" font-weight="normal" font-style="normal" fill="#111" >0</text>
<text x="655.70" y="862.60" font-size="9.4" text-anchor="middle" font-weight="normal" font-style="normal" fill="#111" >0</text></svg></body></html>
